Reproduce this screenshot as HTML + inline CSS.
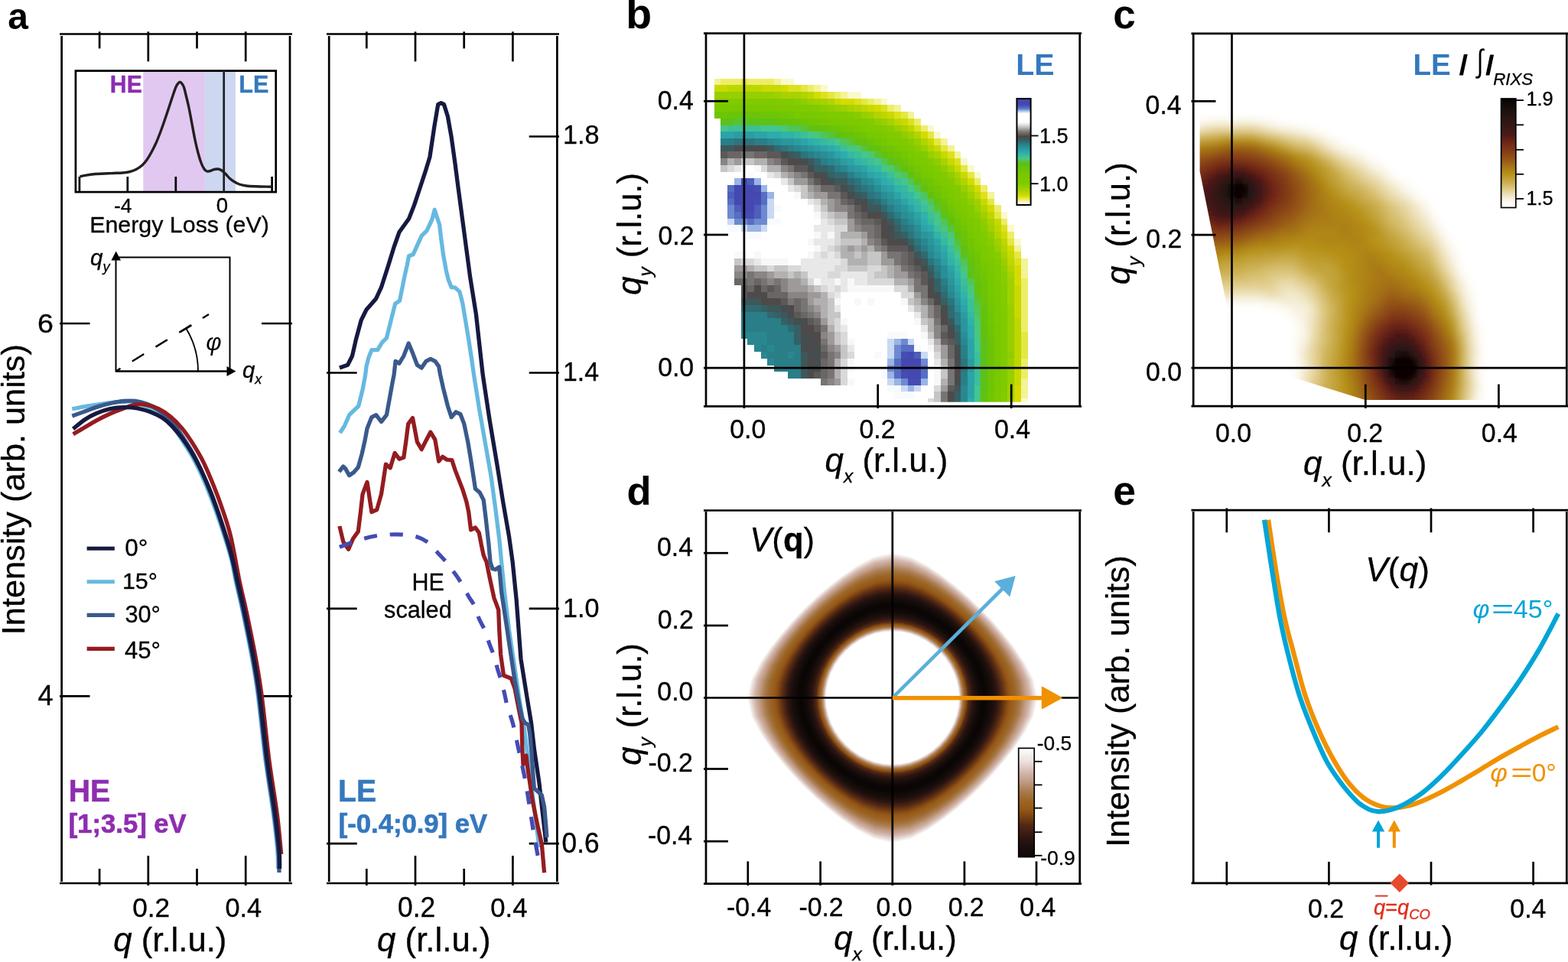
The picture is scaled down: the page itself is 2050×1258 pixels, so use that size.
<!DOCTYPE html>
<html><head><meta charset="utf-8"><title>Figure</title>
<style>
html,body{margin:0;padding:0;background:#fff;}
body{width:2050px;height:1258px;overflow:hidden;}
svg{display:block;font-family:"Liberation Sans",Arial,Helvetica,sans-serif;}
</style></head><body>
<svg xmlns="http://www.w3.org/2000/svg" width="2050" height="1258" viewBox="0 0 2050 1258">
<rect width="2050" height="1258" fill="#fff"/>
<text transform="translate(10.26,38.00)" font-size="47.92" xml:space="preserve"><tspan font-weight="bold">a</tspan></text>
<line x1="78" y1="44.5" x2="382" y2="44.5" stroke="#000" stroke-width="2.7"/>
<line x1="78" y1="1155" x2="382" y2="1155" stroke="#000" stroke-width="2.7"/>
<line x1="80.6" y1="47" x2="80.6" y2="1153" stroke="#000" stroke-width="2.7"/>
<line x1="379" y1="47" x2="379" y2="1153" stroke="#000" stroke-width="2.7"/>
<line x1="130.1" y1="41.4" x2="130.1" y2="63.4" stroke="#000" stroke-width="2.7"/>
<line x1="130.1" y1="1136" x2="130.1" y2="1158" stroke="#000" stroke-width="2.7"/>
<line x1="193.8" y1="41.4" x2="193.8" y2="80.4" stroke="#000" stroke-width="2.7"/>
<line x1="193.8" y1="1119" x2="193.8" y2="1158" stroke="#000" stroke-width="2.7"/>
<line x1="257.5" y1="41.4" x2="257.5" y2="63.4" stroke="#000" stroke-width="2.7"/>
<line x1="257.5" y1="1136" x2="257.5" y2="1158" stroke="#000" stroke-width="2.7"/>
<line x1="321.2" y1="41.4" x2="321.2" y2="80.4" stroke="#000" stroke-width="2.7"/>
<line x1="321.2" y1="1119" x2="321.2" y2="1158" stroke="#000" stroke-width="2.7"/>
<line x1="78" y1="423" x2="117.5" y2="423" stroke="#000" stroke-width="2.7"/>
<line x1="342" y1="423" x2="382" y2="423" stroke="#000" stroke-width="2.7"/>
<text transform="translate(49.12,434.90) scale(1.0447,1)" font-size="36.00" xml:space="preserve" stroke="#000" stroke-width="0.35" stroke-linejoin="round"><tspan>6</tspan></text>
<line x1="78" y1="910.4" x2="117.5" y2="910.4" stroke="#000" stroke-width="2.7"/>
<line x1="342" y1="910.4" x2="382" y2="910.4" stroke="#000" stroke-width="2.7"/>
<text transform="translate(49.40,922.30)" font-size="36.00" xml:space="preserve" stroke="#000" stroke-width="0.35" stroke-linejoin="round"><tspan>4</tspan></text>
<text transform="translate(173.19,1198.80) scale(0.9765,1)" font-size="36.00" xml:space="preserve" stroke="#000" stroke-width="0.35" stroke-linejoin="round"><tspan>0.2</tspan></text>
<text transform="translate(294.43,1198.80) scale(0.9512,1)" font-size="36.00" xml:space="preserve" stroke="#000" stroke-width="0.35" stroke-linejoin="round"><tspan>0.4</tspan></text>
<text transform="translate(148.27,1243.60)" font-size="43.71" xml:space="preserve" stroke="#000" stroke-width="0.35" stroke-linejoin="round"><tspan font-style="italic">q</tspan><tspan> (r.l.u.)</tspan></text>
<text transform="translate(31.60,830.20) rotate(-90) scale(1.0000,1)" font-size="43.29" xml:space="preserve" stroke="#000" stroke-width="0.35" stroke-linejoin="round"><tspan>Intensity (arb. units)</tspan></text>
<rect x="187.3" y="92" width="80.6" height="159" fill="#e1c8f0"/>
<rect x="267.9" y="92" width="40" height="159" fill="#cdd7f0"/>
<rect x="98.9" y="92.6" width="261.8" height="158.5" fill="none" stroke="#000" stroke-width="2.7"/>
<line x1="103.9" y1="231" x2="103.9" y2="251" stroke="#000" stroke-width="2.7"/>
<line x1="166.8" y1="231" x2="166.8" y2="251" stroke="#000" stroke-width="2.7"/>
<line x1="229.8" y1="231" x2="229.8" y2="251" stroke="#000" stroke-width="2.7"/>
<line x1="355.6" y1="231" x2="355.6" y2="251" stroke="#000" stroke-width="2.7"/>
<line x1="292.7" y1="92" x2="292.7" y2="251" stroke="#1e1e28" stroke-width="2.7"/>
<path d="M104.4,231 C105.3,230.8 106.6,230.2 110,229.6 C113.4,229 119.2,228 125,227.5 C130.8,227 139.2,226.8 145,226.6 C150.8,226.3 155.8,226.3 160,226 C164.2,225.7 167,225.2 170,224.5 C173,223.8 175.3,222.9 178,221.5 C180.7,220.1 183.7,218.1 186,216 C188.3,213.9 190,211.8 192,209 C194,206.2 196,202.7 198,199 C200,195.3 202,191.5 204,187 C206,182.5 208,177.3 210,172 C212,166.7 214,160.8 216,155 C218,149.2 220.2,142.5 222,137 C223.8,131.5 225.6,126 227,122 C228.4,118 229.2,115.3 230.2,113.2 C231.2,111.1 231.9,110.2 232.8,109.2 C233.7,108.2 234.5,107.2 235.4,107.3 C236.3,107.3 237.1,108.3 238,109.5 C238.9,110.7 239.8,112.1 240.6,114.5 C241.4,116.9 241.9,119.6 243,124 C244.1,128.4 245.7,134.7 247,141 C248.3,147.3 249.7,155 251,162 C252.3,169 253.7,176.7 255,183 C256.3,189.3 257.7,195 259,200 C260.3,205 261.7,209.5 263,213 C264.3,216.5 265.8,219.2 267,221 C268.2,222.8 269.2,223.6 270.5,224 C271.8,224.4 273.4,223.9 275,223.5 C276.6,223.1 278.3,221.9 280,221.5 C281.7,221.1 283.3,220.8 285,221 C286.7,221.2 288.3,221.9 290,223 C291.7,224.1 293.3,225.8 295,227.5 C296.7,229.2 298.2,231.3 300,233 C301.8,234.7 303.8,236.2 306,237.5 C308.2,238.8 310.3,240.1 313,241 C315.7,241.9 318.3,242.5 322,243 C325.7,243.5 329.4,243.6 335,243.8 C340.6,244 352.1,244.1 355.5,244.2" fill="none" stroke="#231f20" stroke-width="3.4" stroke-linejoin="round"/>
<text transform="translate(143.84,121.30) scale(0.9645,1)" font-size="31.30" xml:space="preserve" fill="#8e2db0" stroke="#8e2db0" stroke-width="0.40" stroke-linejoin="round"><tspan font-weight="bold">HE</tspan></text>
<text transform="translate(312.31,121.30) scale(0.9760,1)" font-size="31.30" xml:space="preserve" fill="#3478be" stroke="#3478be" stroke-width="0.40" stroke-linejoin="round"><tspan font-weight="bold">LE</tspan></text>
<text transform="translate(149.01,277.50)" font-size="26.38" xml:space="preserve" stroke="#000" stroke-width="0.30" stroke-linejoin="round"><tspan>-4</tspan></text>
<text transform="translate(282.80,277.50)" font-size="27.58" xml:space="preserve" stroke="#000" stroke-width="0.30" stroke-linejoin="round"><tspan>0</tspan></text>
<text transform="translate(117.17,304.00)" font-size="30.38" xml:space="preserve" stroke="#000" stroke-width="0.30" stroke-linejoin="round"><tspan>Energy Loss (eV)</tspan></text>
<path d="M151.5,336.5 H300.5 V485.5 H151.5 Z" fill="none" stroke="#000" stroke-width="2"/>
<line x1="151.5" y1="485.5" x2="300" y2="485.5" stroke="#000" stroke-width="2.2"/>
<path d="M145.5,340.5 L151.7,328.5 L158,340.5 Z" fill="#000"/>
<path d="M296.5,479 L308.5,485.5 L296.5,492 Z" fill="#000"/>
<path d="M151.5,485.5 L273,411" fill="none" stroke="#000" stroke-width="2.4" stroke-dasharray="18,18" stroke-dashoffset="-25"/>
<path d="M259,485.5 A107.5,107.5 0 0 0 243.3,429.5" fill="none" stroke="#000" stroke-width="1.8"/>
<line x1="236" y1="434" x2="250.5" y2="425.2" stroke="#000" stroke-width="2.2"/>
<text transform="translate(117.97,347.00)" font-size="29.53" xml:space="preserve" stroke="#000" stroke-width="0.30" stroke-linejoin="round"><tspan font-style="italic">q</tspan><tspan font-style="italic" font-size="18.31" dy="7.97">y</tspan></text>
<text transform="translate(316.97,494.00)" font-size="29.35" xml:space="preserve" stroke="#000" stroke-width="0.30" stroke-linejoin="round"><tspan font-style="italic">q</tspan><tspan font-style="italic" font-size="18.20" dy="7.92">x</tspan></text>
<text transform="translate(269.31,457.97)" font-size="31.11" xml:space="preserve"><tspan font-style="italic">φ</tspan></text>
<path d="M94.3,534.7 C97.1,534.2 105.2,532.6 110.9,531.6 C116.6,530.6 122.8,529.7 128.7,528.8 C134.6,527.9 141,526.9 146.5,526.3 C152,525.7 156.6,525.4 161.7,525.3 C166.8,525.2 171.1,524.2 177,525.8 C182.9,527.4 191.4,531.5 197.3,534.7 C203.2,537.9 207.9,541.1 212.6,544.9 C217.3,548.7 221.1,552.5 225.3,557.6 C229.5,562.7 233.8,569 238,575.4 C242.2,581.8 246.4,588.1 250.7,595.7 C254.9,603.3 259.2,611.8 263.5,621.1 C267.8,630.4 272,640.7 276.2,651.7 C280.4,662.7 284.7,674.6 288.9,687.3 C293.1,700 298.4,715.9 301.6,728 C304.8,740.1 305.6,747.7 308.3,760 C311,772.3 314.3,785.2 317.8,802 C321.3,818.8 326.2,842.7 329.5,860.6 C332.8,878.5 334.4,887 337.3,909.4 C340.2,931.8 343.8,969 347.2,995 C350.6,1021 355,1046 357.6,1065.6 C360.2,1085.2 361.8,1100.8 362.8,1112.5 C363.8,1124.2 363.5,1132.1 363.6,1136" fill="none" stroke="#66b9e0" stroke-width="5.3" />
<path d="M94.3,544.1 C97.1,543.1 105.2,540.1 110.9,538 C116.6,535.9 122.8,533.4 128.7,531.6 C134.6,529.8 141,528.2 146.5,527 C152,525.8 156.6,524.9 161.7,524.5 C166.8,524.1 171.9,523.9 177,524.5 C182.1,525.1 187.5,526.6 192.2,528.3 C196.9,530 200.8,531.9 205,534.7 C209.2,537.5 213.5,540.9 217.7,544.9 C221.9,548.9 226.2,553.3 230.4,558.8 C234.6,564.3 238.9,571.1 243.1,577.9 C247.3,584.7 251.6,591.2 255.8,599.5 C260,607.8 264.2,617.3 268.5,627.5 C272.8,637.7 277.1,648.7 281.3,660.6 C285.6,672.5 290.2,686.4 294,698.7 C297.8,711 301.6,724.1 304.2,734.3 C306.8,744.5 306.9,748.7 309.3,760 C311.7,771.3 315.3,785.2 318.8,802 C322.3,818.8 327.2,842.7 330.5,860.6 C333.8,878.5 335.4,887 338.3,909.4 C341.2,931.8 344.8,969 348.2,995 C351.6,1021 356,1046 358.6,1065.6 C361.2,1085.2 362.9,1099.9 364,1112.5 C365.1,1125.1 364.8,1136.2 365,1141" fill="none" stroke="#3a598c" stroke-width="5.3" />
<path d="M95.6,567.7 C98.1,566.2 105.8,561.8 110.9,558.8 C116,555.8 120.6,552.9 126.1,549.9 C131.6,546.9 138,543.7 143.9,541 C149.8,538.3 156.2,535.9 161.7,533.9 C167.2,531.9 171.9,529.8 177,529.1 C182.1,528.4 187.1,528.7 192.2,529.6 C197.3,530.5 202.4,532.2 207.5,534.7 C212.6,537.2 217.7,540.7 222.8,544.9 C227.9,549.1 233.3,554.6 238,560.1 C242.7,565.6 246.4,571.3 250.7,577.9 C254.9,584.5 259.2,591.2 263.5,599.5 C267.8,607.8 272,617.3 276.2,627.5 C280.4,637.7 284.7,648.3 288.9,660.6 C293.1,672.9 297.6,684.7 301.6,701.3 C305.6,717.9 309.6,743.2 313.1,760 C316.6,776.8 319.1,785.2 322.6,802 C326.1,818.8 331.1,842.7 334.3,860.6 C337.6,878.5 339.2,887 342.1,909.4 C345.1,931.8 348.6,969 352,995 C355.4,1021 359.8,1045.3 362.4,1065.6 C365,1085.9 366.8,1108.4 367.7,1117" fill="none" stroke="#941c20" stroke-width="5.3" />
<path d="M95.6,560.9 C98.1,558.9 105.8,552.1 110.9,548.7 C116,545.3 120.6,542.8 126.1,540.5 C131.6,538.2 138,536 143.9,534.7 C149.8,533.4 155.8,532.7 161.7,532.6 C167.6,532.5 173.6,532.8 179.5,533.9 C185.4,535 191.8,536.9 197.3,539 C202.8,541.1 207.9,543.5 212.6,546.6 C217.3,549.7 221.1,553.2 225.3,557.6 C229.5,562 233.8,567.1 238,572.8 C242.2,578.5 246.4,584.7 250.7,591.9 C254.9,599.1 259.2,607.2 263.5,616.1 C267.8,625 272,634.5 276.2,645.3 C280.4,656.1 284.7,668.2 288.9,680.9 C293.1,693.6 298,708.4 301.6,721.6 C305.2,734.8 307.4,746.6 310.5,760 C313.6,773.4 316.5,785.2 320,802 C323.5,818.8 328.4,842.7 331.7,860.6 C334.9,878.5 336.6,887 339.5,909.4 C342.4,931.8 346,969 349.4,995 C352.8,1021 357.2,1046 359.8,1065.6 C362.4,1085.2 364,1100.8 365,1112.5 C366,1124.2 365.5,1132.1 365.6,1136" fill="none" stroke="#161a40" stroke-width="5.3" />
<line x1="113.6" y1="717.2" x2="149.8" y2="717.2" stroke="#161a40" stroke-width="5.1"/>
<text transform="translate(163.14,727.00)" font-size="31.46" xml:space="preserve" stroke="#000" stroke-width="0.30" stroke-linejoin="round"><tspan>0°</tspan></text>
<line x1="113.6" y1="760.8" x2="149.8" y2="760.8" stroke="#66b9e0" stroke-width="5.1"/>
<text transform="translate(159.92,770.40)" font-size="30.40" xml:space="preserve" stroke="#000" stroke-width="0.30" stroke-linejoin="round"><tspan>15°</tspan></text>
<line x1="113.6" y1="804.4" x2="149.8" y2="804.4" stroke="#3a598c" stroke-width="5.1"/>
<text transform="translate(163.47,813.70)" font-size="30.71" xml:space="preserve" stroke="#000" stroke-width="0.30" stroke-linejoin="round"><tspan>30°</tspan></text>
<line x1="113.6" y1="848.4" x2="149.8" y2="848.4" stroke="#941c20" stroke-width="5.1"/>
<text transform="translate(162.92,860.60)" font-size="31.09" xml:space="preserve" stroke="#000" stroke-width="0.30" stroke-linejoin="round"><tspan>45°</tspan></text>
<text transform="translate(89.65,1047.70) scale(0.9735,1)" font-size="40.29" xml:space="preserve" fill="#8e2db0" stroke="#8e2db0" stroke-width="0.50" stroke-linejoin="round"><tspan font-weight="bold">HE</tspan></text>
<text transform="translate(89.80,1089.00)" font-size="34.60" xml:space="preserve" fill="#8e2db0" stroke="#8e2db0" stroke-width="0.70" stroke-linejoin="round"><tspan font-weight="bold">[1;3.5] eV</tspan></text>
<line x1="427" y1="44.5" x2="731" y2="44.5" stroke="#000" stroke-width="2.7"/>
<line x1="427" y1="1155" x2="731" y2="1155" stroke="#000" stroke-width="2.7"/>
<line x1="430.2" y1="47" x2="430.2" y2="1153" stroke="#000" stroke-width="2.7"/>
<line x1="728.4" y1="47" x2="728.4" y2="1153" stroke="#000" stroke-width="2.7"/>
<line x1="479.3" y1="41.4" x2="479.3" y2="63.4" stroke="#000" stroke-width="2.7"/>
<line x1="479.3" y1="1136" x2="479.3" y2="1158" stroke="#000" stroke-width="2.7"/>
<line x1="543" y1="41.4" x2="543" y2="80.4" stroke="#000" stroke-width="2.7"/>
<line x1="543" y1="1119" x2="543" y2="1158" stroke="#000" stroke-width="2.7"/>
<line x1="606.7" y1="41.4" x2="606.7" y2="63.4" stroke="#000" stroke-width="2.7"/>
<line x1="606.7" y1="1136" x2="606.7" y2="1158" stroke="#000" stroke-width="2.7"/>
<line x1="670.4" y1="41.4" x2="670.4" y2="80.4" stroke="#000" stroke-width="2.7"/>
<line x1="670.4" y1="1119" x2="670.4" y2="1158" stroke="#000" stroke-width="2.7"/>
<line x1="691.7" y1="178.5" x2="731" y2="178.5" stroke="#000" stroke-width="2.7"/>
<text transform="translate(735.93,188.30) scale(0.9514,1)" font-size="36.00" xml:space="preserve" stroke="#000" stroke-width="0.35" stroke-linejoin="round"><tspan>1.8</tspan></text>
<line x1="427" y1="487.5" x2="466.7" y2="487.5" stroke="#000" stroke-width="2.7"/>
<line x1="691.7" y1="487.5" x2="731" y2="487.5" stroke="#000" stroke-width="2.7"/>
<text transform="translate(735.96,497.90) scale(0.9403,1)" font-size="36.00" xml:space="preserve" stroke="#000" stroke-width="0.35" stroke-linejoin="round"><tspan>1.4</tspan></text>
<line x1="427" y1="795.9" x2="466.7" y2="795.9" stroke="#000" stroke-width="2.7"/>
<line x1="691.7" y1="795.9" x2="731" y2="795.9" stroke="#000" stroke-width="2.7"/>
<text transform="translate(735.94,806.50) scale(0.9477,1)" font-size="36.00" xml:space="preserve" stroke="#000" stroke-width="0.35" stroke-linejoin="round"><tspan>1.0</tspan></text>
<line x1="427" y1="1103.1" x2="466.7" y2="1103.1" stroke="#000" stroke-width="2.7"/>
<line x1="691.7" y1="1103.1" x2="731" y2="1103.1" stroke="#000" stroke-width="2.7"/>
<text transform="translate(734.59,1114.70) scale(0.9791,1)" font-size="36.00" xml:space="preserve" stroke="#000" stroke-width="0.35" stroke-linejoin="round"><tspan>0.6</tspan></text>
<text transform="translate(520.08,1198.80) scale(0.9829,1)" font-size="36.00" xml:space="preserve" stroke="#000" stroke-width="0.35" stroke-linejoin="round"><tspan>0.2</tspan></text>
<text transform="translate(641.32,1198.80) scale(0.9617,1)" font-size="36.00" xml:space="preserve" stroke="#000" stroke-width="0.35" stroke-linejoin="round"><tspan>0.4</tspan></text>
<text transform="translate(493.07,1243.60)" font-size="43.80" xml:space="preserve" stroke="#000" stroke-width="0.35" stroke-linejoin="round"><tspan font-style="italic">q</tspan><tspan> (r.l.u.)</tspan></text>
<polyline points="444.5,566.1 450.7,556.3 456.6,542.7 468.7,531 474.1,509.5 477.7,490 479,479.1 482,467.4 485.9,457.7 493.7,457.7 499.5,447.9 505.4,442 509.3,426.5 513.2,410.9 516.7,397.2 522.5,393.3 524.9,381.6 528.8,362 532.3,346.5 534.6,334.8 540.1,332.8 545.4,321.1 551.2,308.4 558,301.6 564.9,287 568.2,274.3 570.7,282 574.6,293.8 576.6,311.3 579.5,332.8 583.4,354.3 586.3,366 590.2,375.7 595.1,376.1 601,381.6 604.9,397.2 608.8,420.6 612.7,444 616.6,469.4 619.5,490 626.3,533 634.1,577.8 642,622.7 647.8,665.6 652.7,704.6 655.6,735 659.5,774 665.4,822.8 673.2,875.5 679,914.5 684.9,949.6 688.8,980 697,1045 705,1108" fill="none" stroke="#66b9e0" stroke-width="5.3" stroke-linejoin="round"/>
<polyline points="443.9,481.1 454.6,477.2 460.5,465.5 465.4,444 472.2,418.7 479,405 491.7,390.4 498.5,375.7 507.3,348.4 515.1,323 522,303.5 534.6,286 541.5,268.4 549.3,245 556.1,224.4 562,204.9 567.8,165.9 572.7,136.6 576.6,134.6 580.5,136.6 585.4,152.2 590.2,179.5 595.1,214.6 599,245 606.8,303.5 614.6,362 622.4,410.9 631.2,490 640,548.5 649.8,607 657.6,655.9 665.4,700.7 670.2,735 675.1,783.8 681,861.8 688.8,910.6 694.6,945.7 698.5,980 705,1024.2 709,1060 713.8,1101.5" fill="none" stroke="#161a40" stroke-width="5.3" stroke-linejoin="round"/>
<polyline points="443.9,688 448.8,708.5 455.6,718.3 461.5,704.6 468.3,694.9 471.2,671.5 474.1,646.1 480,630.5 485.9,669.5 492.7,666.6 498.5,646.1 501.5,626.6 504.4,607.1 510.2,611.9 516.1,592.4 522,600.2 527.8,598.3 530.7,577.8 533.7,554.4 539.5,546.6 545.4,577.8 551.2,587.6 557.1,575.9 562.9,565.1 568.8,574.9 573.7,603.2 578.5,597.3 584.4,601.2 590.8,601.6 595.1,614.9 604.9,640.2 609.8,655.9 612.7,669.5 615.6,692.9 621.5,690 626.3,696.8 629.3,712.4 632.2,726.1 636.1,735 640,754.5 645.9,781.8 651.7,797.4 652.7,822.8 654.6,856 658.5,883.3 668.3,887.2 673.2,900.9 678,926.2 682,945.7 682.9,980 684,1000 688,988 689.5,1002 696.1,1046.3 702.8,1079.4 708.3,1103.8 711.6,1141.3" fill="none" stroke="#941c20" stroke-width="5.3" stroke-linejoin="round"/>
<path d="M443.9,715.4 C446.6,714.4 454.3,711.5 460,709.5 C465.7,707.5 472.7,705.2 478,703.7 C483.3,702.2 487.2,701.4 491.7,700.7 C496.2,700 500.8,699.6 505,699.3 C509.2,699 513.5,698.8 517.1,698.8 C520.7,698.8 522.2,698.7 526.8,699.2 C531.3,699.7 538.9,700 544.4,701.7 C549.9,703.4 555.5,706.1 560,709.5 C564.5,712.9 567.8,718 571.7,722.2 C575.6,726.5 579.5,730.3 583.4,735 C587.3,739.7 591.9,746.1 595.1,750.6 C598.4,755.1 600,757.4 602.9,762.3 C605.8,767.2 609.8,774.8 612.7,779.9 C615.6,785 618.2,787.8 620.5,792.6 C622.8,797.5 624,803.6 626.3,809 C628.6,814.4 631.8,819.2 634.1,824.8 C636.4,830.3 638,836.8 640,842.3 C642,847.8 644.1,852.4 645.9,857.9 C647.7,863.4 649.1,870 650.7,875.5 C652.3,881 654.1,885.8 655.6,891 C657.1,896.2 658.2,901.2 659.5,906.7 C660.8,912.2 661.8,918.4 663.4,924.3 C665,930.1 667.7,936.3 669.3,941.8 C670.9,947.3 671.8,951 673.2,957.4 C674.7,963.8 675.8,970 678,980 C680.2,990 683.9,1005.8 686.2,1017.6 C688.5,1029.4 689.9,1039.3 691.7,1050.7 C693.5,1062.1 695.4,1075 697.2,1086 C699.1,1097 701.5,1110.3 702.8,1117 C704.1,1123.7 704.6,1124.4 705,1125.9" fill="none" stroke="#444bb4" stroke-width="5.2" stroke-dasharray="17.3,16.7"/>
<polyline points="443.3,616.8 448.8,610 451.7,612.9 456.6,621.7 462.4,617.8 468.3,611 473.2,593.4 477.1,575.9 480,560.2 485.9,545.6 491.7,542.7 498.5,551.5 505.4,542.7 509.3,521.2 513.2,499.8 515.1,490 517.1,472.3 522,475.2 527.8,465.5 534.2,448.9 539.5,461.6 545.4,477.2 551.2,481.1 557.1,472.3 562.9,469.4 568.8,472.3 573.7,479.1 575.6,490 579.5,507.6 585.4,531 590.2,545.6 596.1,538.8 602,541.7 606.8,554.4 611.7,577.8 615.6,601.2 621.5,639.3 627.3,644.1 632.2,653.9 635.1,677.3 639,712.4 641,735 643.9,743.8 647.8,744.8 652.7,741.5 655.6,774 661.5,813 667.3,852 673.2,891 679,922.3 682.9,939.9 686.8,945.7 690.7,947.7 692.7,959.4 694.6,980 698.3,1030.8 708.3,1039.7 711.6,1055.1 713.8,1079.4 714.9,1095" fill="none" stroke="#3a598c" stroke-width="5.3" stroke-linejoin="round"/>
<text transform="translate(538.46,771.70)" font-size="30.51" xml:space="preserve" stroke="#000" stroke-width="0.30" stroke-linejoin="round"><tspan>HE</tspan></text>
<text transform="translate(502.08,808.20)" font-size="30.66" xml:space="preserve" stroke="#000" stroke-width="0.30" stroke-linejoin="round"><tspan>scaled</tspan></text>
<text transform="translate(442.06,1047.70) scale(0.9787,1)" font-size="40.00" xml:space="preserve" fill="#3478be" stroke="#3478be" stroke-width="0.50" stroke-linejoin="round"><tspan font-weight="bold">LE</tspan></text>
<text transform="translate(442.69,1089.00)" font-size="34.65" xml:space="preserve" fill="#3478be" stroke="#3478be" stroke-width="0.70" stroke-linejoin="round"><tspan font-weight="bold">[-0.4;0.9] eV</tspan></text>
<text transform="translate(818.20,37.30)" font-size="55.45" xml:space="preserve"><tspan font-weight="bold">b</tspan></text>
<defs><clipPath id="clb"><rect x="924" y="46" width="486" height="479.7"/></clipPath></defs><g shape-rendering="crispEdges" clip-path="url(#clb)">
<path fill="#f9f9cd" d="M1335,521h9v9h-9zM1326,312h9v9h-9zM1317,294h9v9h-9zM1309,277h8v9h-8zM1274,225h8v8h-8zM1265,216h9v9h-9zM1256,207h9v9h-9zM1221,172h9v9h-9zM1213,164h8v8h-8zM1152,129h8v8h-8zM1108,120h18v9h-18zM1073,111h9v9h-9zM1021,103h17v8h-17z"/>
<path fill="#f3f397" d="M1335,512h9v9h-9zM1335,504h9v8h-9zM1335,495h9v9h-9zM1335,355h9v9h-9zM1335,347h9v8h-9zM1335,338h9v9h-9zM1326,321h9v8h-9zM1291,251h9v9h-9zM1248,198h8v9h-8zM1239,190h9v8h-9zM1230,181h9v9h-9zM1187,146h8v9h-8zM1169,137h9v9h-9zM1143,129h9v8h-9zM1099,120h9v9h-9zM1064,111h9v9h-9zM934,103h8v8h-8zM1012,103h9v8h-9z"/>
<path fill="#eded68" d="M1335,486h9v9h-9zM1335,478h9v8h-9zM1335,469h9v9h-9zM1335,425h9v9h-9zM1335,416h9v9h-9zM1335,408h9v8h-9zM1335,399h9v9h-9zM1335,390h9v9h-9zM1335,382h9v8h-9zM1335,373h9v9h-9zM1335,364h9v9h-9zM1317,303h9v9h-9zM1309,286h8v8h-8zM1300,268h9v9h-9zM1282,242h9v9h-9zM1274,233h8v9h-8zM1204,164h9v8h-9zM1195,155h9v9h-9zM1160,137h9v9h-9zM1134,129h9v8h-9zM1091,120h8v9h-8zM1056,111h8v9h-8zM942,103h27v8h-27zM977,103h35v8h-35z"/>
<path fill="#e5e743" d="M1335,460h9v9h-9zM1335,451h9v9h-9zM1335,443h9v8h-9zM1335,434h9v9h-9zM1326,329h9v9h-9zM1317,312h9v9h-9zM1300,277h9v9h-9zM1291,260h9v8h-9zM1265,225h9v8h-9zM1256,216h9v9h-9zM1230,190h9v8h-9zM1221,181h9v9h-9zM1213,172h8v9h-8zM1178,146h9v9h-9zM1126,129h8v8h-8zM1082,120h9v9h-9zM1047,111h9v9h-9zM969,103h8v8h-8z"/>
<path fill="#dde11d" d="M1326,338h9v9h-9zM1309,294h8v9h-8zM1282,251h9v9h-9zM1248,207h8v9h-8zM1239,198h9v9h-9zM1195,164h9v8h-9zM1187,155h8v9h-8zM1169,146h9v9h-9zM1152,137h8v9h-8zM1117,129h9v8h-9zM1073,120h9v9h-9zM1030,111h17v9h-17z"/>
<path fill="#d5db00" d="M1326,521h9v9h-9zM1326,512h9v9h-9zM1326,504h9v8h-9zM1326,364h9v9h-9zM1326,355h9v9h-9zM1326,347h9v8h-9zM1317,321h9v8h-9zM1309,303h8v9h-8zM1291,268h9v9h-9zM1274,242h8v9h-8zM1265,233h9v9h-9zM1204,172h9v9h-9zM1143,137h9v9h-9zM1099,129h18v8h-18zM1064,120h9v9h-9zM1021,111h9v9h-9z"/>
<path fill="#c9d900" d="M1326,495h9v9h-9zM1326,486h9v9h-9zM1326,478h9v8h-9zM1326,408h9v8h-9zM1326,399h9v9h-9zM1326,390h9v9h-9zM1326,382h9v8h-9zM1326,373h9v9h-9zM1317,329h9v9h-9zM1300,286h9v8h-9zM1282,260h9v8h-9zM1256,225h9v8h-9zM1248,216h8v9h-8zM1239,207h9v9h-9zM1230,198h9v9h-9zM1221,190h9v8h-9zM1213,181h8v9h-8zM1178,155h9v9h-9zM1160,146h9v9h-9zM1134,137h9v9h-9zM1091,129h8v8h-8zM934,111h17v9h-17zM995,111h26v9h-26z"/>
<path fill="#bed600" d="M1326,469h9v9h-9zM1326,460h9v9h-9zM1326,451h9v9h-9zM1326,443h9v8h-9zM1326,434h9v9h-9zM1326,425h9v9h-9zM1326,416h9v9h-9zM1317,338h9v9h-9zM1309,312h8v9h-8zM1300,294h9v9h-9zM1291,277h9v9h-9zM1274,251h8v9h-8zM1187,164h8v8h-8zM1169,155h9v9h-9zM1152,146h8v9h-8zM1126,137h8v9h-8zM1056,120h8v9h-8zM951,111h44v9h-44z"/>
<path fill="#b2d400" d="M1317,347h9v8h-9zM1309,321h8v8h-8zM1300,303h9v9h-9zM1282,268h9v9h-9zM1265,242h9v9h-9zM1256,233h9v9h-9zM1213,190h8v8h-8zM1204,181h9v9h-9zM1195,172h9v9h-9zM1143,146h9v9h-9zM1117,137h9v9h-9zM1082,129h9v8h-9zM1047,120h9v9h-9z"/>
<path fill="#a8d200" d="M1317,521h9v9h-9zM1317,355h9v9h-9zM1309,329h8v9h-8zM1291,286h9v8h-9zM1248,225h8v8h-8zM1239,216h9v9h-9zM1230,207h9v9h-9zM1221,198h9v9h-9zM1178,164h9v8h-9zM1160,155h9v9h-9zM1108,137h9v9h-9zM1073,129h9v8h-9zM1021,120h26v9h-26z"/>
<path fill="#a0d000" d="M1317,512h9v9h-9zM1317,504h9v8h-9zM1317,390h9v9h-9zM1317,382h9v8h-9zM1317,373h9v9h-9zM1317,364h9v9h-9zM1300,312h9v9h-9zM1291,294h9v9h-9zM1282,277h9v9h-9zM1274,260h8v8h-8zM1265,251h9v9h-9zM1187,172h8v9h-8zM1134,146h9v9h-9zM1099,137h9v9h-9zM1064,129h9v8h-9zM1012,120h9v9h-9z"/>
<path fill="#98cf00" d="M1317,495h9v9h-9zM1317,486h9v9h-9zM1317,478h9v8h-9zM1317,469h9v9h-9zM1317,451h9v9h-9zM1317,443h9v8h-9zM1317,434h9v9h-9zM1317,425h9v9h-9zM1317,416h9v9h-9zM1317,408h9v8h-9zM1317,399h9v9h-9zM1309,338h8v9h-8zM1300,321h9v8h-9zM1274,268h8v9h-8zM1256,242h9v9h-9zM1248,233h8v9h-8zM1213,198h8v9h-8zM1204,190h9v8h-9zM1195,181h9v9h-9zM1169,164h9v8h-9zM1152,155h8v9h-8zM1126,146h8v9h-8zM1091,137h8v9h-8zM1056,129h8v8h-8zM934,120h78v9h-78z"/>
<path fill="#90cd00" d="M1317,460h9v9h-9zM1309,347h8v8h-8zM1291,303h9v9h-9zM1282,286h9v8h-9zM1265,260h9v8h-9zM1239,225h9v8h-9zM1230,216h9v9h-9zM1221,207h9v9h-9zM1178,172h9v9h-9zM1143,155h9v9h-9zM1082,137h9v9h-9zM1047,129h9v8h-9z"/>
<path fill="#88cc00" d="M1309,364h8v9h-8zM1309,355h8v9h-8zM1300,329h9v9h-9zM1291,312h9v9h-9zM1282,294h9v9h-9zM1274,277h8v9h-8zM1256,251h9v9h-9zM1195,190h9v8h-9zM1187,181h8v9h-8zM1160,164h9v8h-9zM1117,146h9v9h-9zM1073,137h9v9h-9zM1038,129h9v8h-9z"/>
<path fill="#82cb00" d="M1309,521h8v9h-8zM1309,512h8v9h-8zM1309,390h8v9h-8zM1309,382h8v8h-8zM1309,373h8v9h-8zM1300,338h9v9h-9zM1265,268h9v9h-9zM1248,242h8v9h-8zM1239,233h9v9h-9zM1213,207h8v9h-8zM1204,198h9v9h-9zM1169,172h9v9h-9zM1152,164h8v8h-8zM1134,155h9v9h-9zM1108,146h9v9h-9zM1064,137h9v9h-9zM1021,129h17v8h-17z"/>
<path fill="#80ca00" d="M1309,504h8v8h-8zM1309,495h8v9h-8zM1309,486h8v9h-8zM1309,478h8v8h-8zM1309,443h8v8h-8zM1309,434h8v9h-8zM1309,425h8v9h-8zM1309,416h8v9h-8zM1309,408h8v8h-8zM1309,399h8v9h-8zM1300,347h9v8h-9zM1291,321h9v8h-9zM1282,303h9v9h-9zM1274,286h8v8h-8zM1256,260h9v8h-9zM1230,225h9v8h-9zM1221,216h9v9h-9zM1178,181h9v9h-9zM1126,155h8v9h-8zM1099,146h9v9h-9zM934,129h17v8h-17zM969,129h8v8h-8zM1003,129h18v8h-18z"/>
<path fill="#7fca00" d="M1309,469h8v9h-8zM1309,460h8v9h-8zM1309,451h8v9h-8zM1300,355h9v9h-9zM1291,329h9v9h-9zM1265,277h9v9h-9zM1248,251h8v9h-8zM1187,190h8v8h-8zM1160,172h9v9h-9zM1143,164h9v8h-9zM1091,146h8v9h-8zM1047,137h17v9h-17zM951,129h18v8h-18zM977,129h26v8h-26z"/>
<path fill="#7dca00" d="M1300,373h9v9h-9zM1300,364h9v9h-9zM1282,312h9v9h-9zM1274,294h8v9h-8zM1256,268h9v9h-9zM1239,242h9v9h-9zM1230,233h9v9h-9zM1221,225h9v8h-9zM1213,216h8v9h-8zM1204,207h9v9h-9zM1195,198h9v9h-9zM1169,181h9v9h-9zM1134,164h9v8h-9zM1117,155h9v9h-9zM1082,146h9v9h-9zM1038,137h9v9h-9z"/>
<path fill="#7cc900" d="M1300,521h9v9h-9zM1300,399h9v9h-9zM1300,390h9v9h-9zM1300,382h9v8h-9zM1291,338h9v9h-9zM1282,321h9v8h-9zM1274,303h8v9h-8zM1265,286h9v8h-9zM1248,260h8v8h-8zM1178,190h9v8h-9zM1152,172h8v9h-8zM1108,155h9v9h-9zM1073,146h9v9h-9zM1021,137h17v9h-17z"/>
<path fill="#7bc900" d="M1300,512h9v9h-9zM1300,504h9v8h-9zM1300,416h9v9h-9zM1300,408h9v8h-9zM1291,347h9v8h-9zM1282,329h9v9h-9zM1256,277h9v9h-9zM1239,251h9v9h-9zM1195,207h9v9h-9zM1187,198h8v9h-8zM1160,181h9v9h-9zM1126,164h8v8h-8zM1099,155h9v9h-9zM1064,146h9v9h-9zM1012,137h9v9h-9z"/>
<path fill="#79c800" d="M1300,495h9v9h-9zM1300,486h9v9h-9zM1300,478h9v8h-9zM1300,469h9v9h-9zM1300,460h9v9h-9zM1300,451h9v9h-9zM1300,443h9v8h-9zM1300,434h9v9h-9zM1300,425h9v9h-9zM1291,355h9v9h-9zM1274,312h8v9h-8zM1265,294h9v9h-9zM1248,268h8v9h-8zM1230,242h9v9h-9zM1221,233h9v9h-9zM1213,225h8v8h-8zM1204,216h9v9h-9zM1169,190h9v8h-9zM1143,172h9v9h-9zM1091,155h8v9h-8zM1056,146h8v9h-8zM934,137h78v9h-78z"/>
<path fill="#78c800" d="M1291,382h9v8h-9zM1291,373h9v9h-9zM1291,364h9v9h-9zM1282,338h9v9h-9zM1274,321h8v8h-8zM1265,303h9v9h-9zM1256,286h9v8h-9zM1239,260h9v8h-9zM1152,181h8v9h-8zM1134,172h9v9h-9zM1117,164h9v8h-9zM1082,155h9v9h-9zM1038,146h18v9h-18z"/>
<path fill="#74c702" d="M1291,399h9v9h-9zM1291,390h9v9h-9zM1282,347h9v8h-9zM1248,277h8v9h-8zM1230,251h9v9h-9zM1204,225h9v8h-9zM1195,216h9v9h-9zM1187,207h8v9h-8zM1178,198h9v9h-9zM1108,164h9v8h-9zM1073,155h9v9h-9zM1030,146h8v9h-8z"/>
<path fill="#71c604" d="M1291,521h9v9h-9zM1291,512h9v9h-9zM1291,416h9v9h-9zM1291,408h9v8h-9zM1282,355h9v9h-9zM1274,329h8v9h-8zM1265,312h9v9h-9zM1256,294h9v9h-9zM1239,268h9v9h-9zM1221,242h9v9h-9zM1213,233h8v9h-8zM1160,190h9v8h-9zM1143,181h9v9h-9zM1126,172h8v9h-8zM1099,164h9v8h-9zM1064,155h9v9h-9zM1021,146h9v9h-9z"/>
<path fill="#6ec506" d="M1291,504h9v8h-9zM1291,495h9v9h-9zM1291,486h9v9h-9zM1291,478h9v8h-9zM1291,434h9v9h-9zM1291,425h9v9h-9zM1282,364h9v9h-9zM1274,338h8v9h-8zM1265,321h9v8h-9zM1248,286h8v8h-8zM1169,198h9v9h-9zM1117,172h9v9h-9zM1056,155h8v9h-8zM934,146h17v9h-17zM995,146h26v9h-26z"/>
<path fill="#6bc408" d="M1291,469h9v9h-9zM1291,460h9v9h-9zM1291,451h9v9h-9zM1291,443h9v8h-9zM1282,382h9v8h-9zM1282,373h9v9h-9zM1274,347h8v8h-8zM1256,303h9v9h-9zM1230,260h9v8h-9zM1221,251h9v9h-9zM1213,242h8v9h-8zM1204,233h9v9h-9zM1195,225h9v8h-9zM1187,216h8v9h-8zM1178,207h9v9h-9zM1152,190h8v8h-8zM1134,181h9v9h-9zM1091,164h8v8h-8zM1047,155h9v9h-9zM951,146h44v9h-44z"/>
<path fill="#68c30a" d="M1282,390h9v9h-9zM1274,355h8v9h-8zM1265,329h9v9h-9zM1256,312h9v9h-9zM1248,294h8v9h-8zM1239,277h9v9h-9zM1160,198h9v9h-9zM1108,172h9v9h-9zM1082,164h9v8h-9zM1038,155h9v9h-9z"/>
<path fill="#64c20c" d="M1282,521h9v9h-9zM1282,416h9v9h-9zM1282,408h9v8h-9zM1282,399h9v9h-9zM1274,364h8v9h-8zM1265,338h9v9h-9zM1230,268h9v9h-9zM1169,207h9v9h-9zM1143,190h9v8h-9zM1126,181h8v9h-8zM1099,172h9v9h-9zM1073,164h9v8h-9zM1021,155h17v9h-17z"/>
<path fill="#61c10e" d="M1282,512h9v9h-9zM1282,434h9v9h-9zM1282,425h9v9h-9zM1274,373h8v9h-8zM1256,321h9v8h-9zM1248,303h8v9h-8zM1239,286h9v8h-9zM1221,260h9v8h-9zM1213,251h8v9h-8zM1204,242h9v9h-9zM1195,233h9v9h-9zM1187,225h8v8h-8zM1178,216h9v9h-9zM1152,198h8v9h-8zM1117,181h9v9h-9zM1064,164h9v8h-9zM1012,155h9v9h-9z"/>
<path fill="#5dc118" d="M1282,504h9v8h-9zM1282,495h9v9h-9zM1282,486h9v9h-9zM1282,478h9v8h-9zM1282,469h9v9h-9zM1282,460h9v9h-9zM1282,451h9v9h-9zM1282,443h9v8h-9zM1274,382h8v8h-8zM1265,355h9v9h-9zM1265,347h9v8h-9zM1256,329h9v9h-9zM1230,277h9v9h-9zM1160,207h9v9h-9zM1134,190h9v8h-9zM1091,172h8v9h-8zM1056,164h8v8h-8zM942,155h18v9h-18zM977,155h35v9h-35z"/>
<path fill="#57c338" d="M1274,390h8v9h-8zM1248,312h8v9h-8zM1239,294h9v9h-9zM1221,268h9v9h-9zM1169,216h9v9h-9zM1143,198h9v9h-9zM1126,190h8v8h-8zM1108,181h9v9h-9zM1082,172h9v9h-9zM1047,164h9v8h-9zM960,155h17v9h-17z"/>
<path fill="#50c558" d="M1274,408h8v8h-8zM1274,399h8v9h-8zM1265,364h9v9h-9zM1256,338h9v9h-9zM1248,321h8v8h-8zM1230,286h9v8h-9zM1213,260h8v8h-8zM1204,251h9v9h-9zM1195,242h9v9h-9zM1187,233h8v9h-8zM1178,225h9v8h-9zM1152,207h8v9h-8zM1099,181h9v9h-9zM1073,172h9v9h-9zM1030,164h17v8h-17z"/>
<path fill="#4ac778" d="M1274,434h8v9h-8zM1274,425h8v9h-8zM1274,416h8v9h-8zM1265,373h9v9h-9zM1256,347h9v8h-9zM1239,303h9v9h-9zM1230,294h9v9h-9zM1221,277h9v9h-9zM1213,268h8v9h-8zM1169,225h9v8h-9zM1160,216h9v9h-9zM1134,198h9v9h-9zM1117,190h9v8h-9zM1064,172h9v9h-9zM1021,164h9v8h-9z"/>
<path fill="#44c68f" d="M1274,521h8v9h-8zM1274,512h8v9h-8zM1274,504h8v8h-8zM1274,451h8v9h-8zM1274,443h8v8h-8zM1265,382h9v8h-9zM1256,355h9v9h-9zM1248,329h8v9h-8zM1239,312h9v9h-9zM1221,286h9v8h-9zM1204,260h9v8h-9zM1195,251h9v9h-9zM1187,242h8v9h-8zM1178,233h9v9h-9zM1152,216h8v9h-8zM1143,207h9v9h-9zM1126,198h8v9h-8zM1108,190h9v8h-9zM1091,181h8v9h-8zM1056,172h8v9h-8zM942,164h9v8h-9zM995,164h26v8h-26z"/>
<path fill="#3dbf98" d="M1274,495h8v9h-8zM1274,486h8v9h-8zM1274,478h8v8h-8zM1274,469h8v9h-8zM1274,460h8v9h-8zM1265,399h9v9h-9zM1265,390h9v9h-9zM1256,364h9v9h-9zM1248,338h8v9h-8zM1239,321h9v8h-9zM1230,303h9v9h-9zM1221,294h9v9h-9zM1213,277h8v9h-8zM1204,268h9v9h-9zM1169,233h9v9h-9zM1160,225h9v8h-9zM1134,207h9v9h-9zM1117,198h9v9h-9zM1099,190h9v8h-9zM1082,181h9v9h-9zM1047,172h9v9h-9zM951,164h44v8h-44z"/>
<path fill="#37b9a1" d="M1265,408h9v8h-9zM1256,373h9v9h-9zM1248,347h8v8h-8zM1239,329h9v9h-9zM1230,312h9v9h-9zM1213,286h8v8h-8zM1195,260h9v8h-9zM1187,251h8v9h-8zM1178,242h9v9h-9zM1143,216h9v9h-9zM1126,207h8v9h-8zM1108,198h9v9h-9zM1073,181h9v9h-9zM1038,172h9v9h-9z"/>
<path fill="#31b3aa" d="M1265,416h9v9h-9zM1256,382h9v8h-9zM1248,355h8v9h-8zM1239,338h9v9h-9zM1221,303h9v9h-9zM1204,277h9v9h-9zM1195,268h9v9h-9zM1187,260h8v8h-8zM1178,251h9v9h-9zM1169,242h9v9h-9zM1160,233h9v9h-9zM1152,225h8v8h-8zM1134,216h9v9h-9zM1117,207h9v9h-9zM1091,190h8v8h-8zM1064,181h9v9h-9zM1021,172h17v9h-17z"/>
<path fill="#2dacad" d="M1265,521h9v9h-9zM1265,434h9v9h-9zM1265,425h9v9h-9zM1256,390h9v9h-9zM1248,364h8v9h-8zM1230,321h9v8h-9zM1213,294h8v9h-8zM1204,286h9v8h-9zM1152,233h8v9h-8zM1143,225h9v8h-9zM1099,198h9v9h-9zM1082,190h9v8h-9zM1056,181h8v9h-8zM1003,172h18v9h-18z"/>
<path fill="#2ca4a7" d="M1265,512h9v9h-9zM1265,504h9v8h-9zM1265,495h9v9h-9zM1265,486h9v9h-9zM1265,460h9v9h-9zM1265,451h9v9h-9zM1265,443h9v8h-9zM1256,399h9v9h-9zM1248,373h8v9h-8zM1239,347h9v8h-9zM1230,329h9v9h-9zM1221,312h9v9h-9zM1204,294h9v9h-9zM1195,277h9v9h-9zM1187,268h8v9h-8zM1178,260h9v8h-9zM1169,251h9v9h-9zM1160,242h9v9h-9zM1134,225h9v8h-9zM1126,216h8v9h-8zM1108,207h9v9h-9zM1091,198h8v9h-8zM1073,190h9v8h-9zM1047,181h9v9h-9zM942,172h18v9h-18zM986,172h17v9h-17z"/>
<path fill="#2b9da1" d="M1265,478h9v8h-9zM1265,469h9v9h-9zM1256,408h9v8h-9zM1248,382h8v8h-8zM1239,355h9v9h-9zM1230,338h9v9h-9zM1221,321h9v8h-9zM1213,303h8v9h-8zM1195,286h9v8h-9zM1152,242h8v9h-8zM1143,233h9v9h-9zM1117,216h9v9h-9zM1099,207h9v9h-9zM1064,190h9v8h-9zM1038,181h9v9h-9zM960,172h26v9h-26z"/>
<path fill="#2a969b" d="M1256,425h9v9h-9zM1256,416h9v9h-9zM1248,390h8v9h-8zM1239,364h9v9h-9zM1221,329h9v9h-9zM1213,312h8v9h-8zM1204,303h9v9h-9zM1187,277h8v9h-8zM1178,268h9v9h-9zM1169,260h9v8h-9zM1160,251h9v9h-9zM1126,225h8v8h-8zM1108,216h9v9h-9zM1082,198h9v9h-9zM1056,190h8v8h-8zM1021,181h17v9h-17z"/>
<path fill="#298e95" d="M1256,434h9v9h-9zM1248,399h8v9h-8zM1239,373h9v9h-9zM1230,355h9v9h-9zM1230,347h9v8h-9zM1213,321h8v8h-8zM1195,294h9v9h-9zM1187,286h8v8h-8zM1178,277h9v9h-9zM1169,268h9v9h-9zM1160,260h9v8h-9zM1152,251h8v9h-8zM1143,242h9v9h-9zM1134,233h9v9h-9zM1117,225h9v8h-9zM1091,207h8v9h-8zM1073,198h9v9h-9zM1047,190h9v8h-9zM1012,181h9v9h-9z"/>
<path fill="#298790" d="M1256,521h9v9h-9zM1256,512h9v9h-9zM1256,504h9v8h-9zM1003,469h9v9h-9zM995,460h8v9h-8zM1030,460h8v9h-8zM986,451h9v9h-9zM1003,451h9v9h-9zM977,443h26v8h-26zM1256,443h9v8h-9zM969,434h34v9h-34zM1239,382h9v8h-9zM1221,338h9v9h-9zM1213,329h8v9h-8zM1204,312h9v9h-9zM1195,303h9v9h-9zM1126,233h8v9h-8zM1099,216h9v9h-9zM1082,207h9v9h-9zM1064,198h9v9h-9zM1038,190h9v8h-9zM1003,181h9v9h-9z"/>
<path fill="#297e88" d="M1256,495h9v9h-9zM1030,486h17v9h-17zM1256,486h9v9h-9zM1012,478h35v8h-35zM1012,469h35v9h-35zM1003,460h27v9h-27zM1038,460h9v9h-9zM1256,460h9v9h-9zM995,451h8v9h-8zM1012,451h35v9h-35zM1256,451h9v9h-9zM1003,443h35v8h-35zM1003,434h35v9h-35zM969,425h61v9h-61zM969,416h52v9h-52zM1248,416h8v9h-8zM969,408h34v8h-34zM1248,408h8v8h-8zM1230,364h9v9h-9zM1221,347h9v8h-9zM1204,321h9v8h-9zM1187,294h8v9h-8zM1178,286h9v8h-9zM1169,277h9v9h-9zM1160,268h9v9h-9zM1152,260h8v8h-8zM1143,251h9v9h-9zM1134,242h9v9h-9zM1108,225h9v8h-9zM1091,216h8v9h-8zM1073,207h9v9h-9zM1056,198h8v9h-8zM1030,190h8v8h-8zM942,181h18v9h-18zM986,181h17v9h-17z"/>
<path fill="#2d747c" d="M1256,478h9v8h-9zM1256,469h9v9h-9zM1239,390h9v9h-9zM1230,373h9v9h-9zM1221,355h9v9h-9zM1213,338h8v9h-8zM1195,312h9v9h-9zM1187,303h8v9h-8zM1178,294h9v9h-9zM1134,251h9v9h-9zM1126,242h8v9h-8zM1117,233h9v9h-9zM1047,198h9v9h-9zM1021,190h9v8h-9zM960,181h26v9h-26z"/>
<path fill="#306a71" d="M1030,425h8v9h-8zM1248,425h8v9h-8zM1003,408h9v8h-9zM1239,408h9v8h-9zM969,399h26v9h-26zM1239,399h9v9h-9zM1230,382h9v8h-9zM1204,329h9v9h-9zM1195,321h9v8h-9zM1169,286h9v8h-9zM1160,277h9v9h-9zM1152,268h8v9h-8zM1143,260h9v8h-9zM1117,242h9v9h-9zM1108,233h9v9h-9zM1091,225h17v8h-17zM1082,216h9v9h-9zM1064,207h9v9h-9zM1012,190h9v8h-9z"/>
<path fill="#356165" d="M1248,521h8v9h-8zM1248,512h8v9h-8zM1038,443h9v8h-9zM1248,443h8v8h-8zM1038,434h9v9h-9zM1248,434h8v9h-8zM1038,425h9v9h-9zM1021,416h9v9h-9zM1012,408h9v8h-9zM995,399h8v9h-8zM1230,390h9v9h-9zM1221,373h9v9h-9zM1221,364h9v9h-9zM1213,347h8v8h-8zM1187,312h8v9h-8zM1178,303h9v9h-9zM1169,294h9v9h-9zM1134,260h9v8h-9zM1126,251h8v9h-8zM1082,225h9v8h-9zM1064,216h18v9h-18zM1038,198h9v9h-9z"/>
<path fill="#3d575a" d="M1248,504h8v8h-8zM1047,486h9v9h-9zM1047,478h9v8h-9zM1047,469h9v9h-9zM1047,460h9v9h-9zM1030,416h8v9h-8zM1239,416h9v9h-9zM1021,408h9v8h-9zM1003,399h18v9h-18zM969,390h26v9h-26zM1213,355h8v9h-8zM1204,338h9v9h-9zM1195,329h9v9h-9zM1169,303h9v9h-9zM1160,286h9v8h-9zM1152,277h8v9h-8zM1134,268h18v9h-18zM1117,251h9v9h-9zM1108,242h9v9h-9zM1091,233h17v9h-17zM1056,207h8v9h-8zM1030,198h8v9h-8zM942,190h18v8h-18zM1003,190h9v8h-9z"/>
<path fill="#454d4e" d="M1248,495h8v9h-8zM1056,478h17v8h-17zM1064,469h9v9h-9zM1248,469h8v9h-8zM1056,460h17v9h-17zM1248,460h8v9h-8zM1047,451h9v9h-9zM1064,451h9v9h-9zM1248,451h8v9h-8zM1047,443h17v8h-17zM1047,434h9v9h-9zM1239,425h9v9h-9zM1038,416h18v9h-18zM1030,408h8v8h-8zM1021,399h9v9h-9zM1230,399h9v9h-9zM1221,382h9v8h-9zM1213,364h8v9h-8zM1204,347h9v8h-9zM1187,321h8v8h-8zM1178,312h9v9h-9zM1160,303h9v9h-9zM1160,294h9v9h-9zM1126,260h8v8h-8zM1108,251h9v9h-9zM1099,242h9v9h-9zM1082,233h9v9h-9zM1073,225h9v8h-9zM1056,216h8v9h-8zM1047,207h9v9h-9zM1021,198h9v9h-9zM977,190h9v8h-9zM995,190h8v8h-8z"/>
<path fill="#4f4a4a" d="M1239,521h9v9h-9zM1239,512h9v9h-9zM1056,486h8v9h-8zM1248,486h8v9h-8zM1248,478h8v8h-8zM1056,469h8v9h-8zM1056,451h8v9h-8zM1064,443h9v8h-9zM1056,434h17v9h-17zM1239,434h9v9h-9zM1047,425h17v9h-17zM1230,416h9v9h-9zM1230,408h9v8h-9zM1030,399h8v9h-8zM995,390h26v9h-26zM1221,390h9v9h-9zM977,382h26v8h-26zM1213,382h8v8h-8zM986,373h9v9h-9zM1213,373h8v9h-8zM1195,338h9v9h-9zM1160,312h18v9h-18zM1152,303h8v9h-8zM1152,294h8v9h-8zM1152,286h8v8h-8zM1134,277h18v9h-18zM1126,268h8v9h-8zM1117,260h9v8h-9zM1073,233h9v9h-9zM1064,225h9v8h-9zM1030,207h17v9h-17zM960,190h17v8h-17zM986,190h9v8h-9z"/>
<path fill="#5d5858" d="M1239,504h9v8h-9zM1064,486h9v9h-9zM1073,460h9v9h-9zM1239,443h9v8h-9zM1230,434h9v9h-9zM1064,425h9v9h-9zM1056,416h8v9h-8zM1038,408h9v8h-9zM1021,390h9v9h-9zM969,382h8v8h-8zM969,373h8v9h-8zM1003,373h9v9h-9zM1204,364h9v9h-9zM1204,355h9v9h-9zM1195,347h9v8h-9zM1187,338h8v9h-8zM1187,329h8v9h-8zM1160,321h27v8h-27zM1152,312h8v9h-8zM1143,286h9v8h-9zM1126,277h8v9h-8zM1117,268h9v9h-9zM1108,260h9v8h-9zM1099,251h9v9h-9zM1091,242h8v9h-8zM1064,233h9v9h-9zM1056,225h8v8h-8zM1038,216h18v9h-18zM1021,207h9v9h-9zM942,198h9v9h-9zM1003,198h18v9h-18z"/>
<path fill="#6b6666" d="M1073,486h9v9h-9zM1073,478h9v8h-9zM1073,469h9v9h-9zM1239,460h9v9h-9zM1073,451h9v9h-9zM1239,451h9v9h-9zM1230,443h9v8h-9zM1230,425h9v9h-9zM1064,416h9v9h-9zM1047,408h9v8h-9zM1221,408h9v8h-9zM1038,399h9v9h-9zM1221,399h9v9h-9zM1038,390h9v9h-9zM1213,390h8v9h-8zM1003,382h27v8h-27zM977,373h9v9h-9zM995,373h8v9h-8zM1012,373h9v9h-9zM960,364h17v9h-17zM986,364h9v9h-9zM1195,355h9v9h-9zM1187,347h8v8h-8zM1178,338h9v9h-9zM1178,329h9v9h-9zM1143,303h9v9h-9zM1143,294h9v9h-9zM1126,286h17v8h-17zM1117,277h9v9h-9zM1099,260h9v8h-9zM1073,242h18v9h-18zM951,198h18v9h-18zM986,198h17v9h-17z"/>
<path fill="#797474" d="M1230,521h9v9h-9zM1230,512h9v9h-9zM1073,495h9v9h-9zM1239,495h9v9h-9zM1082,486h9v9h-9zM1239,486h9v9h-9zM1082,478h9v8h-9zM1239,478h9v8h-9zM1082,469h9v9h-9zM1239,469h9v9h-9zM1082,460h9v9h-9zM1073,443h9v8h-9zM1073,425h9v9h-9zM1221,416h9v9h-9zM1056,408h8v8h-8zM1047,399h9v9h-9zM1030,390h8v9h-8zM1047,390h9v9h-9zM1204,382h9v8h-9zM1195,373h18v9h-18zM977,364h9v9h-9zM995,364h8v9h-8zM1012,364h9v9h-9zM1195,364h9v9h-9zM977,355h9v9h-9zM1187,355h8v9h-8zM1178,347h9v8h-9zM1169,338h9v9h-9zM1160,329h18v9h-18zM1152,321h8v8h-8zM1143,312h9v9h-9zM1134,303h9v9h-9zM1126,294h17v9h-17zM1117,286h9v8h-9zM1108,277h9v9h-9zM1108,268h9v9h-9zM1082,251h17v9h-17zM1056,233h8v9h-8zM1047,225h9v8h-9zM1030,216h8v9h-8zM1012,207h9v9h-9zM969,198h17v9h-17z"/>
<path fill="#898585" d="M1082,495h9v9h-9zM1091,460h8v9h-8zM1082,451h9v9h-9zM1073,434h9v9h-9zM1221,434h9v9h-9zM1221,425h9v9h-9zM1064,408h9v8h-9zM1213,408h8v8h-8zM1056,399h8v9h-8zM1213,399h8v9h-8zM1204,390h9v9h-9zM1030,382h26v8h-26zM1021,373h9v9h-9zM1003,364h9v9h-9zM1021,364h9v9h-9zM960,355h17v9h-17zM986,355h17v9h-17zM1143,321h9v8h-9zM1134,312h9v9h-9zM1117,294h9v9h-9zM1091,268h17v9h-17zM1091,260h8v8h-8zM1064,242h9v9h-9zM1038,225h9v8h-9zM1021,216h9v9h-9zM942,207h9v9h-9zM1003,207h9v9h-9z"/>
<path fill="#9e9a9a" d="M1230,504h9v8h-9zM1091,495h8v9h-8zM1230,460h9v9h-9zM1091,451h8v9h-8zM1230,451h9v9h-9zM1082,443h9v8h-9zM1082,434h9v9h-9zM1073,416h9v9h-9zM1064,399h9v9h-9zM1056,390h8v9h-8zM1056,382h17v8h-17zM1195,382h9v8h-9zM1030,373h26v9h-26zM1030,364h17v9h-17zM1187,364h8v9h-8zM1003,355h9v9h-9zM1169,355h18v9h-18zM960,347h17v8h-17zM1169,347h9v8h-9zM1152,338h17v9h-17zM1152,329h8v9h-8zM1108,321h9v8h-9zM1126,321h8v8h-8zM1126,303h8v9h-8zM1108,294h9v9h-9zM1108,286h9v8h-9zM1082,268h9v9h-9zM1082,260h9v8h-9zM1064,251h18v9h-18zM1056,242h8v9h-8zM1038,233h18v9h-18zM1030,225h8v8h-8zM960,207h9v9h-9z"/>
<path fill="#b2b0b0" d="M1230,495h9v9h-9zM1091,486h8v9h-8zM1091,478h8v8h-8zM1091,469h8v9h-8zM1230,469h9v9h-9zM1221,443h9v8h-9zM1082,425h9v9h-9zM1213,425h8v9h-8zM1213,416h8v9h-8zM1073,408h9v8h-9zM1204,408h9v8h-9zM1073,399h9v9h-9zM1204,399h9v9h-9zM1064,390h18v9h-18zM1195,390h9v9h-9zM1073,382h9v8h-9zM1056,373h8v9h-8zM1187,373h8v9h-8zM1047,364h9v9h-9zM1169,364h18v9h-18zM1012,355h18v9h-18zM1038,355h9v9h-9zM1160,355h9v9h-9zM977,347h9v8h-9zM1160,347h9v8h-9zM1108,338h26v9h-26zM1099,329h18v9h-18zM1126,329h8v9h-8zM1099,321h9v8h-9zM1117,321h9v8h-9zM1134,321h9v8h-9zM1126,312h8v9h-8zM1099,303h27v9h-27zM1091,277h17v9h-17zM1073,260h9v8h-9zM1056,251h8v9h-8zM1021,225h9v8h-9zM1003,216h18v9h-18zM951,207h9v9h-9zM986,207h17v9h-17z"/>
<path fill="#c6c6c6" d="M1221,521h9v9h-9zM1221,512h9v9h-9zM1230,486h9v9h-9zM1230,478h9v8h-9zM1099,460h9v9h-9zM1099,451h9v9h-9zM1221,451h9v9h-9zM1091,443h8v8h-8zM1091,434h8v9h-8zM1213,434h8v9h-8zM1082,416h9v9h-9zM1204,416h9v9h-9zM1082,408h17v8h-17zM1082,399h9v9h-9zM1195,399h9v9h-9zM1082,390h9v9h-9zM1187,390h8v9h-8zM1064,373h9v9h-9zM1030,355h8v9h-8zM1047,355h9v9h-9zM1143,355h17v9h-17zM986,347h17v8h-17zM1012,347h18v8h-18zM1108,347h26v8h-26zM1152,347h8v8h-8zM960,338h9v9h-9zM1134,338h18v9h-18zM1117,329h9v9h-9zM1134,329h18v9h-18zM1091,321h8v8h-8zM1099,312h27v9h-27zM1091,286h17v8h-17zM1082,277h9v9h-9zM1073,268h9v9h-9zM1047,251h9v9h-9zM1047,242h9v9h-9zM1030,233h8v9h-8zM942,216h9v9h-9zM969,207h17v9h-17z"/>
<path fill="#d9d9d9" d="M1213,521h8v9h-8zM1221,504h9v8h-9zM1099,495h9v9h-9zM1099,486h9v9h-9zM1099,478h9v8h-9zM1099,469h9v9h-9zM1108,460h9v9h-9zM1221,460h9v9h-9zM1099,443h9v8h-9zM1099,434h9v9h-9zM1091,425h8v9h-8zM1091,416h8v9h-8zM1082,382h9v8h-9zM1178,382h17v8h-17zM1073,373h9v9h-9zM1091,373h8v9h-8zM1169,373h18v9h-18zM1056,364h8v9h-8zM1134,364h35v9h-35zM1082,355h17v9h-17zM1134,355h9v9h-9zM1003,347h9v8h-9zM1030,347h17v8h-17zM1091,347h17v8h-17zM1134,347h18v8h-18zM969,338h17v9h-17zM1099,338h9v9h-9zM1073,329h9v9h-9zM1091,329h8v9h-8zM1082,321h9v8h-9zM1091,312h8v9h-8zM1091,303h8v9h-8zM1091,294h17v9h-17zM1082,286h9v8h-9zM1073,277h9v9h-9zM1064,260h9v8h-9zM1038,242h9v9h-9zM1012,225h9v8h-9zM951,216h9v9h-9zM995,216h8v9h-8z"/>
<path fill="#e8e8e8" d="M1221,469h9v9h-9zM1108,451h9v9h-9zM1213,443h8v8h-8zM1099,425h9v9h-9zM1204,425h9v9h-9zM1195,408h9v8h-9zM1091,399h8v9h-8zM1187,399h8v9h-8zM1091,382h8v8h-8zM1082,373h9v9h-9zM1099,373h9v9h-9zM1073,364h18v9h-18zM1099,364h9v9h-9zM1117,364h17v9h-17zM1056,355h26v9h-26zM1099,355h35v9h-35zM1047,347h44v8h-44zM986,338h9v9h-9zM1047,338h52v9h-52zM1064,329h9v9h-9zM1082,329h9v9h-9zM1073,321h9v8h-9zM1064,312h27v9h-27zM1073,303h9v9h-9zM1064,294h27v9h-27zM1073,286h9v8h-9zM1064,268h9v9h-9zM1056,260h8v8h-8zM1030,242h8v9h-8zM1021,233h9v9h-9zM1003,225h9v8h-9zM960,216h9v9h-9z"/>
<path fill="#f8f8f8" d="M1108,495h9v9h-9zM1221,495h9v9h-9zM1221,486h9v9h-9zM1108,478h9v8h-9zM1221,478h9v8h-9zM1108,469h9v9h-9zM1213,451h8v9h-8zM1108,443h9v8h-9zM1204,434h9v9h-9zM1099,416h9v9h-9zM1195,416h9v9h-9zM1091,390h8v9h-8zM1117,390h9v9h-9zM1134,390h9v9h-9zM1178,390h9v9h-9zM1108,373h61v9h-61zM1064,364h9v9h-9zM1091,364h8v9h-8zM1108,364h9v9h-9zM995,338h35v9h-35zM960,329h17v9h-17zM986,329h9v9h-9zM1056,329h8v9h-8zM1064,321h9v8h-9zM1056,312h8v9h-8zM1064,303h9v9h-9zM1082,303h9v9h-9zM1064,277h9v9h-9zM1038,251h9v9h-9zM969,216h8v9h-8zM986,216h9v9h-9z"/>
<path fill="#f8fafd" d="M1169,512h26v9h-26zM1160,504h18v8h-18zM1152,486h8v9h-8zM1152,478h8v8h-8zM1143,460h9v9h-9zM1195,451h9v9h-9zM1160,434h27v9h-27zM977,303h18v9h-18zM951,294h18v9h-18zM1003,286h18v8h-18zM1012,268h9v9h-9zM977,225h9v8h-9z"/>
<path fill="#c9d9f2" d="M1178,504h9v8h-9zM1195,504h9v8h-9zM1160,495h9v9h-9zM1160,460h9v9h-9zM1204,460h9v9h-9zM1160,451h9v9h-9zM1160,443h9v8h-9zM1187,443h8v8h-8zM969,294h8v9h-8zM995,294h8v9h-8zM951,286h9v8h-9zM1003,277h9v9h-9zM1003,268h9v9h-9zM1003,260h9v8h-9z"/>
<path fill="#9ab4e4" d="M1187,504h8v8h-8zM1169,495h9v9h-9zM1204,495h9v9h-9zM1160,486h9v9h-9zM1160,469h9v9h-9zM1169,443h9v8h-9zM977,294h18v9h-18zM1003,251h9v9h-9zM995,242h8v9h-8zM960,233h9v9h-9zM986,233h9v9h-9z"/>
<path fill="#6d8ad0" d="M1178,495h9v9h-9zM1160,478h9v8h-9zM1204,469h9v9h-9zM1169,460h9v9h-9zM1169,451h9v9h-9zM1178,443h9v8h-9zM960,286h17v8h-17zM986,286h17v8h-17zM951,277h9v9h-9zM995,277h8v9h-8zM951,268h9v9h-9zM995,268h8v9h-8z"/>
<path fill="#566ec3" d="M1169,486h9v9h-9zM1204,486h9v9h-9zM1169,478h9v8h-9zM1204,478h9v8h-9zM1169,469h9v9h-9zM1178,451h17v9h-17zM977,286h9v8h-9zM960,277h9v9h-9zM951,260h9v8h-9zM995,260h8v8h-8zM995,251h8v9h-8zM951,242h9v9h-9z"/>
<path fill="#4e5ebb" d="M1195,460h9v9h-9zM986,277h9v9h-9zM960,268h9v9h-9zM986,268h9v9h-9zM951,251h9v9h-9zM977,233h9v9h-9z"/>
<path fill="#464db2" d="M1187,495h17v9h-17zM1178,486h9v9h-9zM1178,460h9v9h-9zM969,277h17v9h-17zM986,260h9v8h-9zM986,242h9v9h-9zM969,233h8v9h-8z"/>
<path fill="#4448b0" d="M1178,478h9v8h-9zM1178,469h9v9h-9zM1195,469h9v9h-9zM969,268h8v9h-8zM960,260h9v8h-9z"/>
<path fill="#4448b0" d="M1195,486h9v9h-9zM1187,460h8v9h-8zM977,268h9v9h-9zM986,251h9v9h-9zM960,242h9v9h-9z"/>
<path fill="#4448b0" d="M1195,478h9v8h-9zM969,260h8v8h-8zM960,251h9v9h-9z"/>
<path fill="#4448b0" d="M1187,486h8v9h-8zM1187,469h8v9h-8zM977,260h9v8h-9zM969,242h17v9h-17z"/>
<path fill="#4448b0" d="M1187,478h8v8h-8zM969,251h17v9h-17z"/>
</g>
<defs><linearGradient id="cbb" x1="0" y1="1" x2="0" y2="0">
<stop offset="0.0127" stop-color="#ffffff"/>
<stop offset="0.0444" stop-color="#f0f078"/>
<stop offset="0.0852" stop-color="#d7dc00"/>
<stop offset="0.1351" stop-color="#aad200"/>
<stop offset="0.1985" stop-color="#82cb00"/>
<stop offset="0.2892" stop-color="#78c800"/>
<stop offset="0.3889" stop-color="#5fc00f"/>
<stop offset="0.4388" stop-color="#46c88c"/>
<stop offset="0.4887" stop-color="#2dafaf"/>
<stop offset="0.5657" stop-color="#28828c"/>
<stop offset="0.6038" stop-color="#326469"/>
<stop offset="0.6428" stop-color="#4b4646"/>
<stop offset="0.6927" stop-color="#827d7d"/>
<stop offset="0.7425" stop-color="#d2d2d2"/>
<stop offset="0.7788" stop-color="#ffffff"/>
<stop offset="0.8604" stop-color="#ffffff"/>
<stop offset="0.8830" stop-color="#aac3eb"/>
<stop offset="0.9057" stop-color="#5a78c8"/>
<stop offset="0.9420" stop-color="#4448b0"/>
<stop offset="1.0145" stop-color="#4448b0"/>
</linearGradient></defs>
<rect x="1329.4" y="129" width="18.2" height="139" fill="url(#cbb)" stroke="#000" stroke-width="2"/>
<line x1="1348" y1="177.5" x2="1357.5" y2="177.5" stroke="#000" stroke-width="1.8"/>
<text transform="translate(1358.97,186.80)" font-size="27.06" xml:space="preserve" stroke="#000" stroke-width="0.30" stroke-linejoin="round"><tspan>1.5</tspan></text>
<line x1="1348" y1="240.2" x2="1357.5" y2="240.2" stroke="#000" stroke-width="1.8"/>
<text transform="translate(1358.97,249.50)" font-size="27.06" xml:space="preserve" stroke="#000" stroke-width="0.30" stroke-linejoin="round"><tspan>1.0</tspan></text>
<text transform="translate(1328.24,97.80)" font-size="39.32" xml:space="preserve" fill="#3478be"><tspan font-weight="bold">LE</tspan></text>
<line x1="920" y1="43.7" x2="1414" y2="43.7" stroke="#000" stroke-width="2.7"/>
<line x1="920" y1="531.4" x2="1414" y2="531.4" stroke="#000" stroke-width="2.7"/>
<line x1="923" y1="45" x2="923" y2="531" stroke="#000" stroke-width="2.7"/>
<line x1="1411.7" y1="45" x2="1411.7" y2="531" stroke="#000" stroke-width="2.7"/>
<line x1="972.9" y1="45" x2="972.9" y2="534" stroke="#000" stroke-width="2.7"/>
<line x1="920" y1="481.2" x2="1410" y2="481.2" stroke="#000" stroke-width="2.7"/>
<line x1="920" y1="132.3" x2="952" y2="132.3" stroke="#000" stroke-width="2.7"/>
<line x1="920" y1="307" x2="952" y2="307" stroke="#000" stroke-width="2.7"/>
<line x1="1147.7" y1="502.5" x2="1147.7" y2="534" stroke="#000" stroke-width="2.7"/>
<line x1="1322.2" y1="502.5" x2="1322.2" y2="534" stroke="#000" stroke-width="2.7"/>
<text transform="translate(859.80,143.40) scale(0.9500,1)" font-size="35.60" xml:space="preserve" stroke="#000" stroke-width="0.35" stroke-linejoin="round"><tspan>0.4</tspan></text>
<text transform="translate(860.48,319.80) scale(0.9500,1)" font-size="35.60" xml:space="preserve" stroke="#000" stroke-width="0.35" stroke-linejoin="round"><tspan>0.2</tspan></text>
<text transform="translate(860.14,492.20) scale(0.9500,1)" font-size="35.60" xml:space="preserve" stroke="#000" stroke-width="0.35" stroke-linejoin="round"><tspan>0.0</tspan></text>
<text transform="translate(954.20,573.20) scale(0.9500,1)" font-size="35.60" xml:space="preserve" stroke="#000" stroke-width="0.35" stroke-linejoin="round"><tspan>0.0</tspan></text>
<text transform="translate(1123.56,573.20) scale(0.9500,1)" font-size="35.60" xml:space="preserve" stroke="#000" stroke-width="0.35" stroke-linejoin="round"><tspan>0.2</tspan></text>
<text transform="translate(1300.03,573.20) scale(0.9500,1)" font-size="35.60" xml:space="preserve" stroke="#000" stroke-width="0.35" stroke-linejoin="round"><tspan>0.4</tspan></text>
<text transform="translate(1078.57,616.70)" font-size="43.84" xml:space="preserve" stroke="#000" stroke-width="0.35" stroke-linejoin="round"><tspan font-style="italic">q</tspan><tspan font-style="italic" font-size="24.55" dy="14.47">x</tspan><tspan dy="-14.47"> (r.l.u.)</tspan></text>
<text transform="translate(838.00,385.72) rotate(-90) scale(1.0000,1)" font-size="43.50" xml:space="preserve" stroke="#000" stroke-width="0.35" stroke-linejoin="round"><tspan font-style="italic">q</tspan><tspan font-style="italic" font-size="24.36" dy="14.36">y</tspan><tspan dy="-14.36"> (r.l.u.)</tspan></text>
<text transform="translate(1455.18,37.00)" font-size="52.99" xml:space="preserve"><tspan font-weight="bold">c</tspan></text>
<defs><clipPath id="clc"><polygon points="1568.6,80 1568.6,223.9 1620.3,481.1 1650.6,481.1 1784.9,523.1 2046.5,523.1 2046.5,80"/></clipPath><filter id="blc" x="-5%" y="-5%" width="110%" height="110%"><feGaussianBlur stdDeviation="4.5"/></filter><filter id="blc2" x="-50%" y="-50%" width="200%" height="200%"><feGaussianBlur stdDeviation="2.2"/></filter></defs>
<g clip-path="url(#clc)"><g filter="url(#blc)"><rect x="1500" y="40" width="560" height="520" fill="#fff"/>
<path fill="#fefdf9" d="M1650,546h8v9h-8zM1929,538h9v8h-9zM1536,520h9v9h-9zM1676,520h9v9h-9zM1685,503h8v9h-8zM1929,416h9v8h-9zM1676,407h9v9h-9zM1580,398h9v9h-9zM1650,398h17v9h-17zM1920,372h9v9h-9zM1911,355h9v8h-9zM1903,328h8v9h-8zM1894,311h9v9h-9zM1868,267h8v9h-8zM1850,250h9v9h-9zM1842,241h8v9h-8zM1833,233h9v8h-9zM1798,206h9v9h-9zM1711,163h9v9h-9zM1563,154h8v9h-8zM1667,154h9v9h-9z"/>
<path fill="#fcfaf3" d="M1929,529h9v9h-9zM1693,433h9v9h-9zM1929,433h9v9h-9zM1693,424h9v9h-9zM1929,424h9v9h-9zM1545,416h9v8h-9zM1685,407h8v9h-8zM1667,398h9v9h-9zM1920,381h9v9h-9zM1903,337h8v9h-8zM1885,302h9v9h-9zM1876,285h9v9h-9zM1859,259h9v8h-9zM1815,224h9v9h-9zM1807,215h8v9h-8zM1781,198h8v8h-8zM1763,189h9v9h-9zM1746,180h8v9h-8zM1728,172h9v8h-9zM1702,163h9v9h-9zM1658,154h9v9h-9z"/>
<path fill="#fbf8ee" d="M1554,546h9v9h-9zM1545,538h9v8h-9zM1667,538h9v8h-9zM1929,520h9v9h-9zM1685,512h8v8h-8zM1929,512h9v8h-9zM1693,485h9v9h-9zM1929,485h9v9h-9zM1693,477h9v8h-9zM1929,477h9v8h-9zM1693,468h9v9h-9zM1929,468h9v9h-9zM1693,442h9v9h-9zM1929,442h9v9h-9zM1536,424h9v9h-9zM1693,416h9v8h-9zM1554,407h9v9h-9zM1571,398h9v9h-9zM1676,398h9v9h-9zM1920,390h9v8h-9zM1911,363h9v9h-9zM1903,346h8v9h-8zM1894,320h9v8h-9zM1868,276h8v9h-8zM1833,241h9v9h-9zM1824,233h9v8h-9zM1789,206h9v9h-9zM1536,163h9v9h-9zM1693,163h9v9h-9zM1571,154h18v9h-18zM1650,154h8v9h-8z"/>
<path fill="#f9f5e8" d="M1658,546h9v9h-9zM1536,529h9v9h-9zM1676,529h9v9h-9zM1929,503h9v9h-9zM1693,494h9v9h-9zM1929,494h9v9h-9zM1693,459h9v9h-9zM1929,459h9v9h-9zM1693,451h9v8h-9zM1929,451h9v8h-9zM1920,398h9v9h-9zM1597,390h53v8h-53zM1894,328h9v9h-9zM1885,311h9v9h-9zM1876,294h9v8h-9zM1859,267h9v9h-9zM1850,259h9v8h-9zM1842,250h8v9h-8zM1798,215h9v9h-9zM1772,198h9v8h-9zM1754,189h9v9h-9zM1737,180h9v9h-9zM1720,172h8v8h-8zM1545,163h9v9h-9zM1685,163h8v9h-8zM1589,154h35v9h-35zM1632,154h18v9h-18z"/>
<path fill="#f8f3e2" d="M1920,546h9v9h-9zM1685,520h8v9h-8zM1702,433h9v9h-9zM1702,424h9v9h-9zM1693,407h9v9h-9zM1920,407h9v9h-9zM1563,398h8v9h-8zM1685,398h8v9h-8zM1589,390h8v8h-8zM1650,390h17v8h-17zM1911,372h9v9h-9zM1903,355h8v8h-8zM1868,285h8v9h-8zM1815,233h9v8h-9zM1807,224h8v9h-8zM1781,206h8v9h-8zM1763,198h9v8h-9zM1746,189h8v9h-8zM1711,172h9v8h-9zM1676,163h9v9h-9zM1624,154h8v9h-8z"/>
<path fill="#f6f0dc" d="M1545,546h9v9h-9zM1920,538h9v8h-9zM1693,503h9v9h-9zM1702,442h9v9h-9zM1536,416h9v8h-9zM1702,416h9v8h-9zM1920,416h9v8h-9zM1545,407h9v9h-9zM1702,407h9v9h-9zM1554,398h9v9h-9zM1693,398h18v9h-18zM1580,390h9v8h-9zM1667,390h9v8h-9zM1911,381h9v9h-9zM1894,337h9v9h-9zM1885,320h9v8h-9zM1876,302h9v9h-9zM1859,276h9v9h-9zM1833,250h9v9h-9zM1824,241h9v9h-9zM1789,215h9v9h-9zM1728,180h9v9h-9zM1554,163h9v9h-9zM1667,163h9v9h-9z"/>
<path fill="#f3ebd1" d="M1667,546h9v9h-9zM1536,538h9v8h-9zM1676,538h9v8h-9zM1920,529h9v9h-9zM1693,512h9v8h-9zM1702,477h9v8h-9zM1702,468h9v9h-9zM1702,451h9v8h-9zM1920,424h9v9h-9zM1571,390h9v8h-9zM1676,390h26v8h-26zM1911,390h9v8h-9zM1685,381h8v9h-8zM1903,363h8v9h-8zM1894,346h9v9h-9zM1868,294h8v8h-8zM1850,267h9v9h-9zM1842,259h8v8h-8zM1807,233h8v8h-8zM1798,224h9v9h-9zM1772,206h9v9h-9zM1754,198h9v8h-9zM1737,189h9v9h-9zM1702,172h9v8h-9zM1563,163h8v9h-8zM1658,163h9v9h-9z"/>
<path fill="#f0e6c5" d="M1685,529h8v9h-8zM1920,520h9v9h-9zM1702,494h9v9h-9zM1702,485h9v9h-9zM1702,459h9v9h-9zM1920,442h9v9h-9zM1920,433h9v9h-9zM1536,407h9v9h-9zM1711,407h9v9h-9zM1545,398h9v9h-9zM1711,398h9v9h-9zM1911,398h9v9h-9zM1563,390h8v8h-8zM1702,390h9v8h-9zM1589,381h8v9h-8zM1615,381h35v9h-35zM1676,381h9v9h-9zM1693,381h9v9h-9zM1903,372h8v9h-8zM1885,328h9v9h-9zM1876,311h9v9h-9zM1859,285h9v9h-9zM1850,276h9v9h-9zM1824,250h9v9h-9zM1815,241h9v9h-9zM1781,215h8v9h-8zM1720,180h8v9h-8zM1693,172h9v8h-9zM1650,163h8v9h-8z"/>
<path fill="#ede1ba" d="M1536,546h9v9h-9zM1676,546h9v9h-9zM1685,538h8v8h-8zM1693,520h9v9h-9zM1920,512h9v8h-9zM1702,503h9v9h-9zM1920,485h9v9h-9zM1920,477h9v8h-9zM1920,468h9v9h-9zM1920,459h9v9h-9zM1920,451h9v8h-9zM1711,433h9v9h-9zM1711,424h9v9h-9zM1711,416h9v8h-9zM1554,390h9v8h-9zM1580,381h9v9h-9zM1597,381h18v9h-18zM1650,381h8v9h-8zM1667,381h9v9h-9zM1702,381h9v9h-9zM1676,372h17v9h-17zM1894,355h9v8h-9zM1885,337h9v9h-9zM1868,302h8v9h-8zM1859,294h9v8h-9zM1842,267h8v9h-8zM1833,259h9v8h-9zM1789,224h9v9h-9zM1763,206h9v9h-9zM1746,198h8v8h-8zM1685,172h8v8h-8zM1571,163h9v9h-9z"/>
<path fill="#eadcae" d="M1693,529h9v9h-9zM1702,512h9v8h-9zM1920,503h9v9h-9zM1920,494h9v9h-9zM1711,477h9v8h-9zM1711,442h9v9h-9zM1911,407h9v9h-9zM1536,398h9v9h-9zM1711,390h9v8h-9zM1571,381h9v9h-9zM1658,381h9v9h-9zM1903,381h8v9h-8zM1667,372h9v9h-9zM1693,372h9v9h-9zM1876,320h9v8h-9zM1850,285h9v9h-9zM1842,276h8v9h-8zM1815,250h9v9h-9zM1807,241h8v9h-8zM1798,233h9v8h-9zM1772,215h9v9h-9zM1728,189h9v9h-9zM1711,180h9v9h-9zM1536,172h9v8h-9zM1676,172h9v8h-9zM1580,163h35v9h-35zM1641,163h9v9h-9z"/>
<path fill="#e7d7a3" d="M1685,546h8v9h-8zM1911,546h9v9h-9zM1693,538h9v8h-9zM1702,520h9v9h-9zM1711,485h9v9h-9zM1711,468h9v9h-9zM1711,459h9v9h-9zM1711,451h9v8h-9zM1911,416h9v8h-9zM1720,407h8v9h-8zM1545,390h9v8h-9zM1563,381h8v9h-8zM1589,372h8v9h-8zM1676,363h17v9h-17zM1894,363h9v9h-9zM1885,346h9v9h-9zM1876,328h9v9h-9zM1868,311h8v9h-8zM1859,302h9v9h-9zM1850,294h9v8h-9zM1833,267h9v9h-9zM1824,259h9v8h-9zM1781,224h8v9h-8zM1754,206h9v9h-9zM1545,172h9v8h-9zM1615,163h26v9h-26z"/>
<path fill="#e4d297" d="M1911,538h9v8h-9zM1702,529h9v9h-9zM1711,494h9v9h-9zM1720,424h8v9h-8zM1911,424h9v9h-9zM1720,416h8v8h-8zM1720,398h8v9h-8zM1903,390h8v8h-8zM1554,381h9v9h-9zM1711,381h9v9h-9zM1580,372h9v9h-9zM1597,372h70v9h-70zM1702,372h9v9h-9zM1894,372h9v9h-9zM1667,363h9v9h-9zM1842,285h8v9h-8zM1833,276h9v9h-9zM1815,259h9v8h-9zM1807,250h8v9h-8zM1798,241h9v9h-9zM1789,233h9v8h-9zM1763,215h9v9h-9zM1737,198h9v8h-9zM1702,180h9v9h-9zM1554,172h9v8h-9zM1667,172h9v8h-9z"/>
<path fill="#e1cd8c" d="M1693,546h9v9h-9zM1911,529h9v9h-9zM1711,512h9v8h-9zM1711,503h9v9h-9zM1720,442h8v9h-8zM1720,433h8v9h-8zM1903,398h8v9h-8zM1536,390h9v8h-9zM1720,390h8v8h-8zM1571,372h9v9h-9zM1711,372h9v9h-9zM1658,363h9v9h-9zM1693,363h9v9h-9zM1885,355h9v8h-9zM1876,337h9v9h-9zM1868,320h8v8h-8zM1859,311h9v9h-9zM1850,302h9v9h-9zM1842,294h8v8h-8zM1824,267h9v9h-9zM1781,233h8v8h-8zM1772,224h9v9h-9zM1746,206h8v9h-8zM1720,189h8v9h-8zM1693,180h9v9h-9zM1658,172h9v8h-9z"/>
<path fill="#ddc882" d="M1702,538h9v8h-9zM1711,520h9v9h-9zM1911,520h9v9h-9zM1720,485h8v9h-8zM1720,477h8v8h-8zM1720,468h8v9h-8zM1720,459h8v9h-8zM1720,451h8v8h-8zM1911,433h9v9h-9zM1545,381h9v9h-9zM1720,381h8v9h-8zM1563,372h8v9h-8zM1632,363h26v9h-26zM1702,363h9v9h-9zM1658,355h35v8h-35zM1833,285h9v9h-9zM1824,276h9v9h-9zM1798,250h9v9h-9zM1789,241h9v9h-9zM1754,215h9v9h-9zM1728,198h9v8h-9zM1685,180h8v9h-8zM1563,172h8v8h-8z"/>
<path fill="#dac378" d="M1702,546h9v9h-9zM1711,529h9v9h-9zM1911,512h9v8h-9zM1720,494h8v9h-8zM1911,442h9v9h-9zM1728,416h9v8h-9zM1728,407h9v9h-9zM1903,407h8v9h-8zM1728,398h9v9h-9zM1536,381h9v9h-9zM1894,381h9v9h-9zM1554,372h9v9h-9zM1580,363h52v9h-52zM1885,363h9v9h-9zM1650,355h8v8h-8zM1693,355h9v8h-9zM1876,346h9v9h-9zM1868,328h8v9h-8zM1859,320h9v8h-9zM1850,311h9v9h-9zM1842,302h8v9h-8zM1833,294h9v8h-9zM1815,267h9v9h-9zM1807,259h8v8h-8zM1772,233h9v8h-9zM1763,224h9v9h-9zM1711,189h9v9h-9zM1571,172h9v8h-9zM1650,172h8v8h-8z"/>
<path fill="#d6be6e" d="M1711,538h9v8h-9zM1720,512h8v8h-8zM1720,503h8v9h-8zM1911,503h9v9h-9zM1911,494h9v9h-9zM1911,485h9v9h-9zM1911,477h9v8h-9zM1911,468h9v9h-9zM1911,459h9v9h-9zM1911,451h9v8h-9zM1728,442h9v9h-9zM1728,433h9v9h-9zM1728,424h9v9h-9zM1728,390h9v8h-9zM1545,372h9v9h-9zM1720,372h8v9h-8zM1571,363h9v9h-9zM1711,363h9v9h-9zM1632,355h18v8h-18zM1667,346h26v9h-26zM1824,285h9v9h-9zM1815,276h9v9h-9zM1781,241h8v9h-8zM1737,206h9v9h-9zM1676,180h9v9h-9zM1580,172h9v8h-9zM1641,172h9v8h-9z"/>
<path fill="#d3b964" d="M1711,546h9v9h-9zM1903,546h8v9h-8zM1720,529h8v9h-8zM1720,520h8v9h-8zM1728,451h9v8h-9zM1903,416h8v8h-8zM1894,390h9v8h-9zM1728,381h9v9h-9zM1536,372h9v9h-9zM1563,363h8v9h-8zM1624,355h8v8h-8zM1702,355h9v8h-9zM1876,355h9v8h-9zM1650,346h17v9h-17zM1868,337h8v9h-8zM1850,320h9v8h-9zM1842,311h8v9h-8zM1833,302h9v9h-9zM1824,294h9v8h-9zM1815,285h9v9h-9zM1807,267h8v9h-8zM1798,259h9v8h-9zM1789,250h9v9h-9zM1763,233h9v8h-9zM1754,224h9v9h-9zM1746,215h8v9h-8zM1720,198h8v8h-8zM1702,189h9v9h-9zM1536,180h9v9h-9zM1589,172h8v8h-8z"/>
<path fill="#cfb45a" d="M1720,538h8v8h-8zM1903,538h8v8h-8zM1728,529h9v9h-9zM1728,520h9v9h-9zM1728,512h9v8h-9zM1728,494h9v9h-9zM1728,485h9v9h-9zM1728,477h9v8h-9zM1728,468h9v9h-9zM1728,459h9v9h-9zM1903,424h8v9h-8zM1737,407h9v9h-9zM1737,398h9v9h-9zM1885,372h9v9h-9zM1545,363h18v9h-18zM1720,363h8v9h-8zM1589,355h35v8h-35zM1641,346h9v9h-9zM1693,346h9v9h-9zM1859,328h9v9h-9zM1807,276h8v9h-8zM1781,250h8v9h-8zM1772,241h9v9h-9zM1693,189h9v9h-9zM1667,180h9v9h-9zM1597,172h44v8h-44z"/>
<path fill="#ccaf50" d="M1720,546h8v9h-8zM1728,538h9v8h-9zM1903,529h8v9h-8zM1728,503h9v9h-9zM1737,442h9v9h-9zM1737,433h9v9h-9zM1737,424h9v9h-9zM1737,416h9v8h-9zM1894,398h9v9h-9zM1737,390h9v8h-9zM1728,372h9v9h-9zM1536,363h9v9h-9zM1571,355h18v8h-18zM1711,355h9v8h-9zM1624,346h17v9h-17zM1868,346h8v9h-8zM1667,337h26v9h-26zM1859,337h9v9h-9zM1850,328h9v9h-9zM1842,320h8v8h-8zM1833,311h9v9h-9zM1824,302h9v9h-9zM1815,294h9v8h-9zM1807,285h8v9h-8zM1798,267h9v9h-9zM1789,259h9v8h-9zM1763,241h9v9h-9zM1754,233h9v8h-9zM1728,206h9v9h-9zM1545,180h9v9h-9z"/>
<path fill="#c8aa46" d="M1728,546h9v9h-9zM1737,538h9v8h-9zM1737,529h9v9h-9zM1737,520h9v9h-9zM1737,512h9v8h-9zM1737,459h9v9h-9zM1737,451h9v8h-9zM1903,433h8v9h-8zM1737,381h9v9h-9zM1885,381h9v9h-9zM1728,363h9v9h-9zM1876,363h9v9h-9zM1545,355h26v8h-26zM1720,355h8v8h-8zM1597,346h27v9h-27zM1702,346h9v9h-9zM1650,337h17v9h-17zM1693,337h9v9h-9zM1833,320h9v8h-9zM1798,276h9v9h-9zM1781,259h8v8h-8zM1772,250h9v9h-9zM1746,224h8v9h-8zM1737,215h9v9h-9zM1711,198h9v8h-9zM1685,189h8v9h-8zM1554,180h9v9h-9zM1658,180h9v9h-9z"/>
<path fill="#c5a63f" d="M1737,546h9v9h-9zM1903,520h8v9h-8zM1737,503h9v9h-9zM1737,494h9v9h-9zM1737,485h9v9h-9zM1737,477h9v8h-9zM1737,468h9v9h-9zM1746,416h8v8h-8zM1746,407h8v9h-8zM1894,407h9v9h-9zM1746,398h8v9h-8zM1746,390h8v8h-8zM1737,372h9v9h-9zM1536,355h9v8h-9zM1728,355h9v8h-9zM1868,355h8v8h-8zM1580,346h17v9h-17zM1711,346h9v9h-9zM1859,346h9v9h-9zM1632,337h18v9h-18zM1850,337h9v9h-9zM1842,328h8v9h-8zM1824,311h9v9h-9zM1815,302h9v9h-9zM1807,294h8v8h-8zM1789,267h9v9h-9zM1763,250h9v9h-9zM1754,241h9v9h-9zM1746,233h8v8h-8z"/>
<path fill="#c2a237" d="M1746,538h8v8h-8zM1746,529h8v9h-8zM1746,520h8v9h-8zM1903,512h8v8h-8zM1746,442h8v9h-8zM1746,433h8v9h-8zM1746,424h8v9h-8zM1746,381h8v9h-8zM1876,372h9v9h-9zM1737,363h9v9h-9zM1737,355h9v8h-9zM1545,346h35v9h-35zM1720,346h26v9h-26zM1624,337h8v9h-8zM1702,337h9v9h-9zM1676,328h17v9h-17zM1824,320h9v8h-9zM1815,311h9v9h-9zM1798,285h9v9h-9zM1789,276h9v9h-9zM1772,259h9v8h-9zM1737,224h9v9h-9zM1720,206h8v9h-8zM1563,180h8v9h-8zM1650,180h8v9h-8z"/>
<path fill="#bf9e30" d="M1746,546h8v9h-8zM1746,512h8v8h-8zM1746,503h8v9h-8zM1903,503h8v9h-8zM1746,494h8v9h-8zM1746,459h8v9h-8zM1746,451h8v8h-8zM1903,442h8v9h-8zM1885,390h9v8h-9zM1746,372h8v9h-8zM1746,363h8v9h-8zM1868,363h8v9h-8zM1746,355h8v8h-8zM1859,355h9v8h-9zM1536,346h9v9h-9zM1850,346h9v9h-9zM1597,337h27v9h-27zM1711,337h26v9h-26zM1842,337h8v9h-8zM1650,328h26v9h-26zM1693,328h9v9h-9zM1833,328h9v9h-9zM1807,302h8v9h-8zM1781,267h8v9h-8zM1754,250h9v9h-9zM1746,241h8v9h-8zM1737,233h9v8h-9zM1728,215h9v9h-9zM1702,198h9v8h-9zM1676,189h9v9h-9zM1571,180h9v9h-9z"/>
<path fill="#bc9928" d="M1894,546h9v9h-9zM1903,494h8v9h-8zM1746,485h8v9h-8zM1903,485h8v9h-8zM1746,477h8v8h-8zM1903,477h8v8h-8zM1746,468h8v9h-8zM1903,451h8v8h-8zM1754,416h9v8h-9zM1894,416h9v8h-9zM1754,407h9v9h-9zM1754,398h9v9h-9zM1754,390h9v8h-9zM1754,381h9v9h-9zM1876,381h9v9h-9zM1746,346h8v9h-8zM1536,337h61v9h-61zM1737,337h9v9h-9zM1632,328h18v9h-18zM1702,328h18v9h-18zM1824,328h9v9h-9zM1815,320h9v8h-9zM1807,311h8v9h-8zM1798,294h9v8h-9zM1789,285h9v9h-9zM1781,276h8v9h-8zM1772,267h9v9h-9zM1763,259h9v8h-9zM1728,224h9v9h-9zM1536,189h9v9h-9zM1580,180h9v9h-9z"/>
<path fill="#b99521" d="M1754,538h9v8h-9zM1894,538h9v8h-9zM1754,529h9v9h-9zM1754,520h9v9h-9zM1754,512h9v8h-9zM1903,468h8v9h-8zM1903,459h8v9h-8zM1754,433h9v9h-9zM1754,424h9v9h-9zM1885,398h9v9h-9zM1754,372h9v9h-9zM1868,372h8v9h-8zM1754,363h9v9h-9zM1859,363h9v9h-9zM1754,355h9v8h-9zM1850,355h9v8h-9zM1842,346h8v9h-8zM1746,337h8v9h-8zM1833,337h9v9h-9zM1624,328h8v9h-8zM1720,328h17v9h-17zM1685,320h17v8h-17zM1807,320h8v8h-8zM1798,311h9v9h-9zM1798,302h9v9h-9zM1746,250h8v9h-8zM1737,241h9v9h-9zM1720,215h8v9h-8zM1711,206h9v9h-9zM1693,198h9v8h-9zM1589,180h8v9h-8zM1641,180h9v9h-9z"/>
<path fill="#b69119" d="M1754,546h9v9h-9zM1754,503h9v9h-9zM1754,494h9v9h-9zM1754,451h9v8h-9zM1754,442h9v9h-9zM1894,424h9v9h-9zM1763,390h9v8h-9zM1876,390h9v8h-9zM1763,381h9v9h-9zM1763,372h9v9h-9zM1754,346h9v9h-9zM1754,337h9v9h-9zM1824,337h9v9h-9zM1615,328h9v9h-9zM1737,328h17v9h-17zM1815,328h9v9h-9zM1667,320h18v8h-18zM1702,320h26v8h-26zM1798,320h9v8h-9zM1789,311h9v9h-9zM1789,302h9v9h-9zM1789,294h9v8h-9zM1781,285h8v9h-8zM1772,276h9v9h-9zM1763,267h9v9h-9zM1754,259h9v8h-9zM1728,233h9v8h-9zM1667,189h9v9h-9zM1632,180h9v9h-9z"/>
<path fill="#b38c19" d="M1763,538h9v8h-9zM1763,529h9v9h-9zM1894,529h9v9h-9zM1754,485h9v9h-9zM1754,477h9v8h-9zM1754,468h9v9h-9zM1754,459h9v9h-9zM1763,416h9v8h-9zM1763,407h9v9h-9zM1885,407h9v9h-9zM1763,398h9v9h-9zM1868,381h8v9h-8zM1859,372h9v9h-9zM1763,363h9v9h-9zM1850,363h9v9h-9zM1763,355h9v8h-9zM1842,355h8v8h-8zM1763,346h9v9h-9zM1833,346h9v9h-9zM1763,337h9v9h-9zM1815,337h9v9h-9zM1536,328h44v9h-44zM1597,328h18v9h-18zM1754,328h18v9h-18zM1807,328h8v9h-8zM1641,320h26v8h-26zM1728,320h35v8h-35zM1789,320h9v8h-9zM1693,311h27v9h-27zM1781,302h8v9h-8zM1781,294h8v8h-8zM1772,285h9v9h-9zM1763,276h9v9h-9zM1754,267h9v9h-9zM1746,259h8v8h-8zM1737,250h9v9h-9zM1720,224h8v9h-8zM1711,215h9v9h-9zM1702,206h9v9h-9zM1685,198h8v8h-8zM1545,189h9v9h-9zM1597,180h35v9h-35z"/>
<path fill="#b08719" d="M1763,546h9v9h-9zM1763,520h9v9h-9zM1894,520h9v9h-9zM1894,433h9v9h-9zM1763,424h9v9h-9zM1876,398h9v9h-9zM1772,390h9v8h-9zM1772,381h9v9h-9zM1772,372h9v9h-9zM1772,363h9v9h-9zM1772,355h9v8h-9zM1833,355h9v8h-9zM1772,346h9v9h-9zM1815,346h18v9h-18zM1772,337h9v9h-9zM1807,337h8v9h-8zM1580,328h17v9h-17zM1772,328h9v9h-9zM1798,328h9v9h-9zM1632,320h9v8h-9zM1763,320h26v8h-26zM1676,311h17v9h-17zM1720,311h43v9h-43zM1781,311h8v9h-8zM1711,302h35v9h-35zM1772,302h9v9h-9zM1772,294h9v8h-9zM1763,285h9v9h-9zM1754,276h9v9h-9zM1746,267h8v9h-8zM1737,259h9v8h-9zM1728,241h9v9h-9z"/>
<path fill="#ae8219" d="M1885,546h9v9h-9zM1763,512h9v8h-9zM1894,512h9v8h-9zM1763,503h9v9h-9zM1763,433h9v9h-9zM1885,416h9v8h-9zM1772,398h9v9h-9zM1868,390h8v8h-8zM1859,381h9v9h-9zM1781,372h8v9h-8zM1850,372h9v9h-9zM1781,363h8v9h-8zM1842,363h8v9h-8zM1781,355h8v8h-8zM1824,355h9v8h-9zM1781,346h8v9h-8zM1781,337h8v9h-8zM1798,337h9v9h-9zM1781,328h17v9h-17zM1536,320h18v8h-18zM1624,320h8v8h-8zM1667,311h9v9h-9zM1763,311h18v9h-18zM1702,302h9v9h-9zM1746,302h26v9h-26zM1711,294h43v8h-43zM1763,294h9v8h-9zM1746,285h17v9h-17zM1737,276h17v9h-17zM1737,267h9v9h-9zM1728,250h9v9h-9zM1720,233h8v8h-8zM1693,206h9v9h-9zM1554,189h9v9h-9zM1658,189h9v9h-9z"/>
<path fill="#ab7d19" d="M1772,546h9v9h-9zM1772,538h9v8h-9zM1885,538h9v8h-9zM1894,503h9v9h-9zM1763,494h9v9h-9zM1763,451h9v8h-9zM1763,442h9v9h-9zM1772,407h9v9h-9zM1876,407h9v9h-9zM1781,390h8v8h-8zM1781,381h8v9h-8zM1842,372h8v9h-8zM1789,363h9v9h-9zM1833,363h9v9h-9zM1789,355h9v8h-9zM1815,355h9v8h-9zM1789,346h9v9h-9zM1807,346h8v9h-8zM1789,337h9v9h-9zM1554,320h9v8h-9zM1658,311h9v9h-9zM1693,302h9v9h-9zM1702,294h9v8h-9zM1754,294h9v8h-9zM1720,285h26v9h-26zM1728,267h9v9h-9zM1728,259h9v8h-9zM1711,224h9v9h-9zM1702,215h9v9h-9zM1536,198h9v8h-9zM1676,198h9v8h-9zM1563,189h8v9h-8z"/>
<path fill="#a87819" d="M1772,529h9v9h-9zM1885,529h9v9h-9zM1772,520h9v9h-9zM1894,494h9v9h-9zM1763,485h9v9h-9zM1763,477h9v8h-9zM1763,468h9v9h-9zM1763,459h9v9h-9zM1894,442h9v9h-9zM1885,424h9v9h-9zM1772,416h9v8h-9zM1781,398h8v9h-8zM1868,398h8v9h-8zM1789,381h9v9h-9zM1789,372h9v9h-9zM1833,372h9v9h-9zM1798,363h9v9h-9zM1824,363h9v9h-9zM1798,355h17v8h-17zM1798,346h9v9h-9zM1563,320h17v8h-17zM1615,320h9v8h-9zM1536,311h9v9h-9zM1641,311h17v9h-17zM1676,302h17v9h-17zM1711,285h9v9h-9zM1720,276h17v9h-17zM1720,259h8v8h-8zM1720,250h8v9h-8zM1720,241h8v9h-8zM1545,198h9v8h-9zM1571,189h9v9h-9zM1650,189h8v9h-8z"/>
<path fill="#a57319" d="M1781,546h8v9h-8zM1876,546h9v9h-9zM1772,512h9v8h-9zM1894,485h9v9h-9zM1894,477h9v8h-9zM1894,468h9v9h-9zM1894,451h9v8h-9zM1789,390h9v8h-9zM1859,390h9v8h-9zM1850,381h9v9h-9zM1798,372h9v9h-9zM1807,363h17v9h-17zM1580,320h35v8h-35zM1545,311h9v9h-9zM1536,302h9v9h-9zM1667,302h9v9h-9zM1693,294h9v8h-9zM1702,285h9v9h-9zM1711,276h9v9h-9zM1720,267h8v9h-8zM1711,233h9v8h-9zM1685,206h8v9h-8zM1667,198h9v8h-9zM1580,189h9v9h-9z"/>
<path fill="#a26e19" d="M1781,538h8v8h-8zM1885,520h9v9h-9zM1772,503h9v9h-9zM1894,459h9v9h-9zM1885,433h9v9h-9zM1772,424h9v9h-9zM1876,416h9v8h-9zM1781,407h8v9h-8zM1798,381h9v9h-9zM1842,381h8v9h-8zM1807,372h8v9h-8zM1824,372h9v9h-9zM1554,311h9v9h-9zM1632,311h9v9h-9zM1685,294h8v8h-8zM1711,267h9v9h-9zM1711,259h9v8h-9zM1711,241h9v9h-9zM1702,224h9v9h-9zM1693,215h9v9h-9zM1536,206h9v9h-9zM1554,198h9v8h-9zM1589,189h8v9h-8zM1641,189h9v9h-9z"/>
<path fill="#a06919" d="M1876,538h9v8h-9zM1781,529h8v9h-8zM1885,512h9v8h-9zM1772,494h9v9h-9zM1772,433h9v9h-9zM1868,407h8v9h-8zM1789,398h9v9h-9zM1798,390h9v8h-9zM1807,381h8v9h-8zM1833,381h9v9h-9zM1815,372h9v9h-9zM1624,311h8v9h-8zM1545,302h9v9h-9zM1658,302h9v9h-9zM1536,294h9v8h-9zM1693,285h9v9h-9zM1702,276h9v9h-9zM1711,250h9v9h-9zM1676,206h9v9h-9zM1658,198h9v8h-9z"/>
<path fill="#9d6419" d="M1789,546h9v9h-9zM1868,546h8v9h-8zM1876,529h9v9h-9zM1781,520h8v9h-8zM1885,503h9v9h-9zM1772,485h9v9h-9zM1772,442h9v9h-9zM1885,442h9v9h-9zM1876,424h9v9h-9zM1781,416h8v8h-8zM1859,398h9v9h-9zM1850,390h9v8h-9zM1824,381h9v9h-9zM1563,311h8v9h-8zM1650,302h8v9h-8zM1676,294h9v8h-9zM1702,267h9v9h-9zM1702,233h9v8h-9zM1545,206h9v9h-9zM1563,198h8v8h-8zM1597,189h9v9h-9zM1632,189h9v9h-9z"/>
<path fill="#9b5f19" d="M1789,538h9v8h-9zM1781,512h8v8h-8zM1885,494h9v9h-9zM1772,477h9v8h-9zM1772,451h9v8h-9zM1789,407h9v9h-9zM1798,398h9v9h-9zM1842,390h8v8h-8zM1815,381h9v9h-9zM1571,311h9v9h-9zM1615,311h9v9h-9zM1554,302h9v9h-9zM1641,302h9v9h-9zM1545,294h9v8h-9zM1667,294h9v8h-9zM1685,285h8v9h-8zM1693,276h9v9h-9zM1702,259h9v8h-9zM1702,250h9v9h-9zM1702,241h9v9h-9zM1693,224h9v9h-9zM1536,215h9v9h-9zM1685,215h8v9h-8zM1571,198h9v8h-9zM1606,189h26v9h-26z"/>
<path fill="#995a19" d="M1798,546h9v9h-9zM1868,538h8v8h-8zM1789,529h9v9h-9zM1876,520h9v9h-9zM1885,485h9v9h-9zM1772,468h9v9h-9zM1772,459h9v9h-9zM1885,451h9v8h-9zM1781,424h8v9h-8zM1868,416h8v8h-8zM1807,390h8v8h-8zM1833,390h9v8h-9zM1580,311h9v9h-9zM1597,311h18v9h-18zM1536,285h9v9h-9zM1676,285h9v9h-9zM1554,206h9v9h-9zM1667,206h9v9h-9zM1580,198h9v8h-9zM1650,198h8v8h-8z"/>
<path fill="#965519" d="M1781,503h8v9h-8zM1885,477h9v8h-9zM1885,468h9v9h-9zM1885,459h9v9h-9zM1876,433h9v9h-9zM1859,407h9v9h-9zM1850,398h9v9h-9zM1815,390h18v8h-18zM1589,311h8v9h-8zM1563,302h8v9h-8zM1632,302h9v9h-9zM1658,294h9v8h-9zM1685,276h8v9h-8zM1693,267h9v9h-9zM1693,233h9v8h-9z"/>
<path fill="#935119" d="M1859,546h9v9h-9zM1798,538h9v8h-9zM1789,520h9v9h-9zM1876,512h9v8h-9zM1781,494h8v9h-8zM1789,416h9v8h-9zM1798,407h9v9h-9zM1807,398h8v9h-8zM1842,398h8v9h-8zM1554,294h9v8h-9zM1650,294h8v8h-8zM1545,285h9v9h-9zM1667,285h9v9h-9zM1536,276h9v9h-9zM1693,259h9v8h-9zM1693,250h9v9h-9zM1693,241h9v9h-9zM1536,224h9v9h-9zM1685,224h8v9h-8zM1545,215h9v9h-9zM1676,215h9v9h-9zM1589,198h8v8h-8zM1641,198h9v8h-9z"/>
<path fill="#904e18" d="M1807,546h8v9h-8zM1868,529h8v9h-8zM1876,442h9v9h-9zM1781,433h8v9h-8zM1868,424h8v9h-8zM1624,302h8v9h-8zM1676,276h9v9h-9zM1685,267h8v9h-8zM1536,241h9v9h-9zM1536,233h9v8h-9zM1563,206h8v9h-8zM1658,206h9v9h-9zM1632,198h9v8h-9z"/>
<path fill="#8e4a18" d="M1850,546h9v9h-9zM1859,538h9v8h-9zM1798,529h9v9h-9zM1789,512h9v8h-9zM1876,503h9v9h-9zM1781,485h8v9h-8zM1781,442h8v9h-8zM1850,407h9v9h-9zM1815,398h9v9h-9zM1833,398h9v9h-9zM1571,302h9v9h-9zM1641,294h9v8h-9zM1658,285h9v9h-9zM1536,267h9v9h-9zM1536,259h9v8h-9zM1536,250h9v9h-9zM1685,233h8v8h-8zM1597,198h9v8h-9zM1624,198h8v8h-8z"/>
<path fill="#8b4618" d="M1815,546h9v9h-9zM1833,546h17v9h-17zM1807,538h8v8h-8zM1868,520h8v9h-8zM1781,477h8v8h-8zM1876,451h9v8h-9zM1789,424h9v9h-9zM1859,416h9v8h-9zM1807,407h8v9h-8zM1824,398h9v9h-9zM1615,302h9v9h-9zM1563,294h8v8h-8zM1545,276h9v9h-9zM1667,276h9v9h-9zM1685,259h8v8h-8zM1685,241h8v9h-8zM1545,224h9v9h-9zM1554,215h9v9h-9zM1667,215h9v9h-9zM1571,206h9v9h-9zM1650,206h8v9h-8zM1606,198h18v8h-18z"/>
<path fill="#884217" d="M1824,546h9v9h-9zM1850,538h9v8h-9zM1798,520h9v9h-9zM1789,503h9v9h-9zM1876,494h9v9h-9zM1781,468h8v9h-8zM1781,459h8v9h-8zM1876,459h9v9h-9zM1781,451h8v8h-8zM1868,433h8v9h-8zM1798,416h9v8h-9zM1842,407h8v9h-8zM1580,302h9v9h-9zM1597,302h18v9h-18zM1632,294h9v8h-9zM1554,285h9v9h-9zM1676,267h9v9h-9zM1685,250h8v9h-8zM1545,233h9v8h-9zM1676,224h9v9h-9z"/>
<path fill="#863e17" d="M1859,529h9v9h-9zM1876,485h9v9h-9zM1876,468h9v9h-9zM1589,302h8v9h-8zM1650,285h8v9h-8zM1545,267h9v9h-9zM1545,241h9v9h-9zM1580,206h9v9h-9zM1641,206h9v9h-9z"/>
<path fill="#833b16" d="M1815,538h9v8h-9zM1842,538h8v8h-8zM1807,529h8v9h-8zM1798,512h9v8h-9zM1868,512h8v8h-8zM1789,494h9v9h-9zM1876,477h9v8h-9zM1868,442h8v9h-8zM1789,433h9v9h-9zM1859,424h9v9h-9zM1850,416h9v8h-9zM1815,407h27v9h-27zM1624,294h8v8h-8zM1658,276h9v9h-9zM1667,267h9v9h-9zM1545,259h9v8h-9zM1676,259h9v8h-9zM1545,250h9v9h-9zM1676,233h9v8h-9zM1554,224h9v9h-9zM1563,215h8v9h-8zM1658,215h9v9h-9z"/>
<path fill="#803716" d="M1824,538h18v8h-18zM1850,529h9v9h-9zM1859,520h9v9h-9zM1807,416h8v8h-8zM1571,294h9v8h-9zM1641,285h9v9h-9zM1554,276h9v9h-9zM1676,250h9v9h-9zM1676,241h9v9h-9zM1667,224h9v9h-9zM1589,206h8v9h-8zM1632,206h9v9h-9z"/>
<path fill="#7d3416" d="M1807,520h8v9h-8zM1868,503h8v9h-8zM1789,485h9v9h-9zM1868,451h8v8h-8zM1789,442h9v9h-9zM1798,424h9v9h-9zM1842,416h8v8h-8zM1615,294h9v8h-9zM1563,285h8v9h-8zM1554,233h9v8h-9zM1571,215h9v9h-9zM1597,206h9v9h-9zM1624,206h8v9h-8z"/>
<path fill="#7b3116" d="M1815,529h9v9h-9zM1842,529h8v9h-8zM1798,503h9v9h-9zM1789,477h9v8h-9zM1859,433h9v9h-9zM1850,424h9v9h-9zM1580,294h9v8h-9zM1650,276h8v9h-8zM1554,267h9v9h-9zM1658,267h9v9h-9zM1667,259h9v8h-9zM1667,233h9v8h-9zM1563,224h8v9h-8zM1650,215h8v9h-8zM1606,206h18v9h-18z"/>
<path fill="#782e16" d="M1824,529h18v9h-18zM1859,512h9v8h-9zM1789,468h9v9h-9zM1789,451h9v8h-9zM1815,416h9v8h-9zM1833,416h9v8h-9zM1597,294h18v8h-18zM1632,285h9v9h-9zM1554,259h9v8h-9zM1667,250h9v9h-9zM1554,241h9v9h-9zM1667,241h9v9h-9zM1658,224h9v9h-9z"/>
<path fill="#762b16" d="M1815,520h9v9h-9zM1850,520h9v9h-9zM1807,512h8v8h-8zM1868,494h8v9h-8zM1789,459h9v9h-9zM1868,459h8v9h-8zM1798,433h9v9h-9zM1807,424h8v9h-8zM1824,416h9v8h-9zM1589,294h8v8h-8zM1571,285h9v9h-9zM1563,276h8v9h-8zM1554,250h9v9h-9zM1580,215h9v9h-9zM1641,215h9v9h-9z"/>
<path fill="#732816" d="M1798,494h9v9h-9zM1868,485h8v9h-8zM1859,442h9v9h-9zM1842,424h8v9h-8zM1624,285h8v9h-8zM1641,276h9v9h-9zM1658,259h9v8h-9zM1563,233h8v8h-8zM1658,233h9v8h-9z"/>
<path fill="#6d2616" d="M1824,520h9v9h-9zM1842,520h8v9h-8zM1859,503h9v9h-9zM1868,477h8v8h-8zM1868,468h8v9h-8zM1850,433h9v9h-9zM1650,267h8v9h-8zM1571,224h9v9h-9zM1650,224h8v9h-8zM1589,215h8v9h-8zM1632,215h9v9h-9z"/>
<path fill="#682416" d="M1833,520h9v9h-9zM1850,512h9v8h-9zM1807,503h8v9h-8zM1859,451h9v8h-9zM1798,442h9v9h-9zM1815,424h9v9h-9zM1833,424h9v9h-9zM1563,267h8v9h-8zM1658,250h9v9h-9zM1563,241h8v9h-8zM1658,241h9v9h-9z"/>
<path fill="#622216" d="M1815,512h9v8h-9zM1798,485h9v9h-9zM1807,433h8v9h-8zM1824,424h9v9h-9zM1580,285h9v9h-9zM1615,285h9v9h-9zM1571,276h9v9h-9zM1632,276h9v9h-9zM1563,259h8v8h-8zM1563,250h8v9h-8zM1597,215h9v9h-9z"/>
<path fill="#5c1f16" d="M1798,451h9v8h-9zM1842,433h8v9h-8zM1589,285h8v9h-8zM1606,285h9v9h-9zM1650,259h8v8h-8zM1571,233h9v8h-9zM1650,233h8v8h-8zM1580,224h9v9h-9zM1641,224h9v9h-9zM1624,215h8v9h-8z"/>
<path fill="#561d16" d="M1842,512h8v8h-8zM1859,494h9v9h-9zM1798,477h9v8h-9zM1798,468h9v9h-9zM1798,459h9v9h-9zM1850,442h9v9h-9zM1597,285h9v9h-9zM1641,267h9v9h-9zM1606,215h18v9h-18z"/>
<path fill="#511b16" d="M1824,512h18v8h-18zM1859,459h9v9h-9zM1807,442h8v9h-8zM1815,433h9v9h-9zM1571,267h9v9h-9zM1650,250h8v9h-8zM1650,241h8v9h-8z"/>
<path fill="#4b1916" d="M1850,503h9v9h-9zM1807,494h8v9h-8zM1833,433h9v9h-9zM1580,276h9v9h-9zM1624,276h8v9h-8zM1571,241h9v9h-9zM1589,224h8v9h-8z"/>
<path fill="#481916" d="M1815,503h9v9h-9zM1824,433h9v9h-9zM1571,259h9v8h-9zM1571,250h9v9h-9zM1580,233h9v8h-9zM1632,224h9v9h-9z"/>
<path fill="#451916" d="M1859,485h9v9h-9zM1859,468h9v9h-9zM1807,451h8v8h-8zM1850,451h9v8h-9zM1842,442h8v9h-8zM1632,267h9v9h-9zM1641,259h9v8h-9zM1641,233h9v8h-9z"/>
<path fill="#421915" d="M1859,477h9v8h-9zM1815,442h9v9h-9zM1589,276h8v9h-8zM1615,276h9v9h-9zM1580,267h9v9h-9zM1597,224h9v9h-9z"/>
<path fill="#401915" d="M1597,276h18v9h-18zM1580,241h9v9h-9z"/>
<path fill="#3d1915" d="M1842,503h8v9h-8zM1824,442h18v9h-18zM1641,250h9v9h-9zM1641,241h9v9h-9zM1589,233h8v8h-8z"/>
<path fill="#3a1914" d="M1824,503h9v9h-9zM1807,485h8v9h-8zM1807,459h8v9h-8zM1580,259h9v8h-9zM1580,250h9v9h-9zM1624,224h8v9h-8z"/>
<path fill="#371914" d="M1850,494h9v9h-9zM1589,267h8v9h-8zM1624,267h8v9h-8zM1606,224h9v9h-9z"/>
<path fill="#341914" d="M1833,503h9v9h-9zM1807,468h8v9h-8zM1850,459h9v9h-9zM1815,451h9v8h-9zM1842,451h8v8h-8zM1615,224h9v9h-9z"/>
<path fill="#321814" d="M1807,477h8v8h-8zM1632,259h9v8h-9zM1589,241h8v9h-8zM1632,233h9v8h-9z"/>
<path fill="#301813" d="M1815,494h9v9h-9zM1597,267h9v9h-9zM1589,259h8v8h-8z"/>
<path fill="#2e1713" d="M1615,267h9v9h-9zM1589,250h8v9h-8zM1597,233h9v8h-9z"/>
<path fill="#2c1713" d="M1824,451h18v8h-18zM1606,267h9v9h-9z"/>
<path fill="#281512" d="M1632,250h9v9h-9z"/>
<path fill="#261512" d="M1850,485h9v9h-9zM1850,468h9v9h-9zM1815,459h9v9h-9zM1597,259h9v8h-9zM1632,241h9v9h-9z"/>
<path fill="#241411" d="M1624,259h8v8h-8zM1597,241h9v9h-9z"/>
<path fill="#221311" d="M1597,250h9v9h-9zM1606,233h9v8h-9zM1624,233h8v8h-8z"/>
<path fill="#201310" d="M1842,494h8v9h-8zM1842,459h8v9h-8z"/>
<path fill="#1e1210" d="M1850,477h9v8h-9zM1606,259h9v8h-9z"/>
<path fill="#1c110f" d="M1615,233h9v8h-9z"/>
<path fill="#1a100e" d="M1824,494h9v9h-9zM1815,485h9v9h-9zM1615,259h9v8h-9z"/>
<path fill="#150d0b" d="M1815,468h9v9h-9zM1824,459h9v9h-9z"/>
<path fill="#120b0a" d="M1833,494h9v9h-9zM1624,250h8v9h-8z"/>
<path fill="#0f0a09" d="M1833,459h9v9h-9zM1606,250h9v9h-9zM1606,241h9v9h-9zM1624,241h8v9h-8z"/>
<path fill="#0d0908" d="M1815,477h9v8h-9z"/>
<path fill="#080605" d="M1824,485h26v9h-26zM1824,477h26v8h-26zM1824,468h26v9h-26zM1615,250h9v9h-9zM1615,241h9v9h-9z"/>
</g><g filter="url(#blc2)"><circle cx="1620.8" cy="248.6" r="8" fill="#0a0504"/><circle cx="1836" cy="482.3" r="14.5" fill="#0a0504"/></g></g>
<defs><linearGradient id="cbc" x1="0" y1="1" x2="0" y2="0">
<stop offset="0.0190" stop-color="#ffffff"/>
<stop offset="0.0861" stop-color="#f6f0dc"/>
<stop offset="0.1643" stop-color="#e1cd8c"/>
<stop offset="0.2425" stop-color="#c8aa46"/>
<stop offset="0.3095" stop-color="#b69119"/>
<stop offset="0.3765" stop-color="#a57319"/>
<stop offset="0.4436" stop-color="#965519"/>
<stop offset="0.5330" stop-color="#803716"/>
<stop offset="0.5888" stop-color="#732816"/>
<stop offset="0.6670" stop-color="#4b1916"/>
<stop offset="0.7564" stop-color="#341914"/>
<stop offset="0.8816" stop-color="#1e1210"/>
<stop offset="0.9799" stop-color="#080605"/>
</linearGradient></defs>
<rect x="1962.6" y="129" width="19.2" height="142.5" fill="url(#cbc)" stroke="#000" stroke-width="1.7"/>
<line x1="1982" y1="131.1" x2="1992" y2="131.1" stroke="#000" stroke-width="1.8"/>
<line x1="1982" y1="163.3" x2="1992" y2="163.3" stroke="#000" stroke-width="1.8"/>
<line x1="1982" y1="195.8" x2="1992" y2="195.8" stroke="#000" stroke-width="1.8"/>
<line x1="1982" y1="227.8" x2="1992" y2="227.8" stroke="#000" stroke-width="1.8"/>
<line x1="1982" y1="259.9" x2="1992" y2="259.9" stroke="#000" stroke-width="1.8"/>
<text transform="translate(1995.39,138.20)" font-size="25.45" xml:space="preserve" stroke="#000" stroke-width="0.30" stroke-linejoin="round"><tspan>1.9</tspan></text>
<text transform="translate(1995.41,267.90)" font-size="25.25" xml:space="preserve" stroke="#000" stroke-width="0.30" stroke-linejoin="round"><tspan>1.5</tspan></text>
<text transform="translate(1847.49,97.70)" font-size="38.55" xml:space="preserve" fill="#3478be"><tspan font-weight="bold">LE</tspan></text>
<text transform="translate(1907.38,97.70) scale(1.1091,1)" font-size="37.80" xml:space="preserve"><tspan font-weight="bold">/</tspan></text>
<text transform="translate(1930.75,93.82) scale(0.7436,1)" font-size="41.80" xml:space="preserve"><tspan>∫</tspan></text>
<text transform="translate(1941.56,97.70) scale(1.0817,1)" font-size="37.80" xml:space="preserve" stroke="#000" stroke-width="1.10" stroke-linejoin="round"><tspan font-style="italic">I</tspan></text>
<text transform="translate(1952.13,110.70)" font-size="22.31" xml:space="preserve" stroke="#000" stroke-width="0.30" stroke-linejoin="round"><tspan font-style="italic">RIXS</tspan></text>
<line x1="1557.5" y1="43.9" x2="2050" y2="43.9" stroke="#000" stroke-width="2.7"/>
<line x1="1557.5" y1="531.2" x2="2050" y2="531.2" stroke="#000" stroke-width="2.7"/>
<line x1="1560.2" y1="45" x2="1560.2" y2="531" stroke="#000" stroke-width="2.7"/>
<line x1="2048.3" y1="45" x2="2048.3" y2="531" stroke="#000" stroke-width="2.7"/>
<line x1="1610.5" y1="45" x2="1610.5" y2="534" stroke="#000" stroke-width="2.7"/>
<line x1="1557.5" y1="481.1" x2="2047" y2="481.1" stroke="#000" stroke-width="2.7"/>
<line x1="1557.5" y1="132.4" x2="1589.5" y2="132.4" stroke="#000" stroke-width="2.7"/>
<line x1="1557.5" y1="307.1" x2="1589.5" y2="307.1" stroke="#000" stroke-width="2.7"/>
<line x1="1785.3" y1="502.5" x2="1785.3" y2="534" stroke="#000" stroke-width="2.7"/>
<line x1="1959.4" y1="502.5" x2="1959.4" y2="534" stroke="#000" stroke-width="2.7"/>
<text transform="translate(1497.60,148.80) scale(0.9500,1)" font-size="35.60" xml:space="preserve" stroke="#000" stroke-width="0.35" stroke-linejoin="round"><tspan>0.4</tspan></text>
<text transform="translate(1498.28,323.50) scale(0.9500,1)" font-size="35.60" xml:space="preserve" stroke="#000" stroke-width="0.35" stroke-linejoin="round"><tspan>0.2</tspan></text>
<text transform="translate(1497.94,497.50) scale(0.9500,1)" font-size="35.60" xml:space="preserve" stroke="#000" stroke-width="0.35" stroke-linejoin="round"><tspan>0.0</tspan></text>
<text transform="translate(1589.00,577.60) scale(0.9500,1)" font-size="35.60" xml:space="preserve" stroke="#000" stroke-width="0.35" stroke-linejoin="round"><tspan>0.0</tspan></text>
<text transform="translate(1761.16,577.60) scale(0.9500,1)" font-size="35.60" xml:space="preserve" stroke="#000" stroke-width="0.35" stroke-linejoin="round"><tspan>0.2</tspan></text>
<text transform="translate(1936.83,577.60) scale(0.9500,1)" font-size="35.60" xml:space="preserve" stroke="#000" stroke-width="0.35" stroke-linejoin="round"><tspan>0.4</tspan></text>
<text transform="translate(1703.96,621.00)" font-size="43.98" xml:space="preserve" stroke="#000" stroke-width="0.35" stroke-linejoin="round"><tspan font-style="italic">q</tspan><tspan font-style="italic" font-size="24.63" dy="14.51">x</tspan><tspan dy="-14.51"> (r.l.u.)</tspan></text>
<text transform="translate(1476.50,372.02) rotate(-90) scale(1.0000,1)" font-size="43.50" xml:space="preserve" stroke="#000" stroke-width="0.35" stroke-linejoin="round"><tspan font-style="italic">q</tspan><tspan font-style="italic" font-size="24.36" dy="14.36">y</tspan><tspan dy="-14.36"> (r.l.u.)</tspan></text>
<text transform="translate(819.40,659.80)" font-size="52.48" xml:space="preserve"><tspan font-weight="bold">d</tspan></text>
<g>
<path fill="#fdfcfb" d="M1357.4,912.5 1352,888.1 1340.2,866 1326.6,846.3 1312.5,828.4 1298.1,811.8 1283.2,796.1 1267.5,781.2 1250.9,766.8 1233,752.7 1213.3,739.1 1191.2,727.3 1166.8,721.9 1142.4,727.3 1120.3,739.1 1100.6,752.7 1082.7,766.8 1066.1,781.2 1050.4,796.1 1035.5,811.8 1021.1,828.4 1007,846.3 993.4,866 981.6,888.1 976.2,912.5 981.6,936.9 993.4,959 1007,978.7 1021.1,996.6 1035.5,1013.2 1050.4,1028.9 1066.1,1043.8 1082.7,1058.2 1100.6,1072.3 1120.3,1085.9 1142.4,1097.7 1166.8,1103.1 1191.2,1097.7 1213.3,1085.9 1233,1072.3 1250.9,1058.2 1267.5,1043.8 1283.2,1028.9 1298.1,1013.2 1312.5,996.6 1326.6,978.7 1340.2,959 1352,936.9Z"/>
<path fill="#f2ede9" d="M1355.7,912.5 1350.4,888.3 1339,866.4 1325.6,846.7 1311.7,828.9 1297.3,812.3 1282.5,796.8 1267,782 1250.4,767.6 1232.6,753.7 1212.9,740.3 1191,728.9 1166.8,723.6 1142.6,728.9 1120.7,740.3 1101,753.7 1083.2,767.6 1066.6,782 1051.1,796.8 1036.3,812.3 1021.9,828.9 1008,846.7 994.6,866.4 983.2,888.3 977.9,912.5 983.2,936.7 994.6,958.6 1008,978.3 1021.9,996.1 1036.3,1012.7 1051.1,1028.2 1066.6,1043 1083.2,1057.4 1101,1071.3 1120.7,1084.7 1142.6,1096.1 1166.8,1101.4 1191,1096.1 1212.9,1084.7 1232.6,1071.3 1250.4,1057.4 1267,1043 1282.5,1028.2 1297.3,1012.7 1311.7,996.1 1325.6,978.3 1339,958.6 1350.4,936.7Z"/>
<path fill="#eae0dc" d="M1353.9,912.5 1348.9,888.5 1337.7,866.7 1324.6,847.1 1310.8,829.4 1296.6,812.9 1281.8,797.5 1266.4,782.7 1249.9,768.5 1232.2,754.7 1212.6,741.6 1190.8,730.4 1166.8,725.4 1142.8,730.4 1121,741.6 1101.4,754.7 1083.7,768.5 1067.2,782.7 1051.8,797.5 1037,812.9 1022.8,829.4 1009,847.1 995.9,866.7 984.7,888.5 979.7,912.5 984.7,936.5 995.9,958.3 1009,977.9 1022.8,995.6 1037,1012.1 1051.8,1027.5 1067.2,1042.3 1083.7,1056.5 1101.4,1070.3 1121,1083.4 1142.8,1094.6 1166.8,1099.6 1190.8,1094.6 1212.6,1083.4 1232.2,1070.3 1249.9,1056.5 1266.4,1042.3 1281.8,1027.5 1296.6,1012.1 1310.8,995.6 1324.6,977.9 1337.7,958.3 1348.9,936.5Z"/>
<path fill="#e4d3ce" d="M1352.2,912.5 1347.4,888.7 1336.5,867 1323.5,847.6 1309.9,829.9 1295.8,813.5 1281.1,798.2 1265.8,783.5 1249.4,769.4 1231.7,755.8 1212.3,742.8 1190.6,731.9 1166.8,727.1 1143,731.9 1121.3,742.8 1101.9,755.8 1084.2,769.4 1067.8,783.5 1052.5,798.2 1037.8,813.5 1023.7,829.9 1010.1,847.6 997.1,867 986.2,888.7 981.4,912.5 986.2,936.3 997.1,958 1010.1,977.4 1023.7,995.1 1037.8,1011.5 1052.5,1026.8 1067.8,1041.5 1084.2,1055.6 1101.9,1069.2 1121.3,1082.2 1143,1093.1 1166.8,1097.9 1190.6,1093.1 1212.3,1082.2 1231.7,1069.2 1249.4,1055.6 1265.8,1041.5 1281.1,1026.8 1295.8,1011.5 1309.9,995.1 1323.5,977.4 1336.5,958 1347.4,936.3Z"/>
<path fill="#ddc6bf" d="M1350.4,912.5 1345.8,888.9 1335.2,867.4 1322.5,848 1309,830.4 1295,814.1 1280.4,798.9 1265.2,784.3 1248.9,770.3 1231.3,756.8 1211.9,744.1 1190.4,733.5 1166.8,728.9 1143.2,733.5 1121.7,744.1 1102.3,756.8 1084.7,770.3 1068.4,784.3 1053.2,798.9 1038.6,814.1 1024.6,830.4 1011.1,848 998.4,867.4 987.8,888.9 983.2,912.5 987.8,936.1 998.4,957.6 1011.1,977 1024.6,994.6 1038.6,1010.9 1053.2,1026.1 1068.4,1040.7 1084.7,1054.7 1102.3,1068.2 1121.7,1080.9 1143.2,1091.5 1166.8,1096.1 1190.4,1091.5 1211.9,1080.9 1231.3,1068.2 1248.9,1054.7 1265.2,1040.7 1280.4,1026.1 1295,1010.9 1309,994.6 1322.5,977 1335.2,957.6 1345.8,936.1Z"/>
<path fill="#d5b9b0" d="M1348.7,912.5 1344.2,889.1 1333.9,867.7 1321.4,848.5 1308,831 1294.2,814.8 1279.7,799.6 1264.5,785.1 1248.3,771.3 1230.8,757.9 1211.6,745.4 1190.2,735.1 1166.8,730.6 1143.4,735.1 1122,745.4 1102.8,757.9 1085.3,771.3 1069.1,785.1 1053.9,799.6 1039.4,814.8 1025.6,831 1012.2,848.5 999.7,867.7 989.4,889.1 984.9,912.5 989.4,935.9 999.7,957.3 1012.2,976.5 1025.6,994 1039.4,1010.2 1053.9,1025.4 1069.1,1039.9 1085.3,1053.7 1102.8,1067.1 1122,1079.6 1143.4,1089.9 1166.8,1094.4 1190.2,1089.9 1211.6,1079.6 1230.8,1067.1 1248.3,1053.7 1264.5,1039.9 1279.7,1025.4 1294.2,1010.2 1308,994 1321.4,976.5 1333.9,957.3 1344.2,935.9Z"/>
<path fill="#cfb0a3" d="M1346.9,912.5 1342.7,889.3 1332.6,868.1 1320.3,848.9 1307.1,831.5 1293.3,815.4 1279,800.3 1263.9,786 1247.8,772.2 1230.4,759 1211.2,746.7 1190,736.6 1166.8,732.4 1143.6,736.6 1122.4,746.7 1103.2,759 1085.8,772.2 1069.7,786 1054.6,800.3 1040.3,815.4 1026.5,831.5 1013.3,848.9 1001,868.1 990.9,889.3 986.7,912.5 990.9,935.7 1001,956.9 1013.3,976.1 1026.5,993.5 1040.3,1009.6 1054.6,1024.7 1069.7,1039 1085.8,1052.8 1103.2,1066 1122.4,1078.3 1143.6,1088.4 1166.8,1092.6 1190,1088.4 1211.2,1078.3 1230.4,1066 1247.8,1052.8 1263.9,1039 1279,1024.7 1293.3,1009.6 1307.1,993.5 1320.3,976.1 1332.6,956.9 1342.7,935.7Z"/>
<path fill="#c9a898" d="M1345.2,912.5 1341.1,889.6 1331.3,868.4 1319.2,849.4 1306.1,832.1 1292.5,816 1278.3,801 1263.3,786.8 1247.2,773.2 1229.9,760.1 1210.9,748 1189.7,738.2 1166.8,734.1 1143.9,738.2 1122.7,748 1103.7,760.1 1086.4,773.2 1070.3,786.8 1055.3,801 1041.1,816 1027.5,832.1 1014.4,849.4 1002.3,868.4 992.5,889.6 988.4,912.5 992.5,935.4 1002.3,956.6 1014.4,975.6 1027.5,992.9 1041.1,1009 1055.3,1024 1070.3,1038.2 1086.4,1051.8 1103.7,1064.9 1122.7,1077 1143.9,1086.8 1166.8,1090.9 1189.7,1086.8 1210.9,1077 1229.9,1064.9 1247.2,1051.8 1263.3,1038.2 1278.3,1024 1292.5,1009 1306.1,992.9 1319.2,975.6 1331.3,956.6 1341.1,935.4Z"/>
<path fill="#c4a18d" d="M1343.5,912.5 1339.5,889.8 1329.9,868.8 1318,849.9 1305.2,832.6 1291.6,816.7 1277.5,801.8 1262.6,787.7 1246.7,774.1 1229.4,761.3 1210.5,749.4 1189.5,739.8 1166.8,735.8 1144.1,739.8 1123.1,749.4 1104.2,761.3 1086.9,774.1 1071,787.7 1056.1,801.8 1042,816.7 1028.4,832.6 1015.6,849.9 1003.7,868.8 994.1,889.8 990.1,912.5 994.1,935.2 1003.7,956.2 1015.6,975.1 1028.4,992.4 1042,1008.3 1056.1,1023.2 1071,1037.3 1086.9,1050.9 1104.2,1063.7 1123.1,1075.6 1144.1,1085.2 1166.8,1089.2 1189.5,1085.2 1210.5,1075.6 1229.4,1063.7 1246.7,1050.9 1262.6,1037.3 1277.5,1023.2 1291.6,1008.3 1305.2,992.4 1318,975.1 1329.9,956.2 1339.5,935.2Z"/>
<path fill="#be9980" d="M1341.7,912.5 1337.9,890 1328.6,869.1 1316.9,850.3 1304.2,833.2 1290.8,817.4 1276.7,802.6 1261.9,788.5 1246.1,775.1 1229,762.4 1210.2,750.7 1189.3,741.4 1166.8,737.6 1144.3,741.4 1123.4,750.7 1104.6,762.4 1087.5,775.1 1071.7,788.5 1056.9,802.6 1042.8,817.4 1029.4,833.2 1016.7,850.3 1005,869.1 995.7,890 991.9,912.5 995.7,935 1005,955.9 1016.7,974.7 1029.4,991.8 1042.8,1007.6 1056.9,1022.4 1071.7,1036.5 1087.5,1049.9 1104.6,1062.6 1123.4,1074.3 1144.3,1083.6 1166.8,1087.4 1189.3,1083.6 1210.2,1074.3 1229,1062.6 1246.1,1049.9 1261.9,1036.5 1276.7,1022.4 1290.8,1007.6 1304.2,991.8 1316.9,974.7 1328.6,955.9 1337.9,935Z"/>
<path fill="#b89071" d="M1340,912.5 1336.3,890.2 1327.2,869.5 1315.7,850.8 1303.2,833.8 1289.9,818 1276,803.3 1261.3,789.4 1245.5,776.1 1228.5,763.6 1209.8,752.1 1189.1,743 1166.8,739.3 1144.5,743 1123.8,752.1 1105.1,763.6 1088.1,776.1 1072.3,789.4 1057.6,803.3 1043.7,818 1030.4,833.8 1017.9,850.8 1006.4,869.5 997.3,890.2 993.6,912.5 997.3,934.8 1006.4,955.5 1017.9,974.2 1030.4,991.2 1043.7,1007 1057.6,1021.7 1072.3,1035.6 1088.1,1048.9 1105.1,1061.4 1123.8,1072.9 1144.5,1082 1166.8,1085.7 1189.1,1082 1209.8,1072.9 1228.5,1061.4 1245.5,1048.9 1261.3,1035.6 1276,1021.7 1289.9,1007 1303.2,991.2 1315.7,974.2 1327.2,955.5 1336.3,934.8Z"/>
<path fill="#b28762" d="M1338.2,912.5 1334.7,890.4 1325.8,869.9 1314.6,851.3 1302.1,834.4 1289,818.7 1275.2,804.1 1260.6,790.3 1244.9,777.2 1228,764.7 1209.4,753.5 1188.9,744.6 1166.8,741.1 1144.7,744.6 1124.2,753.5 1105.6,764.7 1088.7,777.2 1073,790.3 1058.4,804.1 1044.6,818.7 1031.5,834.4 1019,851.3 1007.8,869.9 998.9,890.4 995.4,912.5 998.9,934.6 1007.8,955.1 1019,973.7 1031.5,990.6 1044.6,1006.3 1058.4,1020.9 1073,1034.7 1088.7,1047.8 1105.6,1060.3 1124.2,1071.5 1144.7,1080.4 1166.8,1083.9 1188.9,1080.4 1209.4,1071.5 1228,1060.3 1244.9,1047.8 1260.6,1034.7 1275.2,1020.9 1289,1006.3 1302.1,990.6 1314.6,973.7 1325.8,955.1 1334.7,934.6Z"/>
<path fill="#ac7f54" d="M1336.5,912.5 1333,890.6 1324.5,870.3 1313.4,851.8 1301.1,835 1288.1,819.4 1274.4,804.9 1259.9,791.2 1244.3,778.2 1227.5,765.9 1209,754.8 1188.7,746.3 1166.8,742.8 1144.9,746.3 1124.6,754.8 1106.1,765.9 1089.3,778.2 1073.7,791.2 1059.2,804.9 1045.5,819.4 1032.5,835 1020.2,851.8 1009.1,870.3 1000.6,890.6 997.1,912.5 1000.6,934.4 1009.1,954.7 1020.2,973.2 1032.5,990 1045.5,1005.6 1059.2,1020.1 1073.7,1033.8 1089.3,1046.8 1106.1,1059.1 1124.6,1070.2 1144.9,1078.7 1166.8,1082.2 1188.7,1078.7 1209,1070.2 1227.5,1059.1 1244.3,1046.8 1259.9,1033.8 1274.4,1020.1 1288.1,1005.6 1301.1,990 1313.4,973.2 1324.5,954.7 1333,934.4Z"/>
<path fill="#a77949" d="M1334.7,912.5 1331.4,890.8 1323,870.6 1312.2,852.3 1300.1,835.6 1287.2,820.1 1273.6,805.7 1259.2,792.1 1243.7,779.2 1227,767.1 1208.7,756.3 1188.5,747.9 1166.8,744.6 1145.1,747.9 1124.9,756.3 1106.6,767.1 1089.9,779.2 1074.4,792.1 1060,805.7 1046.4,820.1 1033.5,835.6 1021.4,852.3 1010.6,870.6 1002.2,890.8 998.9,912.5 1002.2,934.2 1010.6,954.4 1021.4,972.7 1033.5,989.4 1046.4,1004.9 1060,1019.3 1074.4,1032.9 1089.9,1045.8 1106.6,1057.9 1124.9,1068.7 1145.1,1077.1 1166.8,1080.4 1188.5,1077.1 1208.7,1068.7 1227,1057.9 1243.7,1045.8 1259.2,1032.9 1273.6,1019.3 1287.2,1004.9 1300.1,989.4 1312.2,972.7 1323,954.4 1331.4,934.2Z"/>
<path fill="#a3723e" d="M1333,912.5 1329.8,891 1321.6,871 1310.9,852.8 1299,836.2 1286.3,820.8 1272.8,806.5 1258.5,793 1243.1,780.3 1226.5,768.4 1208.3,757.7 1188.3,749.5 1166.8,746.3 1145.3,749.5 1125.3,757.7 1107.1,768.4 1090.5,780.3 1075.1,793 1060.8,806.5 1047.3,820.8 1034.6,836.2 1022.7,852.8 1012,871 1003.8,891 1000.6,912.5 1003.8,934 1012,954 1022.7,972.2 1034.6,988.8 1047.3,1004.2 1060.8,1018.5 1075.1,1032 1090.5,1044.7 1107.1,1056.6 1125.3,1067.3 1145.3,1075.5 1166.8,1078.7 1188.3,1075.5 1208.3,1067.3 1226.5,1056.6 1243.1,1044.7 1258.5,1032 1272.8,1018.5 1286.3,1004.2 1299,988.8 1310.9,972.2 1321.6,954 1329.8,934Z"/>
<path fill="#9f6d35" d="M1331.3,912.5 1328.1,891.3 1320.2,871.4 1309.7,853.3 1297.9,836.8 1285.3,821.6 1271.9,807.4 1257.7,794 1242.5,781.4 1226,769.6 1207.9,759.1 1188,751.2 1166.8,748 1145.6,751.2 1125.7,759.1 1107.6,769.6 1091.1,781.4 1075.9,794 1061.7,807.4 1048.3,821.6 1035.7,836.8 1023.9,853.3 1013.4,871.4 1005.5,891.3 1002.3,912.5 1005.5,933.7 1013.4,953.6 1023.9,971.7 1035.7,988.2 1048.3,1003.4 1061.7,1017.6 1075.9,1031 1091.1,1043.6 1107.6,1055.4 1125.7,1065.9 1145.6,1073.8 1166.8,1077 1188,1073.8 1207.9,1065.9 1226,1055.4 1242.5,1043.6 1257.7,1031 1271.9,1017.6 1285.3,1003.4 1297.9,988.2 1309.7,971.7 1320.2,953.6 1328.1,933.7Z"/>
<path fill="#9d682b" d="M1329.5,912.5 1326.5,891.5 1318.8,871.8 1308.5,853.8 1296.8,837.4 1284.4,822.3 1271.1,808.2 1257,794.9 1241.9,782.5 1225.5,770.8 1207.5,760.5 1187.8,752.8 1166.8,749.8 1145.8,752.8 1126.1,760.5 1108.1,770.8 1091.7,782.5 1076.6,794.9 1062.5,808.2 1049.2,822.3 1036.8,837.4 1025.1,853.8 1014.8,871.8 1007.1,891.5 1004.1,912.5 1007.1,933.5 1014.8,953.2 1025.1,971.2 1036.8,987.6 1049.2,1002.7 1062.5,1016.8 1076.6,1030.1 1091.7,1042.5 1108.1,1054.2 1126.1,1064.5 1145.8,1072.2 1166.8,1075.2 1187.8,1072.2 1207.5,1064.5 1225.5,1054.2 1241.9,1042.5 1257,1030.1 1271.1,1016.8 1284.4,1002.7 1296.8,987.6 1308.5,971.2 1318.8,953.2 1326.5,933.5Z"/>
<path fill="#9b6423" d="M1327.8,912.5 1324.8,891.7 1317.3,872.2 1307.2,854.3 1295.7,838.1 1283.4,823 1270.3,809 1256.3,795.9 1241.2,783.6 1225,772.1 1207.1,762 1187.6,754.5 1166.8,751.5 1146,754.5 1126.5,762 1108.6,772.1 1092.4,783.6 1077.3,795.9 1063.3,809 1050.2,823 1037.9,838.1 1026.4,854.3 1016.3,872.2 1008.8,891.7 1005.8,912.5 1008.8,933.3 1016.3,952.8 1026.4,970.7 1037.9,986.9 1050.2,1002 1063.3,1016 1077.3,1029.1 1092.4,1041.4 1108.6,1052.9 1126.5,1063 1146,1070.5 1166.8,1073.5 1187.6,1070.5 1207.1,1063 1225,1052.9 1241.2,1041.4 1256.3,1029.1 1270.3,1016 1283.4,1002 1295.7,986.9 1307.2,970.7 1317.3,952.8 1324.8,933.3Z"/>
<path fill="#996120" d="M1326,912.5 1323.2,891.9 1315.9,872.6 1305.9,854.9 1294.6,838.7 1282.4,823.8 1269.4,809.9 1255.5,796.9 1240.6,784.7 1224.4,773.4 1206.7,763.4 1187.4,756.1 1166.8,753.3 1146.2,756.1 1126.9,763.4 1109.2,773.4 1093,784.7 1078.1,796.9 1064.2,809.9 1051.2,823.8 1039,838.7 1027.7,854.9 1017.7,872.6 1010.4,891.9 1007.6,912.5 1010.4,933.1 1017.7,952.4 1027.7,970.1 1039,986.3 1051.2,1001.2 1064.2,1015.1 1078.1,1028.1 1093,1040.3 1109.2,1051.6 1126.9,1061.6 1146.2,1068.9 1166.8,1071.7 1187.4,1068.9 1206.7,1061.6 1224.4,1051.6 1240.6,1040.3 1255.5,1028.1 1269.4,1015.1 1282.4,1001.2 1294.6,986.3 1305.9,970.1 1315.9,952.4 1323.2,933.1Z"/>
<path fill="#985d1c" d="M1324.3,912.5 1321.5,892.1 1314.4,873 1304.6,855.4 1293.5,839.3 1281.4,824.6 1268.5,810.8 1254.7,797.9 1240,785.8 1223.9,774.7 1206.3,764.9 1187.2,757.8 1166.8,755 1146.4,757.8 1127.3,764.9 1109.7,774.7 1093.6,785.8 1078.9,797.9 1065.1,810.8 1052.2,824.6 1040.1,839.3 1029,855.4 1019.2,873 1012.1,892.1 1009.3,912.5 1012.1,932.9 1019.2,952 1029,969.6 1040.1,985.7 1052.2,1000.4 1065.1,1014.2 1078.9,1027.1 1093.6,1039.2 1109.7,1050.3 1127.3,1060.1 1146.4,1067.2 1166.8,1070 1187.2,1067.2 1206.3,1060.1 1223.9,1050.3 1240,1039.2 1254.7,1027.1 1268.5,1014.2 1281.4,1000.4 1293.5,985.7 1304.6,969.6 1314.4,952 1321.5,932.9Z"/>
<path fill="#965a19" d="M1322.5,912.5 1319.9,892.3 1312.9,873.4 1303.4,855.9 1292.4,840 1280.4,825.3 1267.6,811.7 1254,798.9 1239.3,786.9 1223.4,775.9 1205.9,766.4 1187,759.4 1166.8,756.8 1146.6,759.4 1127.7,766.4 1110.2,775.9 1094.3,786.9 1079.6,798.9 1066,811.7 1053.2,825.3 1041.2,840 1030.2,855.9 1020.7,873.4 1013.7,892.3 1011.1,912.5 1013.7,932.7 1020.7,951.6 1030.2,969.1 1041.2,985 1053.2,999.7 1066,1013.3 1079.6,1026.1 1094.3,1038.1 1110.2,1049.1 1127.7,1058.6 1146.6,1065.6 1166.8,1068.2 1187,1065.6 1205.9,1058.6 1223.4,1049.1 1239.3,1038.1 1254,1026.1 1267.6,1013.3 1280.4,999.7 1292.4,985 1303.4,969.1 1312.9,951.6 1319.9,932.7Z"/>
<path fill="#905417" d="M1320.8,912.5 1318.2,892.6 1311.4,873.7 1302.1,856.5 1291.3,840.6 1279.4,826.1 1266.8,812.5 1253.2,799.9 1238.7,788 1222.8,777.2 1205.6,767.9 1186.7,761.1 1166.8,758.5 1146.9,761.1 1128,767.9 1110.8,777.2 1094.9,788 1080.4,799.9 1066.8,812.5 1054.2,826.1 1042.3,840.6 1031.5,856.5 1022.2,873.7 1015.4,892.6 1012.8,912.5 1015.4,932.4 1022.2,951.3 1031.5,968.5 1042.3,984.4 1054.2,998.9 1066.8,1012.5 1080.4,1025.1 1094.9,1037 1110.8,1047.8 1128,1057.1 1146.9,1063.9 1166.8,1066.5 1186.7,1063.9 1205.6,1057.1 1222.8,1047.8 1238.7,1037 1253.2,1025.1 1266.8,1012.5 1279.4,998.9 1291.3,984.4 1302.1,968.5 1311.4,951.3 1318.2,932.4Z"/>
<path fill="#894d15" d="M1319.1,912.5 1316.6,892.8 1310,874.1 1300.8,857 1290.1,841.3 1278.5,826.8 1265.9,813.4 1252.5,800.8 1238,789.2 1222.3,778.5 1205.2,769.3 1186.5,762.7 1166.8,760.2 1147.1,762.7 1128.4,769.3 1111.3,778.5 1095.6,789.2 1081.1,800.8 1067.7,813.4 1055.1,826.8 1043.5,841.3 1032.8,857 1023.6,874.1 1017,892.8 1014.5,912.5 1017,932.2 1023.6,950.9 1032.8,968 1043.5,983.7 1055.1,998.2 1067.7,1011.6 1081.1,1024.2 1095.6,1035.8 1111.3,1046.5 1128.4,1055.7 1147.1,1062.3 1166.8,1064.8 1186.5,1062.3 1205.2,1055.7 1222.3,1046.5 1238,1035.8 1252.5,1024.2 1265.9,1011.6 1278.5,998.2 1290.1,983.7 1300.8,968 1310,950.9 1316.6,932.2Z"/>
<path fill="#7e4514" d="M1317.3,912.5 1314.9,893 1308.5,874.5 1299.5,857.5 1289,841.9 1277.5,827.6 1265.1,814.2 1251.7,801.8 1237.4,790.3 1221.8,779.8 1204.8,770.8 1186.3,764.4 1166.8,762 1147.3,764.4 1128.8,770.8 1111.8,779.8 1096.2,790.3 1081.9,801.8 1068.5,814.2 1056.1,827.6 1044.6,841.9 1034.1,857.5 1025.1,874.5 1018.7,893 1016.3,912.5 1018.7,932 1025.1,950.5 1034.1,967.5 1044.6,983.1 1056.1,997.4 1068.5,1010.8 1081.9,1023.2 1096.2,1034.7 1111.8,1045.2 1128.8,1054.2 1147.3,1060.6 1166.8,1063 1186.3,1060.6 1204.8,1054.2 1221.8,1045.2 1237.4,1034.7 1251.7,1023.2 1265.1,1010.8 1277.5,997.4 1289,983.1 1299.5,967.5 1308.5,950.5 1314.9,932Z"/>
<path fill="#723d14" d="M1315.6,912.5 1313.2,893.2 1307,874.9 1298.2,858.1 1287.9,842.6 1276.5,828.3 1264.2,815.1 1251,802.8 1236.7,791.4 1221.2,781.1 1204.4,772.3 1186.1,766.1 1166.8,763.7 1147.5,766.1 1129.2,772.3 1112.4,781.1 1096.9,791.4 1082.6,802.8 1069.4,815.1 1057.1,828.3 1045.7,842.6 1035.4,858.1 1026.6,874.9 1020.4,893.2 1018,912.5 1020.4,931.8 1026.6,950.1 1035.4,966.9 1045.7,982.4 1057.1,996.7 1069.4,1009.9 1082.6,1022.2 1096.9,1033.6 1112.4,1043.9 1129.2,1052.7 1147.5,1058.9 1166.8,1061.3 1186.1,1058.9 1204.4,1052.7 1221.2,1043.9 1236.7,1033.6 1251,1022.2 1264.2,1009.9 1276.5,996.7 1287.9,982.4 1298.2,966.9 1307,950.1 1313.2,931.8Z"/>
<path fill="#663514" d="M1313.8,912.5 1311.6,893.4 1305.5,875.3 1296.9,858.6 1286.7,843.3 1275.5,829.1 1263.3,816 1250.2,803.8 1236,792.6 1220.7,782.4 1204,773.8 1185.9,767.7 1166.8,765.5 1147.7,767.7 1129.6,773.8 1112.9,782.4 1097.6,792.6 1083.4,803.8 1070.3,816 1058.1,829.1 1046.9,843.3 1036.7,858.6 1028.1,875.3 1022,893.4 1019.8,912.5 1022,931.6 1028.1,949.7 1036.7,966.4 1046.9,981.7 1058.1,995.9 1070.3,1009 1083.4,1021.2 1097.6,1032.4 1112.9,1042.6 1129.6,1051.2 1147.7,1057.3 1166.8,1059.5 1185.9,1057.3 1204,1051.2 1220.7,1042.6 1236,1032.4 1250.2,1021.2 1263.3,1009 1275.5,995.9 1286.7,981.7 1296.9,966.4 1305.5,949.7 1311.6,931.6Z"/>
<path fill="#592e14" d="M1312.1,912.5 1309.9,893.7 1304,875.7 1295.5,859.2 1285.5,843.9 1274.4,829.9 1262.4,816.9 1249.4,804.9 1235.4,793.8 1220.1,783.8 1203.6,775.3 1185.6,769.4 1166.8,767.2 1148,769.4 1130,775.3 1113.5,783.8 1098.2,793.8 1084.2,804.9 1071.2,816.9 1059.2,829.9 1048.1,843.9 1038.1,859.2 1029.6,875.7 1023.7,893.7 1021.5,912.5 1023.7,931.3 1029.6,949.3 1038.1,965.8 1048.1,981.1 1059.2,995.1 1071.2,1008.1 1084.2,1020.1 1098.2,1031.2 1113.5,1041.2 1130,1049.7 1148,1055.6 1166.8,1057.8 1185.6,1055.6 1203.6,1049.7 1220.1,1041.2 1235.4,1031.2 1249.4,1020.1 1262.4,1008.1 1274.4,995.1 1285.5,981.1 1295.5,965.8 1304,949.3 1309.9,931.3Z"/>
<path fill="#4e2714" d="M1310.3,912.5 1308.2,893.9 1302.4,876.2 1294.2,859.7 1284.4,844.6 1273.4,830.7 1261.5,817.8 1248.6,805.9 1234.7,794.9 1219.6,785.1 1203.1,776.9 1185.4,771.1 1166.8,769 1148.2,771.1 1130.5,776.9 1114,785.1 1098.9,794.9 1085,805.9 1072.1,817.8 1060.2,830.7 1049.2,844.6 1039.4,859.7 1031.2,876.2 1025.4,893.9 1023.3,912.5 1025.4,931.1 1031.2,948.8 1039.4,965.3 1049.2,980.4 1060.2,994.3 1072.1,1007.2 1085,1019.1 1098.9,1030.1 1114,1039.9 1130.5,1048.1 1148.2,1053.9 1166.8,1056 1185.4,1053.9 1203.1,1048.1 1219.6,1039.9 1234.7,1030.1 1248.6,1019.1 1261.5,1007.2 1273.4,994.3 1284.4,980.4 1294.2,965.3 1302.4,948.8 1308.2,931.1Z"/>
<path fill="#462114" d="M1308.6,912.5 1306.5,894.1 1300.9,876.6 1292.8,860.3 1283.2,845.3 1272.3,831.5 1260.5,818.8 1247.8,807 1234,796.1 1219,786.5 1202.7,778.4 1185.2,772.8 1166.8,770.7 1148.4,772.8 1130.9,778.4 1114.6,786.5 1099.6,796.1 1085.8,807 1073.1,818.8 1061.3,831.5 1050.4,845.3 1040.8,860.3 1032.7,876.6 1027.1,894.1 1025,912.5 1027.1,930.9 1032.7,948.4 1040.8,964.7 1050.4,979.7 1061.3,993.5 1073.1,1006.2 1085.8,1018 1099.6,1028.9 1114.6,1038.5 1130.9,1046.6 1148.4,1052.2 1166.8,1054.3 1185.2,1052.2 1202.7,1046.6 1219,1038.5 1234,1028.9 1247.8,1018 1260.5,1006.2 1272.3,993.5 1283.2,979.7 1292.8,964.7 1300.9,948.4 1306.5,930.9Z"/>
<path fill="#3c1c13" d="M1306.9,912.5 1304.9,894.3 1299.4,877 1291.5,860.9 1282,846 1271.3,832.3 1259.6,819.7 1247,808 1233.3,797.3 1218.4,787.8 1202.3,779.9 1185,774.4 1166.8,772.4 1148.6,774.4 1131.3,779.9 1115.2,787.8 1100.3,797.3 1086.6,808 1074,819.7 1062.3,832.3 1051.6,846 1042.1,860.9 1034.2,877 1028.7,894.3 1026.7,912.5 1028.7,930.7 1034.2,948 1042.1,964.1 1051.6,979 1062.3,992.7 1074,1005.3 1086.6,1017 1100.3,1027.7 1115.2,1037.2 1131.3,1045.1 1148.6,1050.6 1166.8,1052.6 1185,1050.6 1202.3,1045.1 1218.4,1037.2 1233.3,1027.7 1247,1017 1259.6,1005.3 1271.3,992.7 1282,979 1291.5,964.1 1299.4,948 1304.9,930.7Z"/>
<path fill="#301711" d="M1305.1,912.5 1303.2,894.5 1297.8,877.4 1290.1,861.4 1280.7,846.7 1270.2,833.2 1258.7,820.6 1246.1,809.1 1232.6,798.6 1217.9,789.2 1201.9,781.5 1184.8,776.1 1166.8,774.2 1148.8,776.1 1131.7,781.5 1115.7,789.2 1101,798.6 1087.5,809.1 1074.9,820.6 1063.4,833.2 1052.9,846.7 1043.5,861.4 1035.8,877.4 1030.4,894.5 1028.5,912.5 1030.4,930.5 1035.8,947.6 1043.5,963.6 1052.9,978.3 1063.4,991.8 1074.9,1004.4 1087.5,1015.9 1101,1026.4 1115.7,1035.8 1131.7,1043.5 1148.8,1048.9 1166.8,1050.8 1184.8,1048.9 1201.9,1043.5 1217.9,1035.8 1232.6,1026.4 1246.1,1015.9 1258.7,1004.4 1270.2,991.8 1280.7,978.3 1290.1,963.6 1297.8,947.6 1303.2,930.5Z"/>
<path fill="#281410" d="M1303.4,912.5 1301.5,894.8 1296.3,877.8 1288.7,862 1279.5,847.4 1269.1,834 1257.7,821.6 1245.3,810.2 1231.9,799.8 1217.3,790.6 1201.5,783 1184.5,777.8 1166.8,775.9 1149.1,777.8 1132.1,783 1116.3,790.6 1101.7,799.8 1088.3,810.2 1075.9,821.6 1064.5,834 1054.1,847.4 1044.9,862 1037.3,877.8 1032.1,894.8 1030.2,912.5 1032.1,930.2 1037.3,947.2 1044.9,963 1054.1,977.6 1064.5,991 1075.9,1003.4 1088.3,1014.8 1101.7,1025.2 1116.3,1034.4 1132.1,1042 1149.1,1047.2 1166.8,1049.1 1184.5,1047.2 1201.5,1042 1217.3,1034.4 1231.9,1025.2 1245.3,1014.8 1257.7,1003.4 1269.1,991 1279.5,977.6 1288.7,963 1296.3,947.2 1301.5,930.2Z"/>
<path fill="#21120f" d="M1301.6,912.5 1299.8,895 1294.7,878.2 1287.3,862.6 1278.3,848.1 1268,834.8 1256.7,822.6 1244.5,811.3 1231.2,801 1216.7,792 1201.1,784.6 1184.3,779.5 1166.8,777.7 1149.3,779.5 1132.5,784.6 1116.9,792 1102.4,801 1089.1,811.3 1076.9,822.6 1065.6,834.8 1055.3,848.1 1046.3,862.6 1038.9,878.2 1033.8,895 1032,912.5 1033.8,930 1038.9,946.8 1046.3,962.4 1055.3,976.9 1065.6,990.2 1076.9,1002.4 1089.1,1013.7 1102.4,1024 1116.9,1033 1132.5,1040.4 1149.3,1045.5 1166.8,1047.3 1184.3,1045.5 1201.1,1040.4 1216.7,1033 1231.2,1024 1244.5,1013.7 1256.7,1002.4 1268,990.2 1278.3,976.9 1287.3,962.4 1294.7,946.8 1299.8,930Z"/>
<path fill="#1c100d" d="M1299.9,912.5 1298.1,895.2 1293.2,878.6 1285.9,863.2 1277,848.9 1266.9,835.7 1255.7,823.6 1243.6,812.4 1230.4,802.3 1216.1,793.4 1200.7,786.1 1184.1,781.2 1166.8,779.4 1149.5,781.2 1132.9,786.1 1117.5,793.4 1103.2,802.3 1090,812.4 1077.9,823.6 1066.7,835.7 1056.6,848.9 1047.7,863.2 1040.4,878.6 1035.5,895.2 1033.7,912.5 1035.5,929.8 1040.4,946.4 1047.7,961.8 1056.6,976.1 1066.7,989.3 1077.9,1001.4 1090,1012.6 1103.2,1022.7 1117.5,1031.6 1132.9,1038.9 1149.5,1043.8 1166.8,1045.6 1184.1,1043.8 1200.7,1038.9 1216.1,1031.6 1230.4,1022.7 1243.6,1012.6 1255.7,1001.4 1266.9,989.3 1277,976.1 1285.9,961.8 1293.2,946.4 1298.1,929.8Z"/>
<path fill="#180e0c" d="M1298.2,912.5 1296.4,895.4 1291.6,879.1 1284.5,863.7 1275.8,849.6 1265.8,836.6 1254.8,824.5 1242.7,813.5 1229.7,803.5 1215.6,794.8 1200.2,787.7 1183.9,782.9 1166.8,781.1 1149.7,782.9 1133.4,787.7 1118,794.8 1103.9,803.5 1090.9,813.5 1078.8,824.5 1067.8,836.6 1057.8,849.6 1049.1,863.7 1042,879.1 1037.2,895.4 1035.4,912.5 1037.2,929.6 1042,945.9 1049.1,961.3 1057.8,975.4 1067.8,988.4 1078.8,1000.5 1090.9,1011.5 1103.9,1021.5 1118,1030.2 1133.4,1037.3 1149.7,1042.1 1166.8,1043.9 1183.9,1042.1 1200.2,1037.3 1215.6,1030.2 1229.7,1021.5 1242.7,1011.5 1254.8,1000.5 1265.8,988.4 1275.8,975.4 1284.5,961.3 1291.6,945.9 1296.4,929.6Z"/>
<path fill="#140d0a" d="M1296.4,912.5 1294.7,895.7 1290,879.5 1283.1,864.3 1274.5,850.3 1264.6,837.4 1253.8,825.5 1241.9,814.7 1229,804.8 1215,796.2 1199.8,789.3 1183.6,784.6 1166.8,782.9 1150,784.6 1133.8,789.3 1118.6,796.2 1104.6,804.8 1091.7,814.7 1079.8,825.5 1069,837.4 1059.1,850.3 1050.5,864.3 1043.6,879.5 1038.9,895.7 1037.2,912.5 1038.9,929.3 1043.6,945.5 1050.5,960.7 1059.1,974.7 1069,987.6 1079.8,999.5 1091.7,1010.3 1104.6,1020.2 1118.6,1028.8 1133.8,1035.7 1150,1040.4 1166.8,1042.1 1183.6,1040.4 1199.8,1035.7 1215,1028.8 1229,1020.2 1241.9,1010.3 1253.8,999.5 1264.6,987.6 1274.5,974.7 1283.1,960.7 1290,945.5 1294.7,929.3Z"/>
<path fill="#110b09" d="M1294.7,912.5 1293,895.9 1288.5,879.9 1281.6,864.9 1273.2,851.1 1263.5,838.3 1252.8,826.5 1241,815.8 1228.2,806.1 1214.4,797.7 1199.4,790.8 1183.4,786.3 1166.8,784.6 1150.2,786.3 1134.2,790.8 1119.2,797.7 1105.4,806.1 1092.6,815.8 1080.8,826.5 1070.1,838.3 1060.4,851.1 1052,864.9 1045.1,879.9 1040.6,895.9 1038.9,912.5 1040.6,929.1 1045.1,945.1 1052,960.1 1060.4,973.9 1070.1,986.7 1080.8,998.5 1092.6,1009.2 1105.4,1018.9 1119.2,1027.3 1134.2,1034.2 1150.2,1038.7 1166.8,1040.4 1183.4,1038.7 1199.4,1034.2 1214.4,1027.3 1228.2,1018.9 1241,1009.2 1252.8,998.5 1263.5,986.7 1273.2,973.9 1281.6,960.1 1288.5,945.1 1293,929.1Z"/>
<path fill="#0f0a08" d="M1292.9,912.5 1291.3,896.1 1286.9,880.3 1280.2,865.5 1271.9,851.8 1262.4,839.2 1251.7,827.6 1240.1,816.9 1227.5,807.4 1213.8,799.1 1199,792.4 1183.2,788 1166.8,786.4 1150.4,788 1134.6,792.4 1119.8,799.1 1106.1,807.4 1093.5,816.9 1081.9,827.6 1071.2,839.2 1061.7,851.8 1053.4,865.5 1046.7,880.3 1042.3,896.1 1040.7,912.5 1042.3,928.9 1046.7,944.7 1053.4,959.5 1061.7,973.2 1071.2,985.8 1081.9,997.4 1093.5,1008.1 1106.1,1017.6 1119.8,1025.9 1134.6,1032.6 1150.4,1037 1166.8,1038.6 1183.2,1037 1199,1032.6 1213.8,1025.9 1227.5,1017.6 1240.1,1008.1 1251.7,997.4 1262.4,985.8 1271.9,973.2 1280.2,959.5 1286.9,944.7 1291.3,928.9Z"/>
<path fill="#0d0807" d="M1291.2,912.5 1289.6,896.3 1285.3,880.7 1278.8,866.1 1270.6,852.6 1261.2,840.1 1250.7,828.6 1239.2,818.1 1226.7,808.7 1213.2,800.5 1198.6,794 1183,789.7 1166.8,788.1 1150.6,789.7 1135,794 1120.4,800.5 1106.9,808.7 1094.4,818.1 1082.9,828.6 1072.4,840.1 1063,852.6 1054.8,866.1 1048.3,880.7 1044,896.3 1042.4,912.5 1044,928.7 1048.3,944.3 1054.8,958.9 1063,972.4 1072.4,984.9 1082.9,996.4 1094.4,1006.9 1106.9,1016.3 1120.4,1024.5 1135,1031 1150.6,1035.3 1166.8,1036.9 1183,1035.3 1198.6,1031 1213.2,1024.5 1226.7,1016.3 1239.2,1006.9 1250.7,996.4 1261.2,984.9 1270.6,972.4 1278.8,958.9 1285.3,944.3 1289.6,928.7Z"/>
<path fill="#0c0706" d="M1289.4,912.5 1287.9,896.6 1283.7,881.2 1277.3,866.7 1269.3,853.3 1260,841 1249.7,829.6 1238.3,819.3 1226,810 1212.6,802 1198.1,795.6 1182.7,791.4 1166.8,789.9 1150.9,791.4 1135.5,795.6 1121,802 1107.6,810 1095.3,819.3 1083.9,829.6 1073.6,841 1064.3,853.3 1056.3,866.7 1049.9,881.2 1045.7,896.6 1044.2,912.5 1045.7,928.4 1049.9,943.8 1056.3,958.3 1064.3,971.7 1073.6,984 1083.9,995.4 1095.3,1005.7 1107.6,1015 1121,1023 1135.5,1029.4 1150.9,1033.6 1166.8,1035.1 1182.7,1033.6 1198.1,1029.4 1212.6,1023 1226,1015 1238.3,1005.7 1249.7,995.4 1260,984 1269.3,971.7 1277.3,958.3 1283.7,943.8 1287.9,928.4Z"/>
<path fill="#0a0605" d="M1287.7,912.5 1286.2,896.8 1282.1,881.6 1275.9,867.3 1268,854.1 1258.9,841.9 1248.7,830.6 1237.4,820.4 1225.2,811.3 1212,803.4 1197.7,797.2 1182.5,793.1 1166.8,791.6 1151.1,793.1 1135.9,797.2 1121.6,803.4 1108.4,811.3 1096.2,820.4 1084.9,830.6 1074.7,841.9 1065.6,854.1 1057.7,867.3 1051.5,881.6 1047.4,896.8 1045.9,912.5 1047.4,928.2 1051.5,943.4 1057.7,957.7 1065.6,970.9 1074.7,983.1 1084.9,994.4 1096.2,1004.6 1108.4,1013.7 1121.6,1021.6 1135.9,1027.8 1151.1,1031.9 1166.8,1033.4 1182.5,1031.9 1197.7,1027.8 1212,1021.6 1225.2,1013.7 1237.4,1004.6 1248.7,994.4 1258.9,983.1 1268,970.9 1275.9,957.7 1282.1,943.4 1286.2,928.2Z"/>
<path fill="#0b0706" d="M1286.3,912.5 1284.9,897 1280.8,881.9 1274.7,867.8 1267,854.7 1258,842.5 1247.9,831.4 1236.8,821.3 1224.6,812.3 1211.5,804.6 1197.4,798.5 1182.3,794.4 1166.8,793 1151.3,794.4 1136.2,798.5 1122.1,804.6 1109,812.3 1096.8,821.3 1085.7,831.4 1075.6,842.5 1066.6,854.7 1058.9,867.8 1052.8,881.9 1048.7,897 1047.3,912.5 1048.7,928 1052.8,943.1 1058.9,957.2 1066.6,970.3 1075.6,982.5 1085.7,993.6 1096.8,1003.7 1109,1012.7 1122.1,1020.4 1136.2,1026.5 1151.3,1030.6 1166.8,1032 1182.3,1030.6 1197.4,1026.5 1211.5,1020.4 1224.6,1012.7 1236.8,1003.7 1247.9,993.6 1258,982.5 1267,970.3 1274.7,957.2 1280.8,943.1 1284.9,928Z"/>
<path fill="#0d0807" d="M1284.9,912.5 1283.5,897.1 1279.6,882.3 1273.6,868.3 1266,855.2 1257.1,843.2 1247.1,832.2 1236.1,822.2 1224.1,813.3 1211,805.7 1197,799.7 1182.2,795.8 1166.8,794.4 1151.4,795.8 1136.6,799.7 1122.6,805.7 1109.5,813.3 1097.5,822.2 1086.5,832.2 1076.5,843.2 1067.6,855.2 1060,868.3 1054,882.3 1050.1,897.1 1048.7,912.5 1050.1,927.9 1054,942.7 1060,956.7 1067.6,969.8 1076.5,981.8 1086.5,992.8 1097.5,1002.8 1109.5,1011.7 1122.6,1019.3 1136.6,1025.3 1151.4,1029.2 1166.8,1030.6 1182.2,1029.2 1197,1025.3 1211,1019.3 1224.1,1011.7 1236.1,1002.8 1247.1,992.8 1257.1,981.8 1266,969.8 1273.6,956.7 1279.6,942.7 1283.5,927.9Z"/>
<path fill="#0e0908" d="M1283.5,912.5 1282.1,897.3 1278.3,882.6 1272.4,868.8 1264.9,855.8 1256.2,843.9 1246.3,833 1235.4,823.1 1223.5,814.4 1210.5,806.9 1196.7,801 1182,797.2 1166.8,795.8 1151.6,797.2 1136.9,801 1123.1,806.9 1110.1,814.4 1098.2,823.1 1087.3,833 1077.4,843.9 1068.7,855.8 1061.2,868.8 1055.3,882.6 1051.5,897.3 1050.1,912.5 1051.5,927.7 1055.3,942.4 1061.2,956.2 1068.7,969.2 1077.4,981.1 1087.3,992 1098.2,1001.9 1110.1,1010.6 1123.1,1018.1 1136.9,1024 1151.6,1027.8 1166.8,1029.2 1182,1027.8 1196.7,1024 1210.5,1018.1 1223.5,1010.6 1235.4,1001.9 1246.3,992 1256.2,981.1 1264.9,969.2 1272.4,956.2 1278.3,942.4 1282.1,927.7Z"/>
<path fill="#100a08" d="M1282.1,912.5 1280.8,897.5 1277,883 1271.3,869.2 1263.9,856.4 1255.3,844.6 1245.5,833.8 1234.7,824 1222.9,815.4 1210.1,808 1196.3,802.3 1181.8,798.5 1166.8,797.2 1151.8,798.5 1137.3,802.3 1123.5,808 1110.7,815.4 1098.9,824 1088.1,833.8 1078.3,844.6 1069.7,856.4 1062.3,869.2 1056.6,883 1052.8,897.5 1051.5,912.5 1052.8,927.5 1056.6,942 1062.3,955.8 1069.7,968.6 1078.3,980.4 1088.1,991.2 1098.9,1001 1110.7,1009.6 1123.5,1017 1137.3,1022.7 1151.8,1026.5 1166.8,1027.8 1181.8,1026.5 1196.3,1022.7 1210.1,1017 1222.9,1009.6 1234.7,1001 1245.5,991.2 1255.3,980.4 1263.9,968.6 1271.3,955.8 1277,942 1280.8,927.5Z"/>
<path fill="#120b09" d="M1280.6,912.5 1279.4,897.7 1275.7,883.3 1270.1,869.7 1262.9,857 1254.3,845.3 1244.7,834.6 1234,825 1222.3,816.4 1209.6,809.2 1196,803.6 1181.6,799.9 1166.8,798.7 1152,799.9 1137.6,803.6 1124,809.2 1111.3,816.4 1099.6,825 1088.9,834.6 1079.3,845.3 1070.7,857 1063.5,869.7 1057.9,883.3 1054.2,897.7 1053,912.5 1054.2,927.3 1057.9,941.7 1063.5,955.3 1070.7,968 1079.3,979.7 1088.9,990.4 1099.6,1000 1111.3,1008.6 1124,1015.8 1137.6,1021.4 1152,1025.1 1166.8,1026.3 1181.6,1025.1 1196,1021.4 1209.6,1015.8 1222.3,1008.6 1234,1000 1244.7,990.4 1254.3,979.7 1262.9,968 1270.1,955.3 1275.7,941.7 1279.4,927.3Z"/>
<path fill="#150d0b" d="M1279.2,912.5 1278,897.9 1274.4,883.7 1268.9,870.2 1261.8,857.6 1253.4,846.1 1243.8,835.5 1233.2,825.9 1221.7,817.5 1209.1,810.4 1195.6,804.9 1181.4,801.3 1166.8,800.1 1152.2,801.3 1138,804.9 1124.5,810.4 1111.9,817.5 1100.4,825.9 1089.8,835.5 1080.2,846.1 1071.8,857.6 1064.7,870.2 1059.2,883.7 1055.6,897.9 1054.4,912.5 1055.6,927.1 1059.2,941.3 1064.7,954.8 1071.8,967.4 1080.2,978.9 1089.8,989.5 1100.4,999.1 1111.9,1007.5 1124.5,1014.6 1138,1020.1 1152.2,1023.7 1166.8,1024.9 1181.4,1023.7 1195.6,1020.1 1209.1,1014.6 1221.7,1007.5 1233.2,999.1 1243.8,989.5 1253.4,978.9 1261.8,967.4 1268.9,954.8 1274.4,941.3 1278,927.1Z"/>
<path fill="#190f0c" d="M1277.8,912.5 1276.6,898 1273.1,884 1267.7,870.7 1260.7,858.3 1252.4,846.8 1243,836.3 1232.5,826.9 1221,818.6 1208.6,811.6 1195.3,806.2 1181.3,802.7 1166.8,801.5 1152.3,802.7 1138.3,806.2 1125,811.6 1112.6,818.6 1101.1,826.9 1090.6,836.3 1081.2,846.8 1072.9,858.3 1065.9,870.7 1060.5,884 1057,898 1055.8,912.5 1057,927 1060.5,941 1065.9,954.3 1072.9,966.7 1081.2,978.2 1090.6,988.7 1101.1,998.1 1112.6,1006.4 1125,1013.4 1138.3,1018.8 1152.3,1022.3 1166.8,1023.5 1181.3,1022.3 1195.3,1018.8 1208.6,1013.4 1221,1006.4 1232.5,998.1 1243,988.7 1252.4,978.2 1260.7,966.7 1267.7,954.3 1273.1,941 1276.6,927Z"/>
<path fill="#1d110e" d="M1276.4,912.5 1275.2,898.2 1271.8,884.4 1266.5,871.2 1259.7,858.9 1251.5,847.5 1242.2,837.1 1231.8,827.8 1220.4,819.6 1208.1,812.8 1194.9,807.5 1181.1,804.1 1166.8,802.9 1152.5,804.1 1138.7,807.5 1125.5,812.8 1113.2,819.6 1101.8,827.8 1091.4,837.1 1082.1,847.5 1073.9,858.9 1067.1,871.2 1061.8,884.4 1058.4,898.2 1057.2,912.5 1058.4,926.8 1061.8,940.6 1067.1,953.8 1073.9,966.1 1082.1,977.5 1091.4,987.9 1101.8,997.2 1113.2,1005.4 1125.5,1012.2 1138.7,1017.5 1152.5,1020.9 1166.8,1022.1 1181.1,1020.9 1194.9,1017.5 1208.1,1012.2 1220.4,1005.4 1231.8,997.2 1242.2,987.9 1251.5,977.5 1259.7,966.1 1266.5,953.8 1271.8,940.6 1275.2,926.8Z"/>
<path fill="#22120f" d="M1275,912.5 1273.9,898.4 1270.5,884.7 1265.3,871.7 1258.6,859.5 1250.5,848.3 1241.3,838 1231,828.8 1219.8,820.7 1207.6,814 1194.6,808.8 1180.9,805.4 1166.8,804.3 1152.7,805.4 1139,808.8 1126,814 1113.8,820.7 1102.6,828.8 1092.3,838 1083.1,848.3 1075,859.5 1068.3,871.7 1063.1,884.7 1059.7,898.4 1058.6,912.5 1059.7,926.6 1063.1,940.3 1068.3,953.3 1075,965.5 1083.1,976.7 1092.3,987 1102.6,996.2 1113.8,1004.3 1126,1011 1139,1016.2 1152.7,1019.6 1166.8,1020.7 1180.9,1019.6 1194.6,1016.2 1207.6,1011 1219.8,1004.3 1231,996.2 1241.3,987 1250.5,976.7 1258.6,965.5 1265.3,953.3 1270.5,940.3 1273.9,926.6Z"/>
<path fill="#271410" d="M1273.6,912.5 1272.5,898.6 1269.2,885.1 1264.1,872.2 1257.5,860.1 1249.6,849 1240.5,838.8 1230.3,829.7 1219.2,821.8 1207.1,815.2 1194.2,810.1 1180.7,806.8 1166.8,805.7 1152.9,806.8 1139.4,810.1 1126.5,815.2 1114.4,821.8 1103.3,829.7 1093.1,838.8 1084,849 1076.1,860.1 1069.5,872.2 1064.4,885.1 1061.1,898.6 1060,912.5 1061.1,926.4 1064.4,939.9 1069.5,952.8 1076.1,964.9 1084,976 1093.1,986.2 1103.3,995.3 1114.4,1003.2 1126.5,1009.8 1139.4,1014.9 1152.9,1018.2 1166.8,1019.3 1180.7,1018.2 1194.2,1014.9 1207.1,1009.8 1219.2,1003.2 1230.3,995.3 1240.5,986.2 1249.6,976 1257.5,964.9 1264.1,952.8 1269.2,939.9 1272.5,926.4Z"/>
<path fill="#2e1611" d="M1272.2,912.5 1271.1,898.8 1267.9,885.4 1262.9,872.7 1256.4,860.8 1248.6,849.7 1239.6,839.7 1229.6,830.7 1218.5,822.9 1206.6,816.4 1193.9,811.4 1180.5,808.2 1166.8,807.1 1153.1,808.2 1139.7,811.4 1127,816.4 1115.1,822.9 1104,830.7 1094,839.7 1085,849.7 1077.2,860.8 1070.7,872.7 1065.7,885.4 1062.5,898.8 1061.4,912.5 1062.5,926.2 1065.7,939.6 1070.7,952.3 1077.2,964.2 1085,975.3 1094,985.3 1104,994.3 1115.1,1002.1 1127,1008.6 1139.7,1013.6 1153.1,1016.8 1166.8,1017.9 1180.5,1016.8 1193.9,1013.6 1206.6,1008.6 1218.5,1002.1 1229.6,994.3 1239.6,985.3 1248.6,975.3 1256.4,964.2 1262.9,952.3 1267.9,939.6 1271.1,926.2Z"/>
<path fill="#3a1b13" d="M1270.8,912.5 1269.7,899 1266.6,885.8 1261.7,873.2 1255.3,861.4 1247.6,850.5 1238.7,840.6 1228.8,831.7 1217.9,824 1206.1,817.6 1193.5,812.7 1180.3,809.6 1166.8,808.5 1153.3,809.6 1140.1,812.7 1127.5,817.6 1115.7,824 1104.8,831.7 1094.9,840.6 1086,850.5 1078.3,861.4 1071.9,873.2 1067,885.8 1063.9,899 1062.8,912.5 1063.9,926 1067,939.2 1071.9,951.8 1078.3,963.6 1086,974.5 1094.9,984.4 1104.8,993.3 1115.7,1001 1127.5,1007.4 1140.1,1012.3 1153.3,1015.4 1166.8,1016.5 1180.3,1015.4 1193.5,1012.3 1206.1,1007.4 1217.9,1001 1228.8,993.3 1238.7,984.4 1247.6,974.5 1255.3,963.6 1261.7,951.8 1266.6,939.2 1269.7,926Z"/>
<path fill="#452014" d="M1269.4,912.5 1268.3,899.1 1265.3,886.1 1260.5,873.7 1254.2,862 1246.6,851.3 1237.8,841.5 1228,832.7 1217.3,825.1 1205.6,818.8 1193.2,814 1180.2,811 1166.8,809.9 1153.4,811 1140.4,814 1128,818.8 1116.3,825.1 1105.6,832.7 1095.8,841.5 1087,851.3 1079.4,862 1073.1,873.7 1068.3,886.1 1065.3,899.1 1064.2,912.5 1065.3,925.9 1068.3,938.9 1073.1,951.3 1079.4,963 1087,973.7 1095.8,983.5 1105.6,992.3 1116.3,999.9 1128,1006.2 1140.4,1011 1153.4,1014 1166.8,1015.1 1180.2,1014 1193.2,1011 1205.6,1006.2 1217.3,999.9 1228,992.3 1237.8,983.5 1246.6,973.7 1254.2,963 1260.5,951.3 1265.3,938.9 1268.3,925.9Z"/>
<path fill="#4d2614" d="M1268,912.5 1266.9,899.3 1264,886.5 1259.3,874.2 1253.1,862.7 1245.6,852 1237,842.3 1227.3,833.7 1216.6,826.2 1205.1,820 1192.8,815.3 1180,812.4 1166.8,811.3 1153.6,812.4 1140.8,815.3 1128.5,820 1117,826.2 1106.3,833.7 1096.6,842.3 1088,852 1080.5,862.7 1074.3,874.2 1069.6,886.5 1066.7,899.3 1065.6,912.5 1066.7,925.7 1069.6,938.5 1074.3,950.8 1080.5,962.3 1088,973 1096.6,982.7 1106.3,991.3 1117,998.8 1128.5,1005 1140.8,1009.7 1153.6,1012.6 1166.8,1013.7 1180,1012.6 1192.8,1009.7 1205.1,1005 1216.6,998.8 1227.3,991.3 1237,982.7 1245.6,973 1253.1,962.3 1259.3,950.8 1264,938.5 1266.9,925.7Z"/>
<path fill="#5c2f14" d="M1266.5,912.5 1265.6,899.5 1262.7,886.8 1258.1,874.7 1252,863.3 1244.6,852.8 1236.1,843.2 1226.5,834.7 1216,827.3 1204.6,821.2 1192.5,816.6 1179.8,813.7 1166.8,812.8 1153.8,813.7 1141.1,816.6 1129,821.2 1117.6,827.3 1107.1,834.7 1097.5,843.2 1089,852.8 1081.6,863.3 1075.5,874.7 1070.9,886.8 1068,899.5 1067.1,912.5 1068,925.5 1070.9,938.2 1075.5,950.3 1081.6,961.7 1089,972.2 1097.5,981.8 1107.1,990.3 1117.6,997.7 1129,1003.8 1141.1,1008.4 1153.8,1011.3 1166.8,1012.2 1179.8,1011.3 1192.5,1008.4 1204.6,1003.8 1216,997.7 1226.5,990.3 1236.1,981.8 1244.6,972.2 1252,961.7 1258.1,950.3 1262.7,938.2 1265.6,925.5Z"/>
<path fill="#764014" d="M1265.1,912.5 1264.2,899.7 1261.3,887.2 1256.8,875.2 1250.9,864 1243.6,853.6 1235.2,844.1 1225.7,835.7 1215.3,828.4 1204.1,822.5 1192.1,818 1179.6,815.1 1166.8,814.2 1154,815.1 1141.5,818 1129.5,822.5 1118.3,828.4 1107.9,835.7 1098.4,844.1 1090,853.6 1082.7,864 1076.8,875.2 1072.3,887.2 1069.4,899.7 1068.5,912.5 1069.4,925.3 1072.3,937.8 1076.8,949.8 1082.7,961 1090,971.4 1098.4,980.9 1107.9,989.3 1118.3,996.6 1129.5,1002.5 1141.5,1007 1154,1009.9 1166.8,1010.8 1179.6,1009.9 1192.1,1007 1204.1,1002.5 1215.3,996.6 1225.7,989.3 1235.2,980.9 1243.6,971.4 1250.9,961 1256.8,949.8 1261.3,937.8 1264.2,925.3Z"/>
<path fill="#8d5116" d="M1263.7,912.5 1262.8,899.9 1260,887.5 1255.6,875.7 1249.7,864.6 1242.6,854.4 1234.3,845 1224.9,836.7 1214.7,829.6 1203.6,823.7 1191.8,819.3 1179.4,816.5 1166.8,815.6 1154.2,816.5 1141.8,819.3 1130,823.7 1118.9,829.6 1108.7,836.7 1099.3,845 1091,854.4 1083.9,864.6 1078,875.7 1073.6,887.5 1070.8,899.9 1069.9,912.5 1070.8,925.1 1073.6,937.5 1078,949.3 1083.9,960.4 1091,970.6 1099.3,980 1108.7,988.3 1118.9,995.4 1130,1001.3 1141.8,1005.7 1154.2,1008.5 1166.8,1009.4 1179.4,1008.5 1191.8,1005.7 1203.6,1001.3 1214.7,995.4 1224.9,988.3 1234.3,980 1242.6,970.6 1249.7,960.4 1255.6,949.3 1260,937.5 1262.8,925.1Z"/>
<path fill="#985e1d" d="M1262.3,912.5 1261.4,900 1258.7,887.9 1254.4,876.2 1248.6,865.3 1241.5,855.1 1233.4,845.9 1224.2,837.8 1214,830.7 1203.1,824.9 1191.4,820.6 1179.3,817.9 1166.8,817 1154.3,817.9 1142.2,820.6 1130.5,824.9 1119.6,830.7 1109.4,837.8 1100.2,845.9 1092.1,855.1 1085,865.3 1079.2,876.2 1074.9,887.9 1072.2,900 1071.3,912.5 1072.2,925 1074.9,937.1 1079.2,948.8 1085,959.7 1092.1,969.9 1100.2,979.1 1109.4,987.2 1119.6,994.3 1130.5,1000.1 1142.2,1004.4 1154.3,1007.1 1166.8,1008 1179.3,1007.1 1191.4,1004.4 1203.1,1000.1 1214,994.3 1224.2,987.2 1233.4,979.1 1241.5,969.9 1248.6,959.7 1254.4,948.8 1258.7,937.1 1261.4,925Z"/>
<path fill="#9f6c33" d="M1260.9,912.5 1260,900.2 1257.4,888.2 1253.1,876.7 1247.5,865.9 1240.5,855.9 1232.4,846.9 1223.4,838.8 1213.4,831.8 1202.6,826.2 1191.1,821.9 1179.1,819.3 1166.8,818.4 1154.5,819.3 1142.5,821.9 1131,826.2 1120.2,831.8 1110.2,838.8 1101.2,846.9 1093.1,855.9 1086.1,865.9 1080.5,876.7 1076.2,888.2 1073.6,900.2 1072.7,912.5 1073.6,924.8 1076.2,936.8 1080.5,948.3 1086.1,959.1 1093.1,969.1 1101.2,978.1 1110.2,986.2 1120.2,993.2 1131,998.8 1142.5,1003.1 1154.5,1005.7 1166.8,1006.6 1179.1,1005.7 1191.1,1003.1 1202.6,998.8 1213.4,993.2 1223.4,986.2 1232.4,978.1 1240.5,969.1 1247.5,959.1 1253.1,948.3 1257.4,936.8 1260,924.8Z"/>
<path fill="#ad8157" d="M1259.5,912.5 1258.6,900.4 1256,888.6 1251.9,877.3 1246.3,866.6 1239.5,856.7 1231.5,847.8 1222.6,839.8 1212.7,833 1202,827.4 1190.7,823.3 1178.9,820.7 1166.8,819.8 1154.7,820.7 1142.9,823.3 1131.6,827.4 1120.9,833 1111,839.8 1102.1,847.8 1094.1,856.7 1087.3,866.6 1081.7,877.3 1077.6,888.6 1075,900.4 1074.1,912.5 1075,924.6 1077.6,936.4 1081.7,947.7 1087.3,958.4 1094.1,968.3 1102.1,977.2 1111,985.2 1120.9,992 1131.6,997.6 1142.9,1001.7 1154.7,1004.3 1166.8,1005.2 1178.9,1004.3 1190.7,1001.7 1202,997.6 1212.7,992 1222.6,985.2 1231.5,977.2 1239.5,968.3 1246.3,958.4 1251.9,947.7 1256,936.4 1258.6,924.6Z"/>
<path fill="#c19c86" d="M1258.1,912.5 1257.2,900.6 1254.7,888.9 1250.6,877.8 1245.2,867.3 1238.4,857.5 1230.6,848.7 1221.8,840.9 1212,834.1 1201.5,828.7 1190.4,824.6 1178.7,822.1 1166.8,821.2 1154.9,822.1 1143.2,824.6 1132.1,828.7 1121.6,834.1 1111.8,840.9 1103,848.7 1095.2,857.5 1088.4,867.3 1083,877.8 1078.9,888.9 1076.4,900.6 1075.5,912.5 1076.4,924.4 1078.9,936.1 1083,947.2 1088.4,957.7 1095.2,967.5 1103,976.3 1111.8,984.1 1121.6,990.9 1132.1,996.3 1143.2,1000.4 1154.9,1002.9 1166.8,1003.8 1178.7,1002.9 1190.4,1000.4 1201.5,996.3 1212,990.9 1221.8,984.1 1230.6,976.3 1238.4,967.5 1245.2,957.7 1250.6,947.2 1254.7,936.1 1257.2,924.4Z"/>
<path fill="#d8bfb7" d="M1256.7,912.5 1255.8,900.8 1253.4,889.3 1249.4,878.3 1244,867.9 1237.4,858.3 1229.7,849.6 1221,841.9 1211.4,835.3 1201,829.9 1190,825.9 1178.5,823.5 1166.8,822.6 1155.1,823.5 1143.6,825.9 1132.6,829.9 1122.2,835.3 1112.6,841.9 1103.9,849.6 1096.2,858.3 1089.6,867.9 1084.2,878.3 1080.2,889.3 1077.8,900.8 1076.9,912.5 1077.8,924.2 1080.2,935.7 1084.2,946.7 1089.6,957.1 1096.2,966.7 1103.9,975.4 1112.6,983.1 1122.2,989.7 1132.6,995.1 1143.6,999.1 1155.1,1001.5 1166.8,1002.4 1178.5,1001.5 1190,999.1 1201,995.1 1211.4,989.7 1221,983.1 1229.7,975.4 1237.4,966.7 1244,957.1 1249.4,946.7 1253.4,935.7 1255.8,924.2Z"/>
<path fill="#ede5e2" d="M1255.3,912.5 1254.5,901 1252,889.7 1248.1,878.8 1242.8,868.6 1236.3,859.1 1228.7,850.6 1220.2,843 1210.7,836.5 1200.5,831.2 1189.6,827.3 1178.3,824.8 1166.8,824 1155.3,824.8 1144,827.3 1133.1,831.2 1122.9,836.5 1113.4,843 1104.9,850.6 1097.3,859.1 1090.8,868.6 1085.5,878.8 1081.6,889.7 1079.1,901 1078.3,912.5 1079.1,924 1081.6,935.3 1085.5,946.2 1090.8,956.4 1097.3,965.9 1104.9,974.4 1113.4,982 1122.9,988.5 1133.1,993.8 1144,997.7 1155.3,1000.2 1166.8,1001 1178.3,1000.2 1189.6,997.7 1200.5,993.8 1210.7,988.5 1220.2,982 1228.7,974.4 1236.3,965.9 1242.8,956.4 1248.1,946.2 1252,935.3 1254.5,924Z"/>
<path fill="#ffffff" d="M1253.9,912.5 1253.1,901.1 1250.7,890 1246.9,879.3 1241.7,869.3 1235.3,859.9 1227.8,851.5 1219.4,844 1210,837.6 1200,832.4 1189.3,828.6 1178.2,826.2 1166.8,825.4 1155.4,826.2 1144.3,828.6 1133.6,832.4 1123.6,837.6 1114.2,844 1105.8,851.5 1098.3,859.9 1091.9,869.3 1086.7,879.3 1082.9,890 1080.5,901.1 1079.7,912.5 1080.5,923.9 1082.9,935 1086.7,945.7 1091.9,955.7 1098.3,965.1 1105.8,973.5 1114.2,981 1123.6,987.4 1133.6,992.6 1144.3,996.4 1155.4,998.8 1166.8,999.6 1178.2,998.8 1189.3,996.4 1200,992.6 1210,987.4 1219.4,981 1227.8,973.5 1235.3,965.1 1241.7,955.7 1246.9,945.7 1250.7,935 1253.1,923.9Z"/>
</g>
<defs><linearGradient id="cbd" x1="0" y1="0" x2="0" y2="1">
<stop offset="0.0034" stop-color="#ffffff"/>
<stop offset="0.0705" stop-color="#f2ede9"/>
<stop offset="0.1224" stop-color="#ebe1de"/>
<stop offset="0.1699" stop-color="#e1cdc8"/>
<stop offset="0.2305" stop-color="#d2b4aa"/>
<stop offset="0.2954" stop-color="#c3a08c"/>
<stop offset="0.3386" stop-color="#b99173"/>
<stop offset="0.3927" stop-color="#aa7d50"/>
<stop offset="0.4467" stop-color="#a06e37"/>
<stop offset="0.4943" stop-color="#9b6423"/>
<stop offset="0.5549" stop-color="#965a19"/>
<stop offset="0.6024" stop-color="#874b14"/>
<stop offset="0.6630" stop-color="#693714"/>
<stop offset="0.7105" stop-color="#502814"/>
<stop offset="0.7711" stop-color="#411e14"/>
<stop offset="0.8252" stop-color="#2d1611"/>
<stop offset="0.8965" stop-color="#1e110e"/>
<stop offset="0.9873" stop-color="#0f0a08"/>
<stop offset="1.0306" stop-color="#0a0605"/>
</linearGradient></defs>
<rect x="1331.7" y="978.4" width="20.5" height="142.2" fill="url(#cbd)" stroke="#000" stroke-width="1.7"/>
<line x1="1352.5" y1="995.8" x2="1362.5" y2="995.8" stroke="#000" stroke-width="1.8"/>
<line x1="1352.5" y1="1026.4" x2="1362.5" y2="1026.4" stroke="#000" stroke-width="1.8"/>
<line x1="1352.5" y1="1056.7" x2="1362.5" y2="1056.7" stroke="#000" stroke-width="1.8"/>
<line x1="1352.5" y1="1088.2" x2="1362.5" y2="1088.2" stroke="#000" stroke-width="1.8"/>
<line x1="1352.5" y1="1118.8" x2="1362.5" y2="1118.8" stroke="#000" stroke-width="1.8"/>
<text transform="translate(1355.82,980.60)" font-size="26.30" xml:space="preserve" stroke="#000" stroke-width="0.30" stroke-linejoin="round"><tspan>-0.5</tspan></text>
<text transform="translate(1360.21,1131.00)" font-size="26.44" xml:space="preserve" stroke="#000" stroke-width="0.30" stroke-linejoin="round"><tspan>-0.9</tspan></text>
<line x1="920" y1="667.5" x2="1414" y2="667.5" stroke="#000" stroke-width="2.7"/>
<line x1="920" y1="1155.6" x2="1414" y2="1155.6" stroke="#000" stroke-width="2.7"/>
<line x1="923" y1="669" x2="923" y2="1155" stroke="#000" stroke-width="2.7"/>
<line x1="1411.7" y1="669" x2="1411.7" y2="1155" stroke="#000" stroke-width="2.7"/>
<line x1="1166.8" y1="669" x2="1166.8" y2="1158" stroke="#000" stroke-width="2.7"/>
<line x1="920" y1="912.5" x2="1410" y2="912.5" stroke="#000" stroke-width="2.7"/>
<line x1="920" y1="723.2" x2="952" y2="723.2" stroke="#000" stroke-width="2.7"/>
<line x1="920" y1="818" x2="952" y2="818" stroke="#000" stroke-width="2.7"/>
<line x1="920" y1="1005.5" x2="952" y2="1005.5" stroke="#000" stroke-width="2.7"/>
<line x1="920" y1="1100.2" x2="952" y2="1100.2" stroke="#000" stroke-width="2.7"/>
<line x1="977.8" y1="1126.4" x2="977.8" y2="1158" stroke="#000" stroke-width="2.7"/>
<line x1="1072.6" y1="1126.4" x2="1072.6" y2="1158" stroke="#000" stroke-width="2.7"/>
<line x1="1260.9" y1="1126.4" x2="1260.9" y2="1158" stroke="#000" stroke-width="2.7"/>
<line x1="1355" y1="1126.4" x2="1355" y2="1158" stroke="#000" stroke-width="2.7"/>
<text transform="translate(859.00,727.00) scale(0.9500,1)" font-size="35.60" xml:space="preserve" stroke="#000" stroke-width="0.35" stroke-linejoin="round"><tspan>0.4</tspan></text>
<text transform="translate(859.68,821.80) scale(0.9500,1)" font-size="35.60" xml:space="preserve" stroke="#000" stroke-width="0.35" stroke-linejoin="round"><tspan>0.2</tspan></text>
<text transform="translate(859.34,916.30) scale(0.9500,1)" font-size="35.60" xml:space="preserve" stroke="#000" stroke-width="0.35" stroke-linejoin="round"><tspan>0.0</tspan></text>
<text transform="translate(847.55,1009.30) scale(0.9500,1)" font-size="35.60" xml:space="preserve" stroke="#000" stroke-width="0.35" stroke-linejoin="round"><tspan>-0.2</tspan></text>
<text transform="translate(846.88,1104.00) scale(0.9500,1)" font-size="35.60" xml:space="preserve" stroke="#000" stroke-width="0.35" stroke-linejoin="round"><tspan>-0.4</tspan></text>
<text transform="translate(949.98,1198.20) scale(0.9500,1)" font-size="35.60" xml:space="preserve" stroke="#000" stroke-width="0.35" stroke-linejoin="round"><tspan>-0.4</tspan></text>
<text transform="translate(1044.41,1198.20) scale(0.9500,1)" font-size="35.60" xml:space="preserve" stroke="#000" stroke-width="0.35" stroke-linejoin="round"><tspan>-0.2</tspan></text>
<text transform="translate(1145.50,1198.20) scale(0.9500,1)" font-size="35.60" xml:space="preserve" stroke="#000" stroke-width="0.35" stroke-linejoin="round"><tspan>0.0</tspan></text>
<text transform="translate(1239.66,1198.20) scale(0.9500,1)" font-size="35.60" xml:space="preserve" stroke="#000" stroke-width="0.35" stroke-linejoin="round"><tspan>0.2</tspan></text>
<text transform="translate(1333.33,1198.20) scale(0.9500,1)" font-size="35.60" xml:space="preserve" stroke="#000" stroke-width="0.35" stroke-linejoin="round"><tspan>0.4</tspan></text>
<text transform="translate(1090.17,1241.60)" font-size="43.78" xml:space="preserve" stroke="#000" stroke-width="0.35" stroke-linejoin="round"><tspan font-style="italic">q</tspan><tspan font-style="italic" font-size="24.52" dy="14.45">x</tspan><tspan dy="-14.45"> (r.l.u.)</tspan></text>
<text transform="translate(838.00,1000.82) rotate(-90) scale(1.0000,1)" font-size="43.50" xml:space="preserve" stroke="#000" stroke-width="0.35" stroke-linejoin="round"><tspan font-style="italic">q</tspan><tspan font-style="italic" font-size="24.36" dy="14.36">y</tspan><tspan dy="-14.36"> (r.l.u.)</tspan></text>
<text transform="translate(980.30,720.80)" font-size="43.57" xml:space="preserve" stroke="#000" stroke-width="0.30" stroke-linejoin="round"><tspan font-style="italic">V</tspan><tspan>(</tspan><tspan font-weight="bold">q</tspan><tspan>)</tspan></text>
<line x1="1168.5" y1="910.8" x2="1314" y2="766.5" stroke="#5aafdc" stroke-width="4.6"/>
<path d="M1327.7,753 L1320.3,780.5 L1300.2,760.3 Z" fill="#5aafdc"/>
<line x1="1166.8" y1="912.8" x2="1364" y2="912.8" stroke="#f09100" stroke-width="5.6"/>
<path d="M1388,912.6 L1362.5,926.5 L1362.5,898.5 Z" fill="#f09100" stroke="#f09100" stroke-width="1.5" stroke-linejoin="round"/>
<text transform="translate(1455.16,660.00)" font-size="53.54" xml:space="preserve"><tspan font-weight="bold">e</tspan></text>
<path d="M1658.1,679.8 C1659.8,690.9 1664.8,725.4 1668.3,746.7 C1671.8,768 1675.6,789.9 1679.4,807.6 C1683.2,825.4 1686.6,836.3 1691.1,853.2 C1695.6,870.1 1700.8,892.1 1706.3,909 C1711.8,925.9 1717.7,940.2 1724,954.6 C1730.3,969 1737.5,983.3 1744.3,995.1 C1751.1,1006.9 1757.8,1017.2 1764.6,1025.5 C1771.4,1033.8 1778.2,1040 1784.9,1044.8 C1791.7,1049.6 1798.8,1052.5 1805.1,1054.4 C1811.4,1056.3 1816.8,1056.6 1822.9,1056.4 C1829.1,1056.2 1835.7,1055.1 1842,1053.5 C1848.3,1051.9 1853.5,1049.9 1860.9,1046.8 C1868.3,1043.7 1877.8,1039.1 1886.3,1034.7 C1894.8,1030.3 1903.1,1025.4 1911.6,1020.5 C1920,1015.6 1928.5,1010.4 1937,1005.3 C1945.5,1000.2 1953.9,994.9 1962.3,990 C1970.7,985.1 1979.1,980.5 1987.6,975.9 C1996,971.3 2004.7,966.4 2013,962.2 C2021.3,958 2033.2,952.5 2037.3,950.5" fill="none" stroke="#f09100" stroke-width="6.2" />
<path d="M1653,679.8 C1654.7,690.9 1659.8,725.4 1663.2,746.7 C1666.6,768 1669.9,789.9 1673.3,807.6 C1676.7,825.4 1679.3,836.3 1683.5,853.2 C1687.7,870.1 1693.6,893 1698.7,909 C1703.8,925 1708,935.1 1713.9,949.5 C1719.8,963.9 1727.5,982.4 1734.2,995.1 C1741,1007.8 1747.7,1016.6 1754.4,1025.5 C1761.2,1034.4 1768.8,1042.9 1774.7,1048.4 C1780.6,1053.9 1785.2,1056.3 1789.9,1058.5 C1794.6,1060.7 1797.9,1061.2 1802.6,1061.3 C1807.3,1061.4 1812.5,1060.6 1818,1059 C1823.5,1057.4 1828.4,1055.8 1835.6,1051.9 C1842.8,1048 1852.5,1042.2 1860.9,1035.7 C1869.4,1029.2 1877.8,1021.2 1886.3,1012.9 C1894.8,1004.6 1903.1,995.3 1911.6,986 C1920,976.7 1928.5,967.4 1937,957.1 C1945.5,946.8 1953.9,935.6 1962.3,924.2 C1970.7,912.8 1979.1,901.4 1987.6,888.7 C1996,876 2004.7,862.5 2013,848.1 C2021.3,833.7 2033.2,810.1 2037.3,802.5" fill="none" stroke="#00a5d7" stroke-width="6.2" />
<line x1="1802" y1="1108.7" x2="1802" y2="1084" stroke="#00a5d7" stroke-width="4"/>
<path d="M1802,1072.4 L1793.8,1087.5 L1810.2,1087.5 Z" fill="#00a5d7"/>
<line x1="1822.8" y1="1108.7" x2="1822.8" y2="1084" stroke="#f09100" stroke-width="4"/>
<path d="M1822.8,1072.4 L1814.6,1087.5 L1831,1087.5 Z" fill="#f09100"/>
<line x1="1557.5" y1="667.2" x2="2050" y2="667.2" stroke="#000" stroke-width="2.7"/>
<line x1="1557.5" y1="1154.9" x2="2050" y2="1154.9" stroke="#000" stroke-width="2.7"/>
<line x1="1560.2" y1="669" x2="1560.2" y2="1154" stroke="#000" stroke-width="2.7"/>
<line x1="2048.3" y1="669" x2="2048.3" y2="1154" stroke="#000" stroke-width="2.7"/>
<line x1="1603.8" y1="664.5" x2="1603.8" y2="696.3" stroke="#000" stroke-width="2.7"/>
<line x1="1603.8" y1="1126.9" x2="1603.8" y2="1157.5" stroke="#000" stroke-width="2.7"/>
<line x1="1737.4" y1="664.5" x2="1737.4" y2="696.3" stroke="#000" stroke-width="2.7"/>
<line x1="1737.4" y1="1126.9" x2="1737.4" y2="1157.5" stroke="#000" stroke-width="2.7"/>
<line x1="1871" y1="664.5" x2="1871" y2="696.3" stroke="#000" stroke-width="2.7"/>
<line x1="1871" y1="1126.9" x2="1871" y2="1157.5" stroke="#000" stroke-width="2.7"/>
<line x1="2004.6" y1="664.5" x2="2004.6" y2="696.3" stroke="#000" stroke-width="2.7"/>
<line x1="2004.6" y1="1126.9" x2="2004.6" y2="1157.5" stroke="#000" stroke-width="2.7"/>
<path d="M1829.8,1142.5 L1842,1154.8 L1829.8,1167 L1817.6,1154.8 Z" fill="#e64b2d"/>
<text transform="translate(1709.96,1199.60) scale(0.9500,1)" font-size="35.60" xml:space="preserve" stroke="#000" stroke-width="0.35" stroke-linejoin="round"><tspan>0.2</tspan></text>
<text transform="translate(1974.33,1199.60) scale(0.9500,1)" font-size="35.60" xml:space="preserve" stroke="#000" stroke-width="0.35" stroke-linejoin="round"><tspan>0.4</tspan></text>
<text transform="translate(1751.07,1242.40)" font-size="43.71" xml:space="preserve" stroke="#000" stroke-width="0.35" stroke-linejoin="round"><tspan font-style="italic">q</tspan><tspan> (r.l.u.)</tspan></text>
<text transform="translate(1476.00,1107.71) rotate(-90) scale(1.0000,1)" font-size="43.43" xml:space="preserve" stroke="#000" stroke-width="0.35" stroke-linejoin="round"><tspan>Intensity (arb. units)</tspan></text>
<text transform="translate(1785.24,760.00)" font-size="44.25" xml:space="preserve" stroke="#000" stroke-width="0.30" stroke-linejoin="round"><tspan font-style="italic">V</tspan><tspan>(</tspan><tspan font-style="italic">q</tspan><tspan>)</tspan></text>
<text transform="translate(1925.52,808.40) scale(1.0205,1)" font-size="33.00" xml:space="preserve" fill="#00a5d7"><tspan font-style="italic">φ</tspan></text>
<text transform="translate(1950.01,808.40) scale(1.5120,1)" font-size="33.00" xml:space="preserve" fill="#00a5d7"><tspan>=</tspan></text>
<text transform="translate(1978.85,808.40)" font-size="34.04" xml:space="preserve" fill="#00a5d7"><tspan>45°</tspan></text>
<text transform="translate(1948.19,1022.40) scale(1.0515,1)" font-size="33.00" xml:space="preserve" fill="#f09100"><tspan font-style="italic">φ</tspan></text>
<text transform="translate(1975.19,1022.40) scale(1.4620,1)" font-size="33.00" xml:space="preserve" fill="#f09100"><tspan>=</tspan></text>
<text transform="translate(2002.66,1022.40)" font-size="33.57" xml:space="preserve" fill="#f09100"><tspan>0°</tspan></text>
<text transform="translate(1796.05,1196.00)" font-size="27.18" xml:space="preserve" fill="#e0301e" stroke="#e0301e" stroke-width="0.40" stroke-linejoin="round"><tspan font-style="italic">q</tspan><tspan>=</tspan><tspan font-style="italic">q</tspan><tspan font-style="italic" font-size="18.48" dy="5.98">CO</tspan></text>
<line x1="1798" y1="1171.6" x2="1814.5" y2="1171.6" stroke="#e0301e" stroke-width="1.9"/>
</svg>
</body></html>
